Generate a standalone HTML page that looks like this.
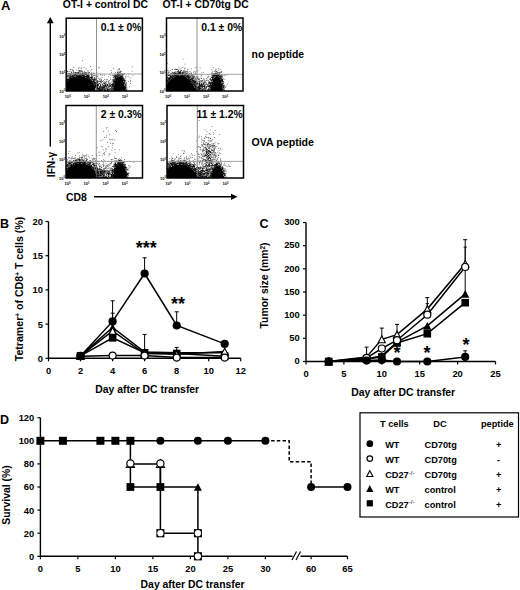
<!DOCTYPE html>
<html><head><meta charset="utf-8"><style>
html,body{margin:0;padding:0;background:#fff;}
svg{display:block;}
text{font-family:"Liberation Sans",sans-serif;font-weight:bold;fill:#000;}
</style></head><body>
<svg width="520" height="590" viewBox="0 0 520 590">
<defs><filter id="bl" x="-5%" y="-5%" width="110%" height="110%"><feGaussianBlur stdDeviation="0.45"/></filter></defs>
<text x="0.9" y="9.6" font-size="13" text-anchor="start" >A</text>
<text x="62.8" y="8.4" font-size="10.4" text-anchor="start" >OT-I + control DC</text>
<text x="162.4" y="8.4" font-size="10.4" text-anchor="start" >OT-I + CD70tg DC</text>
<text x="251.6" y="58.2" font-size="10.4" text-anchor="start" >no peptide</text>
<text x="251.6" y="146" font-size="10.6" text-anchor="start" >OVA peptide</text>
<path d="M66.2 90.0h1v1h-1zM66.2 89.0h1v1h-1zM66.2 88.0h1v1h-1zM66.2 87.0h1v1h-1zM66.2 86.0h1v1h-1zM66.2 85.0h1v1h-1zM66.2 84.0h1v1h-1zM66.2 83.0h1v1h-1zM66.2 82.0h1v1h-1zM67.2 90.0h1v1h-1zM67.2 89.0h1v1h-1zM67.2 88.0h1v1h-1zM67.2 87.0h1v1h-1zM67.2 86.0h1v1h-1zM67.2 85.0h1v1h-1zM67.2 84.0h1v1h-1zM67.2 83.0h1v1h-1zM67.2 82.0h1v1h-1zM67.2 81.0h1v1h-1zM68.2 90.0h1v1h-1zM68.2 89.0h1v1h-1zM68.2 88.0h1v1h-1zM68.2 87.0h1v1h-1zM68.2 86.0h1v1h-1zM68.2 85.0h1v1h-1zM68.2 84.0h1v1h-1zM68.2 83.0h1v1h-1zM68.2 82.0h1v1h-1zM68.2 81.0h1v1h-1zM68.2 80.0h1v1h-1zM69.2 90.0h1v1h-1zM69.2 89.0h1v1h-1zM69.2 88.0h1v1h-1zM69.2 87.0h1v1h-1zM69.2 86.0h1v1h-1zM69.2 85.0h1v1h-1zM69.2 84.0h1v1h-1zM69.2 83.0h1v1h-1zM69.2 82.0h1v1h-1zM69.2 81.0h1v1h-1zM69.2 80.0h1v1h-1zM69.2 79.0h1v1h-1zM70.2 90.0h1v1h-1zM70.2 89.0h1v1h-1zM70.2 88.0h1v1h-1zM70.2 87.0h1v1h-1zM70.2 86.0h1v1h-1zM70.2 85.0h1v1h-1zM70.2 84.0h1v1h-1zM70.2 83.0h1v1h-1zM70.2 82.0h1v1h-1zM70.2 81.0h1v1h-1zM70.2 80.0h1v1h-1zM70.2 79.0h1v1h-1zM70.2 78.0h1v1h-1zM71.2 90.0h1v1h-1zM71.2 89.0h1v1h-1zM71.2 88.0h1v1h-1zM71.2 87.0h1v1h-1zM71.2 86.0h1v1h-1zM71.2 85.0h1v1h-1zM71.2 84.0h1v1h-1zM71.2 83.0h1v1h-1zM71.2 82.0h1v1h-1zM71.2 81.0h1v1h-1zM71.2 80.0h1v1h-1zM71.2 79.0h1v1h-1zM71.2 78.0h1v1h-1zM72.2 90.0h1v1h-1zM72.2 89.0h1v1h-1zM72.2 88.0h1v1h-1zM72.2 87.0h1v1h-1zM72.2 86.0h1v1h-1zM72.2 85.0h1v1h-1zM72.2 84.0h1v1h-1zM72.2 83.0h1v1h-1zM72.2 82.0h1v1h-1zM72.2 81.0h1v1h-1zM72.2 80.0h1v1h-1zM72.2 79.0h1v1h-1zM72.2 78.0h1v1h-1zM72.2 77.0h1v1h-1zM73.2 90.0h1v1h-1zM73.2 89.0h1v1h-1zM73.2 88.0h1v1h-1zM73.2 87.0h1v1h-1zM73.2 86.0h1v1h-1zM73.2 85.0h1v1h-1zM73.2 84.0h1v1h-1zM73.2 83.0h1v1h-1zM73.2 82.0h1v1h-1zM73.2 81.0h1v1h-1zM73.2 80.0h1v1h-1zM73.2 79.0h1v1h-1zM73.2 78.0h1v1h-1zM73.2 77.0h1v1h-1zM74.2 90.0h1v1h-1zM74.2 89.0h1v1h-1zM74.2 88.0h1v1h-1zM74.2 87.0h1v1h-1zM74.2 86.0h1v1h-1zM74.2 85.0h1v1h-1zM74.2 84.0h1v1h-1zM74.2 83.0h1v1h-1zM74.2 82.0h1v1h-1zM74.2 81.0h1v1h-1zM74.2 80.0h1v1h-1zM74.2 79.0h1v1h-1zM74.2 78.0h1v1h-1zM74.2 77.0h1v1h-1zM75.2 90.0h1v1h-1zM75.2 89.0h1v1h-1zM75.2 88.0h1v1h-1zM75.2 87.0h1v1h-1zM75.2 86.0h1v1h-1zM75.2 85.0h1v1h-1zM75.2 84.0h1v1h-1zM75.2 83.0h1v1h-1zM75.2 82.0h1v1h-1zM75.2 81.0h1v1h-1zM75.2 80.0h1v1h-1zM75.2 79.0h1v1h-1zM75.2 78.0h1v1h-1zM75.2 77.0h1v1h-1zM76.2 90.0h1v1h-1zM76.2 89.0h1v1h-1zM76.2 88.0h1v1h-1zM76.2 87.0h1v1h-1zM76.2 86.0h1v1h-1zM76.2 85.0h1v1h-1zM76.2 84.0h1v1h-1zM76.2 83.0h1v1h-1zM76.2 82.0h1v1h-1zM76.2 81.0h1v1h-1zM76.2 80.0h1v1h-1zM76.2 79.0h1v1h-1zM76.2 78.0h1v1h-1zM76.2 77.0h1v1h-1zM76.2 76.0h1v1h-1zM77.2 90.0h1v1h-1zM77.2 89.0h1v1h-1zM77.2 88.0h1v1h-1zM77.2 87.0h1v1h-1zM77.2 86.0h1v1h-1zM77.2 85.0h1v1h-1zM77.2 84.0h1v1h-1zM77.2 83.0h1v1h-1zM77.2 82.0h1v1h-1zM77.2 81.0h1v1h-1zM77.2 80.0h1v1h-1zM77.2 79.0h1v1h-1zM77.2 78.0h1v1h-1zM77.2 77.0h1v1h-1zM77.2 76.0h1v1h-1zM78.2 90.0h1v1h-1zM78.2 89.0h1v1h-1zM78.2 88.0h1v1h-1zM78.2 87.0h1v1h-1zM78.2 86.0h1v1h-1zM78.2 85.0h1v1h-1zM78.2 84.0h1v1h-1zM78.2 83.0h1v1h-1zM78.2 82.0h1v1h-1zM78.2 81.0h1v1h-1zM78.2 80.0h1v1h-1zM78.2 79.0h1v1h-1zM78.2 78.0h1v1h-1zM78.2 77.0h1v1h-1zM78.2 76.0h1v1h-1zM79.2 90.0h1v1h-1zM79.2 89.0h1v1h-1zM79.2 88.0h1v1h-1zM79.2 87.0h1v1h-1zM79.2 86.0h1v1h-1zM79.2 85.0h1v1h-1zM79.2 84.0h1v1h-1zM79.2 83.0h1v1h-1zM79.2 82.0h1v1h-1zM79.2 81.0h1v1h-1zM79.2 80.0h1v1h-1zM79.2 79.0h1v1h-1zM79.2 78.0h1v1h-1zM79.2 77.0h1v1h-1zM79.2 76.0h1v1h-1zM80.2 90.0h1v1h-1zM80.2 89.0h1v1h-1zM80.2 88.0h1v1h-1zM80.2 87.0h1v1h-1zM80.2 86.0h1v1h-1zM80.2 85.0h1v1h-1zM80.2 84.0h1v1h-1zM80.2 83.0h1v1h-1zM80.2 82.0h1v1h-1zM80.2 81.0h1v1h-1zM80.2 80.0h1v1h-1zM80.2 79.0h1v1h-1zM80.2 78.0h1v1h-1zM80.2 77.0h1v1h-1zM80.2 76.0h1v1h-1zM81.2 90.0h1v1h-1zM81.2 89.0h1v1h-1zM81.2 88.0h1v1h-1zM81.2 87.0h1v1h-1zM81.2 86.0h1v1h-1zM81.2 85.0h1v1h-1zM81.2 84.0h1v1h-1zM81.2 83.0h1v1h-1zM81.2 82.0h1v1h-1zM81.2 81.0h1v1h-1zM81.2 80.0h1v1h-1zM81.2 79.0h1v1h-1zM81.2 78.0h1v1h-1zM81.2 77.0h1v1h-1zM81.2 76.0h1v1h-1zM82.2 90.0h1v1h-1zM82.2 89.0h1v1h-1zM82.2 88.0h1v1h-1zM82.2 87.0h1v1h-1zM82.2 86.0h1v1h-1zM82.2 85.0h1v1h-1zM82.2 84.0h1v1h-1zM82.2 83.0h1v1h-1zM82.2 82.0h1v1h-1zM82.2 81.0h1v1h-1zM82.2 80.0h1v1h-1zM82.2 79.0h1v1h-1zM82.2 78.0h1v1h-1zM82.2 77.0h1v1h-1zM83.2 90.0h1v1h-1zM83.2 89.0h1v1h-1zM83.2 88.0h1v1h-1zM83.2 87.0h1v1h-1zM83.2 86.0h1v1h-1zM83.2 85.0h1v1h-1zM83.2 84.0h1v1h-1zM83.2 83.0h1v1h-1zM83.2 82.0h1v1h-1zM83.2 81.0h1v1h-1zM83.2 80.0h1v1h-1zM83.2 79.0h1v1h-1zM83.2 78.0h1v1h-1zM83.2 77.0h1v1h-1zM84.2 90.0h1v1h-1zM84.2 89.0h1v1h-1zM84.2 88.0h1v1h-1zM84.2 87.0h1v1h-1zM84.2 86.0h1v1h-1zM84.2 85.0h1v1h-1zM84.2 84.0h1v1h-1zM84.2 83.0h1v1h-1zM84.2 82.0h1v1h-1zM84.2 81.0h1v1h-1zM84.2 80.0h1v1h-1zM84.2 79.0h1v1h-1zM84.2 78.0h1v1h-1zM84.2 77.0h1v1h-1zM85.2 90.0h1v1h-1zM85.2 89.0h1v1h-1zM85.2 88.0h1v1h-1zM85.2 87.0h1v1h-1zM85.2 86.0h1v1h-1zM85.2 85.0h1v1h-1zM85.2 84.0h1v1h-1zM85.2 83.0h1v1h-1zM85.2 82.0h1v1h-1zM85.2 81.0h1v1h-1zM85.2 80.0h1v1h-1zM85.2 79.0h1v1h-1zM85.2 78.0h1v1h-1zM86.2 90.0h1v1h-1zM86.2 89.0h1v1h-1zM86.2 88.0h1v1h-1zM86.2 87.0h1v1h-1zM86.2 86.0h1v1h-1zM86.2 85.0h1v1h-1zM86.2 84.0h1v1h-1zM86.2 83.0h1v1h-1zM86.2 82.0h1v1h-1zM86.2 81.0h1v1h-1zM86.2 80.0h1v1h-1zM86.2 79.0h1v1h-1zM86.2 78.0h1v1h-1zM87.2 90.0h1v1h-1zM87.2 89.0h1v1h-1zM87.2 88.0h1v1h-1zM87.2 87.0h1v1h-1zM87.2 86.0h1v1h-1zM87.2 85.0h1v1h-1zM87.2 84.0h1v1h-1zM87.2 83.0h1v1h-1zM87.2 82.0h1v1h-1zM87.2 81.0h1v1h-1zM87.2 80.0h1v1h-1zM87.2 79.0h1v1h-1zM88.2 90.0h1v1h-1zM88.2 89.0h1v1h-1zM88.2 88.0h1v1h-1zM88.2 87.0h1v1h-1zM88.2 86.0h1v1h-1zM88.2 85.0h1v1h-1zM88.2 84.0h1v1h-1zM88.2 83.0h1v1h-1zM88.2 82.0h1v1h-1zM88.2 81.0h1v1h-1zM88.2 80.0h1v1h-1zM88.2 79.0h1v1h-1zM89.2 90.0h1v1h-1zM89.2 89.0h1v1h-1zM89.2 88.0h1v1h-1zM89.2 87.0h1v1h-1zM89.2 86.0h1v1h-1zM89.2 85.0h1v1h-1zM89.2 84.0h1v1h-1zM89.2 83.0h1v1h-1zM89.2 82.0h1v1h-1zM89.2 81.0h1v1h-1zM89.2 80.0h1v1h-1zM90.2 90.0h1v1h-1zM90.2 89.0h1v1h-1zM90.2 88.0h1v1h-1zM90.2 87.0h1v1h-1zM90.2 86.0h1v1h-1zM90.2 85.0h1v1h-1zM90.2 84.0h1v1h-1zM90.2 83.0h1v1h-1zM90.2 82.0h1v1h-1zM90.2 81.0h1v1h-1zM91.2 90.0h1v1h-1zM91.2 89.0h1v1h-1zM91.2 88.0h1v1h-1zM91.2 87.0h1v1h-1zM91.2 86.0h1v1h-1zM91.2 85.0h1v1h-1zM91.2 84.0h1v1h-1zM91.2 83.0h1v1h-1zM91.2 82.0h1v1h-1zM92.2 90.0h1v1h-1zM92.2 89.0h1v1h-1zM92.2 88.0h1v1h-1zM92.2 87.0h1v1h-1zM92.2 86.0h1v1h-1zM92.2 85.0h1v1h-1zM92.2 84.0h1v1h-1zM92.2 83.0h1v1h-1zM93.2 90.0h1v1h-1zM93.2 89.0h1v1h-1zM93.2 88.0h1v1h-1zM93.2 87.0h1v1h-1zM93.2 86.0h1v1h-1zM93.2 85.0h1v1h-1zM94.2 90.0h1v1h-1zM94.2 89.0h1v1h-1zM94.2 88.0h1v1h-1zM94.2 87.0h1v1h-1zM94.2 86.0h1v1h-1zM113.2 90.0h1v1h-1zM113.2 89.0h1v1h-1zM113.2 88.0h1v1h-1zM113.2 87.0h1v1h-1zM113.2 86.0h1v1h-1zM113.2 85.0h1v1h-1zM114.2 90.0h1v1h-1zM114.2 89.0h1v1h-1zM114.2 88.0h1v1h-1zM114.2 87.0h1v1h-1zM114.2 86.0h1v1h-1zM114.2 85.0h1v1h-1zM114.2 84.0h1v1h-1zM114.2 83.0h1v1h-1zM114.2 82.0h1v1h-1zM114.2 81.0h1v1h-1zM115.2 90.0h1v1h-1zM115.2 89.0h1v1h-1zM115.2 88.0h1v1h-1zM115.2 87.0h1v1h-1zM115.2 86.0h1v1h-1zM115.2 85.0h1v1h-1zM115.2 84.0h1v1h-1zM115.2 83.0h1v1h-1zM115.2 82.0h1v1h-1zM115.2 81.0h1v1h-1zM115.2 80.0h1v1h-1zM115.2 79.0h1v1h-1zM116.2 90.0h1v1h-1zM116.2 89.0h1v1h-1zM116.2 88.0h1v1h-1zM116.2 87.0h1v1h-1zM116.2 86.0h1v1h-1zM116.2 85.0h1v1h-1zM116.2 84.0h1v1h-1zM116.2 83.0h1v1h-1zM116.2 82.0h1v1h-1zM116.2 81.0h1v1h-1zM116.2 80.0h1v1h-1zM116.2 79.0h1v1h-1zM116.2 78.0h1v1h-1zM117.2 90.0h1v1h-1zM117.2 89.0h1v1h-1zM117.2 88.0h1v1h-1zM117.2 87.0h1v1h-1zM117.2 86.0h1v1h-1zM117.2 85.0h1v1h-1zM117.2 84.0h1v1h-1zM117.2 83.0h1v1h-1zM117.2 82.0h1v1h-1zM117.2 81.0h1v1h-1zM117.2 80.0h1v1h-1zM117.2 79.0h1v1h-1zM117.2 78.0h1v1h-1zM117.2 77.0h1v1h-1zM118.2 90.0h1v1h-1zM118.2 89.0h1v1h-1zM118.2 88.0h1v1h-1zM118.2 87.0h1v1h-1zM118.2 86.0h1v1h-1zM118.2 85.0h1v1h-1zM118.2 84.0h1v1h-1zM118.2 83.0h1v1h-1zM118.2 82.0h1v1h-1zM118.2 81.0h1v1h-1zM118.2 80.0h1v1h-1zM118.2 79.0h1v1h-1zM118.2 78.0h1v1h-1zM118.2 77.0h1v1h-1zM119.2 90.0h1v1h-1zM119.2 89.0h1v1h-1zM119.2 88.0h1v1h-1zM119.2 87.0h1v1h-1zM119.2 86.0h1v1h-1zM119.2 85.0h1v1h-1zM119.2 84.0h1v1h-1zM119.2 83.0h1v1h-1zM119.2 82.0h1v1h-1zM119.2 81.0h1v1h-1zM119.2 80.0h1v1h-1zM119.2 79.0h1v1h-1zM119.2 78.0h1v1h-1zM119.2 77.0h1v1h-1zM120.2 90.0h1v1h-1zM120.2 89.0h1v1h-1zM120.2 88.0h1v1h-1zM120.2 87.0h1v1h-1zM120.2 86.0h1v1h-1zM120.2 85.0h1v1h-1zM120.2 84.0h1v1h-1zM120.2 83.0h1v1h-1zM120.2 82.0h1v1h-1zM120.2 81.0h1v1h-1zM120.2 80.0h1v1h-1zM120.2 79.0h1v1h-1zM120.2 78.0h1v1h-1zM120.2 77.0h1v1h-1zM121.2 90.0h1v1h-1zM121.2 89.0h1v1h-1zM121.2 88.0h1v1h-1zM121.2 87.0h1v1h-1zM121.2 86.0h1v1h-1zM121.2 85.0h1v1h-1zM121.2 84.0h1v1h-1zM121.2 83.0h1v1h-1zM121.2 82.0h1v1h-1zM121.2 81.0h1v1h-1zM121.2 80.0h1v1h-1zM121.2 79.0h1v1h-1zM121.2 78.0h1v1h-1zM122.2 90.0h1v1h-1zM122.2 89.0h1v1h-1zM122.2 88.0h1v1h-1zM122.2 87.0h1v1h-1zM122.2 86.0h1v1h-1zM122.2 85.0h1v1h-1zM122.2 84.0h1v1h-1zM122.2 83.0h1v1h-1zM122.2 82.0h1v1h-1zM122.2 81.0h1v1h-1zM122.2 80.0h1v1h-1zM122.2 79.0h1v1h-1zM123.2 90.0h1v1h-1zM123.2 89.0h1v1h-1zM123.2 88.0h1v1h-1zM123.2 87.0h1v1h-1zM123.2 86.0h1v1h-1zM123.2 85.0h1v1h-1zM123.2 84.0h1v1h-1zM123.2 83.0h1v1h-1zM123.2 82.0h1v1h-1zM124.2 90.0h1v1h-1zM124.2 89.0h1v1h-1zM124.2 88.0h1v1h-1zM124.2 87.0h1v1h-1zM124.2 86.0h1v1h-1z" fill="#000" filter="url(#bl)"/>
<path d="M65.9 81.3h.8v.8h-.8zM66.1 80.9h.8v.8h-.8zM66.1 80.5h.8v.8h-.8zM65.9 80.0h.8v.8h-.8zM66.2 79.5h.8v.8h-.8zM66.1 78.7h.8v.8h-.8zM66.2 78.0h.8v.8h-.8zM65.9 77.0h.8v.8h-.8zM66.2 76.5h.8v.8h-.8zM66.4 80.9h.8v.8h-.8zM66.7 80.5h.8v.8h-.8zM66.7 79.8h.8v.8h-.8zM66.6 79.5h.8v.8h-.8zM66.7 78.7h.8v.8h-.8zM66.5 78.0h.8v.8h-.8zM66.7 75.2h.8v.8h-.8zM67.1 80.2h.8v.8h-.8zM66.9 79.4h.8v.8h-.8zM66.9 79.0h.8v.8h-.8zM67.1 76.8h.8v.8h-.8zM67.2 76.2h.8v.8h-.8zM67.2 75.9h.8v.8h-.8zM67.4 79.9h.8v.8h-.8zM67.4 79.4h.8v.8h-.8zM67.6 78.8h.8v.8h-.8zM67.5 76.2h.8v.8h-.8zM67.6 75.8h.8v.8h-.8zM67.7 75.2h.8v.8h-.8zM68.2 79.5h.8v.8h-.8zM68.1 79.0h.8v.8h-.8zM68.2 78.2h.8v.8h-.8zM68.1 74.9h.8v.8h-.8zM68.4 78.9h.8v.8h-.8zM68.6 78.5h.8v.8h-.8zM68.4 76.7h.8v.8h-.8zM68.7 76.5h.8v.8h-.8zM68.7 75.9h.8v.8h-.8zM68.4 74.4h.8v.8h-.8zM69.1 79.0h.8v.8h-.8zM68.9 78.5h.8v.8h-.8zM69.0 77.4h.8v.8h-.8zM68.9 76.2h.8v.8h-.8zM69.0 74.7h.8v.8h-.8zM69.5 78.4h.8v.8h-.8zM69.5 77.8h.8v.8h-.8zM69.5 77.5h.8v.8h-.8zM69.5 77.0h.8v.8h-.8zM69.5 75.0h.8v.8h-.8zM69.5 74.5h.8v.8h-.8zM70.2 78.0h.8v.8h-.8zM70.0 77.5h.8v.8h-.8zM70.2 77.0h.8v.8h-.8zM70.2 76.5h.8v.8h-.8zM70.1 75.8h.8v.8h-.8zM70.0 74.4h.8v.8h-.8zM70.2 73.7h.8v.8h-.8zM70.7 77.7h.8v.8h-.8zM70.5 77.4h.8v.8h-.8zM70.5 76.4h.8v.8h-.8zM70.7 75.4h.8v.8h-.8zM70.6 74.9h.8v.8h-.8zM70.6 74.5h.8v.8h-.8zM70.9 76.8h.8v.8h-.8zM71.1 76.3h.8v.8h-.8zM71.1 73.4h.8v.8h-.8zM71.6 77.3h.8v.8h-.8zM71.7 76.3h.8v.8h-.8zM71.7 76.0h.8v.8h-.8zM71.7 74.4h.8v.8h-.8zM71.5 72.4h.8v.8h-.8zM72.1 77.0h.8v.8h-.8zM71.9 75.9h.8v.8h-.8zM72.0 75.3h.8v.8h-.8zM72.2 74.9h.8v.8h-.8zM72.4 76.7h.8v.8h-.8zM72.6 76.3h.8v.8h-.8zM72.5 75.0h.8v.8h-.8zM72.4 73.4h.8v.8h-.8zM73.0 76.3h.8v.8h-.8zM73.2 75.9h.8v.8h-.8zM73.2 73.9h.8v.8h-.8zM72.9 72.7h.8v.8h-.8zM73.5 76.3h.8v.8h-.8zM73.4 76.0h.8v.8h-.8zM73.5 75.4h.8v.8h-.8zM73.4 74.8h.8v.8h-.8zM73.6 72.4h.8v.8h-.8zM74.0 75.8h.8v.8h-.8zM74.1 74.7h.8v.8h-.8zM74.0 74.2h.8v.8h-.8zM74.2 72.8h.8v.8h-.8zM74.5 75.7h.8v.8h-.8zM74.5 75.2h.8v.8h-.8zM74.5 74.3h.8v.8h-.8zM74.7 74.0h.8v.8h-.8zM74.5 72.5h.8v.8h-.8zM75.2 76.0h.8v.8h-.8zM75.1 74.7h.8v.8h-.8zM75.1 74.2h.8v.8h-.8zM74.9 72.9h.8v.8h-.8zM75.0 72.0h.8v.8h-.8zM75.6 75.8h.8v.8h-.8zM75.5 75.4h.8v.8h-.8zM75.5 73.4h.8v.8h-.8zM75.4 71.9h.8v.8h-.8zM75.9 76.0h.8v.8h-.8zM76.2 75.5h.8v.8h-.8zM76.0 74.8h.8v.8h-.8zM75.9 74.2h.8v.8h-.8zM76.0 72.0h.8v.8h-.8zM76.4 75.8h.8v.8h-.8zM76.4 74.8h.8v.8h-.8zM76.7 73.2h.8v.8h-.8zM76.4 73.0h.8v.8h-.8zM77.1 75.5h.8v.8h-.8zM77.2 73.7h.8v.8h-.8zM77.0 73.4h.8v.8h-.8zM77.1 72.3h.8v.8h-.8zM77.6 75.8h.8v.8h-.8zM77.6 74.8h.8v.8h-.8zM77.6 74.4h.8v.8h-.8zM77.6 73.8h.8v.8h-.8zM77.6 73.3h.8v.8h-.8zM77.6 72.9h.8v.8h-.8zM78.2 75.2h.8v.8h-.8zM77.9 75.0h.8v.8h-.8zM77.9 73.7h.8v.8h-.8zM78.1 72.8h.8v.8h-.8zM78.1 71.9h.8v.8h-.8zM78.7 75.5h.8v.8h-.8zM78.5 72.7h.8v.8h-.8zM78.5 71.2h.8v.8h-.8zM78.9 75.5h.8v.8h-.8zM79.2 74.7h.8v.8h-.8zM79.0 73.7h.8v.8h-.8zM79.1 71.7h.8v.8h-.8zM79.6 75.3h.8v.8h-.8zM79.6 74.8h.8v.8h-.8zM79.5 73.7h.8v.8h-.8zM79.7 73.3h.8v.8h-.8zM80.1 75.8h.8v.8h-.8zM80.0 75.0h.8v.8h-.8zM80.1 74.2h.8v.8h-.8zM80.2 71.7h.8v.8h-.8zM80.7 75.9h.8v.8h-.8zM80.4 75.4h.8v.8h-.8zM80.4 74.0h.8v.8h-.8zM80.7 73.4h.8v.8h-.8zM81.0 75.9h.8v.8h-.8zM81.1 75.5h.8v.8h-.8zM80.9 73.8h.8v.8h-.8zM81.0 73.5h.8v.8h-.8zM81.1 71.2h.8v.8h-.8zM81.7 75.8h.8v.8h-.8zM81.7 75.5h.8v.8h-.8zM81.5 74.9h.8v.8h-.8zM81.6 74.0h.8v.8h-.8zM81.7 73.0h.8v.8h-.8zM81.7 71.7h.8v.8h-.8zM82.2 75.5h.8v.8h-.8zM82.1 74.7h.8v.8h-.8zM81.9 74.5h.8v.8h-.8zM81.9 74.0h.8v.8h-.8zM82.4 76.0h.8v.8h-.8zM82.5 75.5h.8v.8h-.8zM82.5 74.9h.8v.8h-.8zM82.6 74.2h.8v.8h-.8zM82.6 73.4h.8v.8h-.8zM82.5 73.0h.8v.8h-.8zM82.5 71.7h.8v.8h-.8zM82.9 76.3h.8v.8h-.8zM83.2 75.7h.8v.8h-.8zM82.9 75.5h.8v.8h-.8zM83.1 74.9h.8v.8h-.8zM82.9 72.9h.8v.8h-.8zM83.5 76.3h.8v.8h-.8zM83.7 76.0h.8v.8h-.8zM83.5 75.2h.8v.8h-.8zM83.7 74.7h.8v.8h-.8zM83.7 73.8h.8v.8h-.8zM83.7 72.3h.8v.8h-.8zM84.0 76.3h.8v.8h-.8zM84.1 75.7h.8v.8h-.8zM84.1 75.3h.8v.8h-.8zM84.2 73.2h.8v.8h-.8zM84.2 72.9h.8v.8h-.8zM83.9 72.2h.8v.8h-.8zM84.7 76.9h.8v.8h-.8zM84.6 76.2h.8v.8h-.8zM84.4 75.7h.8v.8h-.8zM84.4 74.0h.8v.8h-.8zM84.6 73.3h.8v.8h-.8zM84.4 73.0h.8v.8h-.8zM84.9 76.3h.8v.8h-.8zM85.1 76.0h.8v.8h-.8zM85.1 73.9h.8v.8h-.8zM85.2 73.5h.8v.8h-.8zM85.2 72.2h.8v.8h-.8zM85.7 77.5h.8v.8h-.8zM85.7 76.3h.8v.8h-.8zM85.7 75.9h.8v.8h-.8zM85.7 74.7h.8v.8h-.8zM85.6 74.4h.8v.8h-.8zM85.5 73.8h.8v.8h-.8zM85.9 77.3h.8v.8h-.8zM86.1 76.7h.8v.8h-.8zM86.1 76.2h.8v.8h-.8zM86.0 76.0h.8v.8h-.8zM86.1 74.4h.8v.8h-.8zM86.2 73.4h.8v.8h-.8zM85.9 72.8h.8v.8h-.8zM86.5 77.9h.8v.8h-.8zM86.5 77.2h.8v.8h-.8zM86.6 76.8h.8v.8h-.8zM86.4 76.3h.8v.8h-.8zM86.4 75.2h.8v.8h-.8zM86.6 74.3h.8v.8h-.8zM86.4 73.9h.8v.8h-.8zM87.1 77.7h.8v.8h-.8zM86.9 77.4h.8v.8h-.8zM87.2 76.4h.8v.8h-.8zM87.2 75.7h.8v.8h-.8zM87.1 75.0h.8v.8h-.8zM87.4 78.5h.8v.8h-.8zM87.4 77.9h.8v.8h-.8zM87.5 77.3h.8v.8h-.8zM87.7 76.5h.8v.8h-.8zM87.7 75.8h.8v.8h-.8zM87.7 74.9h.8v.8h-.8zM87.6 73.8h.8v.8h-.8zM88.0 78.7h.8v.8h-.8zM88.0 78.2h.8v.8h-.8zM87.9 77.8h.8v.8h-.8zM88.2 77.2h.8v.8h-.8zM88.1 76.9h.8v.8h-.8zM88.0 76.2h.8v.8h-.8zM88.1 75.8h.8v.8h-.8zM88.2 75.5h.8v.8h-.8zM88.1 75.0h.8v.8h-.8zM88.0 74.0h.8v.8h-.8zM87.9 73.5h.8v.8h-.8zM88.5 79.0h.8v.8h-.8zM88.5 78.5h.8v.8h-.8zM88.4 77.2h.8v.8h-.8zM88.5 77.0h.8v.8h-.8zM88.6 76.3h.8v.8h-.8zM88.5 75.2h.8v.8h-.8zM89.0 79.2h.8v.8h-.8zM89.0 78.8h.8v.8h-.8zM89.2 77.8h.8v.8h-.8zM89.0 76.8h.8v.8h-.8zM89.5 79.9h.8v.8h-.8zM89.6 79.5h.8v.8h-.8zM89.5 78.7h.8v.8h-.8zM89.5 78.4h.8v.8h-.8zM89.6 76.7h.8v.8h-.8zM89.5 76.5h.8v.8h-.8zM89.5 74.7h.8v.8h-.8zM90.1 80.3h.8v.8h-.8zM90.0 80.0h.8v.8h-.8zM90.0 78.7h.8v.8h-.8zM89.9 77.3h.8v.8h-.8zM90.1 76.9h.8v.8h-.8zM90.7 80.9h.8v.8h-.8zM90.5 79.7h.8v.8h-.8zM90.7 79.2h.8v.8h-.8zM90.6 78.7h.8v.8h-.8zM90.7 78.2h.8v.8h-.8zM90.7 77.0h.8v.8h-.8zM91.0 81.4h.8v.8h-.8zM91.2 81.0h.8v.8h-.8zM91.1 80.4h.8v.8h-.8zM91.1 79.9h.8v.8h-.8zM90.9 79.2h.8v.8h-.8zM91.0 78.4h.8v.8h-.8zM91.2 77.7h.8v.8h-.8zM91.0 77.3h.8v.8h-.8zM91.2 75.2h.8v.8h-.8zM91.4 81.7h.8v.8h-.8zM91.7 81.5h.8v.8h-.8zM91.5 80.7h.8v.8h-.8zM91.4 80.5h.8v.8h-.8zM91.5 78.0h.8v.8h-.8zM91.6 76.9h.8v.8h-.8zM91.5 76.2h.8v.8h-.8zM91.4 75.8h.8v.8h-.8zM92.0 82.2h.8v.8h-.8zM92.0 81.3h.8v.8h-.8zM92.2 80.9h.8v.8h-.8zM92.1 79.2h.8v.8h-.8zM92.2 77.8h.8v.8h-.8zM92.0 76.3h.8v.8h-.8zM92.7 83.2h.8v.8h-.8zM92.5 82.8h.8v.8h-.8zM92.7 81.4h.8v.8h-.8zM92.7 81.0h.8v.8h-.8zM92.6 79.8h.8v.8h-.8zM92.7 79.4h.8v.8h-.8zM92.5 78.8h.8v.8h-.8zM92.4 77.8h.8v.8h-.8zM92.5 77.2h.8v.8h-.8zM92.9 83.9h.8v.8h-.8zM93.1 83.2h.8v.8h-.8zM92.9 82.0h.8v.8h-.8zM92.9 80.2h.8v.8h-.8zM93.0 80.0h.8v.8h-.8zM93.4 84.4h.8v.8h-.8zM93.7 84.0h.8v.8h-.8zM93.5 83.3h.8v.8h-.8zM93.6 82.7h.8v.8h-.8zM93.6 82.0h.8v.8h-.8zM93.4 81.5h.8v.8h-.8zM93.7 80.8h.8v.8h-.8zM93.4 80.3h.8v.8h-.8zM93.4 79.3h.8v.8h-.8zM93.7 78.5h.8v.8h-.8zM94.1 85.3h.8v.8h-.8zM93.9 83.7h.8v.8h-.8zM93.9 83.5h.8v.8h-.8zM94.1 82.9h.8v.8h-.8zM93.9 82.3h.8v.8h-.8zM94.0 81.7h.8v.8h-.8zM94.0 79.9h.8v.8h-.8zM94.1 79.2h.8v.8h-.8zM94.1 78.7h.8v.8h-.8zM94.0 77.3h.8v.8h-.8zM94.6 86.3h.8v.8h-.8zM94.4 85.9h.8v.8h-.8zM94.6 85.3h.8v.8h-.8zM94.7 84.4h.8v.8h-.8zM94.5 83.9h.8v.8h-.8zM94.4 82.9h.8v.8h-.8zM94.6 82.3h.8v.8h-.8zM94.7 81.7h.8v.8h-.8zM94.4 81.3h.8v.8h-.8zM94.5 79.2h.8v.8h-.8zM94.4 78.2h.8v.8h-.8zM95.2 87.2h.8v.8h-.8zM95.0 86.7h.8v.8h-.8zM95.2 86.2h.8v.8h-.8zM95.2 85.8h.8v.8h-.8zM95.0 85.3h.8v.8h-.8zM95.2 84.7h.8v.8h-.8zM94.9 84.2h.8v.8h-.8zM94.9 82.7h.8v.8h-.8zM95.0 82.2h.8v.8h-.8zM95.1 82.0h.8v.8h-.8zM95.2 80.2h.8v.8h-.8zM95.5 90.4h.8v.8h-.8zM95.6 89.9h.8v.8h-.8zM95.7 89.3h.8v.8h-.8zM95.6 88.4h.8v.8h-.8zM95.6 87.3h.8v.8h-.8zM95.4 86.9h.8v.8h-.8zM95.7 86.5h.8v.8h-.8zM95.5 85.7h.8v.8h-.8zM95.6 85.5h.8v.8h-.8zM95.6 84.9h.8v.8h-.8zM95.5 84.2h.8v.8h-.8zM95.6 83.9h.8v.8h-.8zM95.4 83.2h.8v.8h-.8zM95.5 82.5h.8v.8h-.8zM95.4 79.3h.8v.8h-.8zM95.6 79.0h.8v.8h-.8zM95.9 90.0h.8v.8h-.8zM96.2 89.5h.8v.8h-.8zM96.0 88.9h.8v.8h-.8zM96.1 87.7h.8v.8h-.8zM96.1 87.4h.8v.8h-.8zM96.1 86.8h.8v.8h-.8zM96.2 86.5h.8v.8h-.8zM96.2 85.7h.8v.8h-.8zM96.2 85.5h.8v.8h-.8zM95.9 84.2h.8v.8h-.8zM96.2 84.0h.8v.8h-.8zM96.0 83.5h.8v.8h-.8zM96.0 82.8h.8v.8h-.8zM96.2 80.7h.8v.8h-.8zM96.0 79.5h.8v.8h-.8zM96.4 90.2h.8v.8h-.8zM96.6 89.7h.8v.8h-.8zM96.6 89.2h.8v.8h-.8zM96.5 88.7h.8v.8h-.8zM96.7 88.4h.8v.8h-.8zM96.5 87.8h.8v.8h-.8zM96.4 86.7h.8v.8h-.8zM96.7 86.0h.8v.8h-.8zM96.7 85.2h.8v.8h-.8zM96.5 84.4h.8v.8h-.8zM96.5 83.3h.8v.8h-.8zM96.5 82.0h.8v.8h-.8zM96.7 81.2h.8v.8h-.8zM96.5 80.7h.8v.8h-.8zM96.9 89.5h.8v.8h-.8zM96.9 89.0h.8v.8h-.8zM97.2 88.2h.8v.8h-.8zM97.2 88.0h.8v.8h-.8zM97.0 87.2h.8v.8h-.8zM97.2 86.8h.8v.8h-.8zM96.9 86.0h.8v.8h-.8zM97.2 85.0h.8v.8h-.8zM96.9 84.2h.8v.8h-.8zM97.1 83.5h.8v.8h-.8zM97.2 82.3h.8v.8h-.8zM96.9 81.3h.8v.8h-.8zM97.2 80.2h.8v.8h-.8zM97.5 90.3h.8v.8h-.8zM97.7 90.0h.8v.8h-.8zM97.7 88.2h.8v.8h-.8zM97.7 88.0h.8v.8h-.8zM97.4 85.8h.8v.8h-.8zM97.6 84.2h.8v.8h-.8zM97.7 83.7h.8v.8h-.8zM97.4 81.4h.8v.8h-.8zM97.7 80.9h.8v.8h-.8zM98.1 89.7h.8v.8h-.8zM97.9 88.7h.8v.8h-.8zM98.2 88.2h.8v.8h-.8zM97.9 85.3h.8v.8h-.8zM97.9 84.8h.8v.8h-.8zM98.0 84.2h.8v.8h-.8zM98.4 90.0h.8v.8h-.8zM98.5 89.3h.8v.8h-.8zM98.4 88.5h.8v.8h-.8zM98.4 87.9h.8v.8h-.8zM98.6 87.2h.8v.8h-.8zM98.6 86.5h.8v.8h-.8zM98.4 84.2h.8v.8h-.8zM98.6 83.0h.8v.8h-.8zM98.6 80.7h.8v.8h-.8zM99.0 90.2h.8v.8h-.8zM99.1 89.5h.8v.8h-.8zM99.0 88.8h.8v.8h-.8zM99.1 88.4h.8v.8h-.8zM99.1 87.9h.8v.8h-.8zM98.9 86.2h.8v.8h-.8zM99.2 83.3h.8v.8h-.8zM99.6 90.5h.8v.8h-.8zM99.4 90.0h.8v.8h-.8zM99.5 89.4h.8v.8h-.8zM99.6 88.9h.8v.8h-.8zM99.4 88.5h.8v.8h-.8zM99.4 87.9h.8v.8h-.8zM99.6 87.2h.8v.8h-.8zM99.4 86.7h.8v.8h-.8zM99.6 86.2h.8v.8h-.8zM99.7 86.0h.8v.8h-.8zM100.1 90.3h.8v.8h-.8zM100.0 89.2h.8v.8h-.8zM100.0 88.2h.8v.8h-.8zM100.0 87.8h.8v.8h-.8zM99.9 87.5h.8v.8h-.8zM100.0 86.4h.8v.8h-.8zM99.9 85.7h.8v.8h-.8zM100.0 85.0h.8v.8h-.8zM100.1 84.2h.8v.8h-.8zM99.9 81.8h.8v.8h-.8zM100.6 89.8h.8v.8h-.8zM100.6 89.2h.8v.8h-.8zM100.4 89.0h.8v.8h-.8zM100.5 86.8h.8v.8h-.8zM100.5 85.3h.8v.8h-.8zM100.6 83.4h.8v.8h-.8zM100.5 81.8h.8v.8h-.8zM101.0 90.3h.8v.8h-.8zM101.1 89.8h.8v.8h-.8zM101.0 89.0h.8v.8h-.8zM100.9 88.5h.8v.8h-.8zM101.1 87.2h.8v.8h-.8zM101.1 86.2h.8v.8h-.8zM101.1 81.7h.8v.8h-.8zM101.6 90.0h.8v.8h-.8zM101.6 89.5h.8v.8h-.8zM101.7 88.2h.8v.8h-.8zM101.5 87.9h.8v.8h-.8zM101.6 86.7h.8v.8h-.8zM102.0 89.8h.8v.8h-.8zM102.2 89.2h.8v.8h-.8zM101.9 88.8h.8v.8h-.8zM101.9 88.3h.8v.8h-.8zM101.9 87.3h.8v.8h-.8zM102.1 86.5h.8v.8h-.8zM102.1 84.8h.8v.8h-.8zM101.9 84.4h.8v.8h-.8zM102.1 83.8h.8v.8h-.8zM102.6 88.4h.8v.8h-.8zM102.4 87.4h.8v.8h-.8zM102.4 85.9h.8v.8h-.8zM102.6 84.8h.8v.8h-.8zM102.9 89.4h.8v.8h-.8zM103.2 87.9h.8v.8h-.8zM102.9 87.2h.8v.8h-.8zM103.0 86.4h.8v.8h-.8zM103.2 85.3h.8v.8h-.8zM102.9 84.8h.8v.8h-.8zM103.6 89.3h.8v.8h-.8zM103.7 87.8h.8v.8h-.8zM103.6 87.5h.8v.8h-.8zM103.7 86.9h.8v.8h-.8zM103.5 86.0h.8v.8h-.8zM103.4 83.3h.8v.8h-.8zM103.5 82.4h.8v.8h-.8zM104.0 90.2h.8v.8h-.8zM104.1 89.5h.8v.8h-.8zM104.0 88.8h.8v.8h-.8zM103.9 88.2h.8v.8h-.8zM103.9 88.0h.8v.8h-.8zM104.0 87.3h.8v.8h-.8zM104.1 86.4h.8v.8h-.8zM104.1 85.5h.8v.8h-.8zM104.1 84.5h.8v.8h-.8zM104.1 83.2h.8v.8h-.8zM104.7 89.9h.8v.8h-.8zM104.5 89.5h.8v.8h-.8zM104.5 86.7h.8v.8h-.8zM104.5 86.5h.8v.8h-.8zM104.5 85.8h.8v.8h-.8zM104.7 85.4h.8v.8h-.8zM104.4 84.8h.8v.8h-.8zM104.5 83.3h.8v.8h-.8zM104.6 82.7h.8v.8h-.8zM105.0 90.2h.8v.8h-.8zM105.1 89.9h.8v.8h-.8zM105.1 88.9h.8v.8h-.8zM105.1 88.0h.8v.8h-.8zM105.1 85.4h.8v.8h-.8zM105.2 84.8h.8v.8h-.8zM105.1 84.0h.8v.8h-.8zM104.9 83.5h.8v.8h-.8zM105.6 90.4h.8v.8h-.8zM105.4 88.9h.8v.8h-.8zM105.6 87.7h.8v.8h-.8zM105.7 86.7h.8v.8h-.8zM105.5 85.9h.8v.8h-.8zM105.9 87.3h.8v.8h-.8zM105.9 86.2h.8v.8h-.8zM106.1 84.8h.8v.8h-.8zM106.2 83.4h.8v.8h-.8zM106.6 90.3h.8v.8h-.8zM106.5 89.4h.8v.8h-.8zM106.4 88.0h.8v.8h-.8zM106.4 86.3h.8v.8h-.8zM106.5 85.0h.8v.8h-.8zM107.0 89.5h.8v.8h-.8zM107.1 88.7h.8v.8h-.8zM107.2 85.3h.8v.8h-.8zM107.2 84.5h.8v.8h-.8zM106.9 83.9h.8v.8h-.8zM107.4 90.3h.8v.8h-.8zM107.4 89.5h.8v.8h-.8zM107.5 88.7h.8v.8h-.8zM107.5 88.3h.8v.8h-.8zM107.4 87.7h.8v.8h-.8zM107.5 86.9h.8v.8h-.8zM107.7 86.2h.8v.8h-.8zM107.6 84.0h.8v.8h-.8zM108.1 90.5h.8v.8h-.8zM108.1 90.0h.8v.8h-.8zM108.2 89.0h.8v.8h-.8zM108.1 87.0h.8v.8h-.8zM107.9 85.5h.8v.8h-.8zM108.6 89.5h.8v.8h-.8zM108.7 88.4h.8v.8h-.8zM108.4 85.5h.8v.8h-.8zM109.0 89.5h.8v.8h-.8zM109.1 86.3h.8v.8h-.8zM109.0 86.0h.8v.8h-.8zM109.2 85.0h.8v.8h-.8zM109.7 89.2h.8v.8h-.8zM109.6 88.4h.8v.8h-.8zM109.4 86.8h.8v.8h-.8zM109.5 84.3h.8v.8h-.8zM109.9 88.3h.8v.8h-.8zM110.0 85.5h.8v.8h-.8zM109.9 84.9h.8v.8h-.8zM110.2 84.4h.8v.8h-.8zM110.7 90.0h.8v.8h-.8zM110.4 88.0h.8v.8h-.8zM110.4 86.3h.8v.8h-.8zM110.7 85.7h.8v.8h-.8zM111.0 90.3h.8v.8h-.8zM111.0 89.7h.8v.8h-.8zM110.9 88.7h.8v.8h-.8zM111.0 87.8h.8v.8h-.8zM111.2 86.8h.8v.8h-.8zM111.0 84.4h.8v.8h-.8zM111.4 89.2h.8v.8h-.8zM111.5 87.5h.8v.8h-.8zM111.5 86.7h.8v.8h-.8zM111.7 85.7h.8v.8h-.8zM111.7 85.2h.8v.8h-.8zM111.6 84.2h.8v.8h-.8zM111.5 84.0h.8v.8h-.8zM111.7 83.4h.8v.8h-.8zM112.1 90.4h.8v.8h-.8zM112.0 89.0h.8v.8h-.8zM112.0 88.2h.8v.8h-.8zM112.1 86.0h.8v.8h-.8zM112.2 85.2h.8v.8h-.8zM112.0 84.9h.8v.8h-.8zM112.2 83.4h.8v.8h-.8zM111.9 79.7h.8v.8h-.8zM112.4 88.8h.8v.8h-.8zM112.6 88.5h.8v.8h-.8zM112.6 87.4h.8v.8h-.8zM112.5 86.5h.8v.8h-.8zM112.7 85.4h.8v.8h-.8zM112.5 85.0h.8v.8h-.8zM112.6 84.3h.8v.8h-.8zM112.4 83.8h.8v.8h-.8zM112.5 83.3h.8v.8h-.8zM112.4 83.0h.8v.8h-.8zM112.5 81.4h.8v.8h-.8zM112.4 79.5h.8v.8h-.8zM113.0 84.8h.8v.8h-.8zM113.2 84.3h.8v.8h-.8zM113.1 83.9h.8v.8h-.8zM112.9 83.0h.8v.8h-.8zM113.2 82.3h.8v.8h-.8zM113.0 81.7h.8v.8h-.8zM113.2 81.0h.8v.8h-.8zM113.2 80.0h.8v.8h-.8zM112.9 77.2h.8v.8h-.8zM113.5 82.7h.8v.8h-.8zM113.6 82.3h.8v.8h-.8zM113.6 81.9h.8v.8h-.8zM113.6 81.2h.8v.8h-.8zM113.5 80.3h.8v.8h-.8zM113.5 79.7h.8v.8h-.8zM113.4 78.9h.8v.8h-.8zM113.4 77.4h.8v.8h-.8zM113.5 76.3h.8v.8h-.8zM114.0 81.4h.8v.8h-.8zM113.9 80.9h.8v.8h-.8zM114.2 80.4h.8v.8h-.8zM114.0 79.9h.8v.8h-.8zM114.1 79.4h.8v.8h-.8zM114.0 76.5h.8v.8h-.8zM114.2 75.4h.8v.8h-.8zM114.4 80.2h.8v.8h-.8zM114.6 79.7h.8v.8h-.8zM114.5 79.3h.8v.8h-.8zM114.5 78.8h.8v.8h-.8zM114.6 78.2h.8v.8h-.8zM114.6 77.9h.8v.8h-.8zM114.5 77.5h.8v.8h-.8zM114.5 76.5h.8v.8h-.8zM114.5 75.3h.8v.8h-.8zM114.9 79.3h.8v.8h-.8zM114.9 78.7h.8v.8h-.8zM115.1 78.2h.8v.8h-.8zM115.2 77.7h.8v.8h-.8zM114.9 77.2h.8v.8h-.8zM115.2 76.5h.8v.8h-.8zM115.2 76.0h.8v.8h-.8zM115.2 75.0h.8v.8h-.8zM115.7 77.8h.8v.8h-.8zM115.5 77.3h.8v.8h-.8zM115.6 76.4h.8v.8h-.8zM115.4 75.7h.8v.8h-.8zM115.4 74.4h.8v.8h-.8zM115.9 78.0h.8v.8h-.8zM116.1 77.4h.8v.8h-.8zM116.0 76.2h.8v.8h-.8zM115.9 75.9h.8v.8h-.8zM115.9 75.2h.8v.8h-.8zM116.7 75.7h.8v.8h-.8zM116.7 75.3h.8v.8h-.8zM116.4 74.2h.8v.8h-.8zM116.7 73.7h.8v.8h-.8zM116.9 76.9h.8v.8h-.8zM117.1 76.2h.8v.8h-.8zM117.1 75.8h.8v.8h-.8zM117.0 74.8h.8v.8h-.8zM117.0 74.3h.8v.8h-.8zM117.4 76.3h.8v.8h-.8zM117.7 74.7h.8v.8h-.8zM117.6 73.8h.8v.8h-.8zM117.5 73.5h.8v.8h-.8zM117.6 72.7h.8v.8h-.8zM118.0 76.4h.8v.8h-.8zM118.0 74.9h.8v.8h-.8zM118.0 74.5h.8v.8h-.8zM118.0 73.5h.8v.8h-.8zM117.9 72.7h.8v.8h-.8zM118.6 75.9h.8v.8h-.8zM118.4 75.2h.8v.8h-.8zM118.4 74.8h.8v.8h-.8zM118.5 74.5h.8v.8h-.8zM119.0 75.7h.8v.8h-.8zM118.9 74.8h.8v.8h-.8zM119.2 73.9h.8v.8h-.8zM119.2 72.3h.8v.8h-.8zM119.7 76.0h.8v.8h-.8zM119.7 75.2h.8v.8h-.8zM119.6 74.0h.8v.8h-.8zM119.5 73.0h.8v.8h-.8zM119.9 76.5h.8v.8h-.8zM120.2 76.0h.8v.8h-.8zM120.1 72.4h.8v.8h-.8zM120.4 76.8h.8v.8h-.8zM120.7 76.5h.8v.8h-.8zM120.4 74.8h.8v.8h-.8zM120.5 74.5h.8v.8h-.8zM120.7 73.7h.8v.8h-.8zM121.0 77.2h.8v.8h-.8zM121.2 76.8h.8v.8h-.8zM121.2 76.5h.8v.8h-.8zM121.0 76.0h.8v.8h-.8zM120.9 75.0h.8v.8h-.8zM121.7 77.7h.8v.8h-.8zM121.5 77.2h.8v.8h-.8zM121.6 76.7h.8v.8h-.8zM121.5 76.5h.8v.8h-.8zM121.7 74.7h.8v.8h-.8zM121.6 73.2h.8v.8h-.8zM121.9 78.2h.8v.8h-.8zM122.0 77.9h.8v.8h-.8zM122.1 77.5h.8v.8h-.8zM122.0 76.9h.8v.8h-.8zM121.9 76.2h.8v.8h-.8zM122.1 75.7h.8v.8h-.8zM122.0 75.3h.8v.8h-.8zM122.4 79.0h.8v.8h-.8zM122.6 77.9h.8v.8h-.8zM122.6 76.8h.8v.8h-.8zM122.4 74.2h.8v.8h-.8zM123.0 80.2h.8v.8h-.8zM123.0 80.0h.8v.8h-.8zM123.0 79.2h.8v.8h-.8zM123.0 78.2h.8v.8h-.8zM123.0 77.4h.8v.8h-.8zM123.4 81.9h.8v.8h-.8zM123.7 81.2h.8v.8h-.8zM123.6 81.0h.8v.8h-.8zM123.7 80.5h.8v.8h-.8zM123.4 80.0h.8v.8h-.8zM123.4 79.2h.8v.8h-.8zM123.6 79.0h.8v.8h-.8zM124.2 83.7h.8v.8h-.8zM124.2 83.0h.8v.8h-.8zM124.0 82.3h.8v.8h-.8zM124.0 81.4h.8v.8h-.8zM124.2 80.4h.8v.8h-.8zM124.2 79.8h.8v.8h-.8zM124.5 87.2h.8v.8h-.8zM124.5 86.9h.8v.8h-.8zM124.7 86.4h.8v.8h-.8zM124.4 85.8h.8v.8h-.8zM124.7 85.5h.8v.8h-.8zM124.5 84.9h.8v.8h-.8zM124.4 83.9h.8v.8h-.8zM124.4 83.2h.8v.8h-.8zM124.5 83.0h.8v.8h-.8zM124.4 82.5h.8v.8h-.8zM124.7 80.3h.8v.8h-.8zM124.4 80.0h.8v.8h-.8zM124.4 78.5h.8v.8h-.8zM124.9 89.8h.8v.8h-.8zM125.2 89.3h.8v.8h-.8zM125.0 88.7h.8v.8h-.8zM125.0 88.5h.8v.8h-.8zM125.1 87.8h.8v.8h-.8zM124.9 87.3h.8v.8h-.8zM125.2 86.8h.8v.8h-.8zM125.2 84.8h.8v.8h-.8zM125.2 83.8h.8v.8h-.8zM125.2 81.4h.8v.8h-.8zM125.7 89.9h.8v.8h-.8zM125.7 86.9h.8v.8h-.8zM125.7 86.5h.8v.8h-.8zM125.7 85.0h.8v.8h-.8zM126.2 90.5h.8v.8h-.8zM126.1 88.7h.8v.8h-.8zM126.1 86.5h.8v.8h-.8zM126.1 84.4h.8v.8h-.8z" fill="#111" filter="url(#bl)"/>
<path d="M65.9 74.0h.8v.8h-.8zM66.4 71.4h.8v.8h-.8zM67.0 73.8h.8v.8h-.8zM67.1 71.4h.8v.8h-.8zM67.0 70.8h.8v.8h-.8zM67.6 73.3h.8v.8h-.8zM68.2 73.0h.8v.8h-.8zM68.5 73.0h.8v.8h-.8zM68.4 71.4h.8v.8h-.8zM69.0 73.5h.8v.8h-.8zM69.6 73.0h.8v.8h-.8zM69.6 70.9h.8v.8h-.8zM70.2 72.8h.8v.8h-.8zM70.0 69.3h.8v.8h-.8zM70.4 68.9h.8v.8h-.8zM71.2 72.4h.8v.8h-.8zM71.0 71.9h.8v.8h-.8zM71.0 71.4h.8v.8h-.8zM72.2 69.8h.8v.8h-.8zM72.7 70.8h.8v.8h-.8zM72.4 69.2h.8v.8h-.8zM73.0 71.8h.8v.8h-.8zM73.1 71.4h.8v.8h-.8zM73.1 70.2h.8v.8h-.8zM73.5 67.2h.8v.8h-.8zM75.9 69.7h.8v.8h-.8zM78.2 67.9h.8v.8h-.8zM78.4 69.9h.8v.8h-.8zM78.6 67.2h.8v.8h-.8zM79.1 70.9h.8v.8h-.8zM79.2 70.3h.8v.8h-.8zM79.5 70.0h.8v.8h-.8zM80.1 70.7h.8v.8h-.8zM80.4 70.3h.8v.8h-.8zM80.7 68.3h.8v.8h-.8zM81.0 70.4h.8v.8h-.8zM80.9 67.5h.8v.8h-.8zM81.4 70.2h.8v.8h-.8zM82.2 71.0h.8v.8h-.8zM82.1 59.9h.8v.8h-.8zM83.7 67.0h.8v.8h-.8zM84.0 71.3h.8v.8h-.8zM85.0 71.9h.8v.8h-.8zM85.9 68.4h.8v.8h-.8zM86.4 71.9h.8v.8h-.8zM87.2 70.4h.8v.8h-.8zM87.6 72.3h.8v.8h-.8zM87.9 72.8h.8v.8h-.8zM88.2 72.4h.8v.8h-.8zM88.1 70.5h.8v.8h-.8zM88.7 73.5h.8v.8h-.8zM89.0 72.2h.8v.8h-.8zM89.2 72.0h.8v.8h-.8zM90.2 73.5h.8v.8h-.8zM90.0 66.3h.8v.8h-.8zM90.7 73.4h.8v.8h-.8zM90.5 70.5h.8v.8h-.8zM91.1 74.2h.8v.8h-.8zM91.1 72.5h.8v.8h-.8zM91.4 73.5h.8v.8h-.8zM91.5 69.0h.8v.8h-.8zM91.9 74.0h.8v.8h-.8zM92.4 75.7h.8v.8h-.8zM92.5 74.5h.8v.8h-.8zM92.6 72.5h.8v.8h-.8zM93.2 75.0h.8v.8h-.8zM93.0 73.0h.8v.8h-.8zM94.1 75.0h.8v.8h-.8zM94.6 77.2h.8v.8h-.8zM94.5 75.2h.8v.8h-.8zM94.4 72.8h.8v.8h-.8zM95.4 78.3h.8v.8h-.8zM95.7 75.9h.8v.8h-.8zM95.7 74.9h.8v.8h-.8zM96.1 78.9h.8v.8h-.8zM96.2 76.8h.8v.8h-.8zM96.1 71.8h.8v.8h-.8zM96.4 78.3h.8v.8h-.8zM96.5 77.9h.8v.8h-.8zM96.7 72.7h.8v.8h-.8zM97.1 75.9h.8v.8h-.8zM97.6 75.4h.8v.8h-.8zM98.1 77.7h.8v.8h-.8zM98.6 67.4h.8v.8h-.8zM98.7 66.9h.8v.8h-.8zM99.1 80.9h.8v.8h-.8zM99.2 79.4h.8v.8h-.8zM98.9 78.4h.8v.8h-.8zM99.4 81.0h.8v.8h-.8zM100.2 81.5h.8v.8h-.8zM100.2 80.9h.8v.8h-.8zM100.0 79.4h.8v.8h-.8zM100.1 73.9h.8v.8h-.8zM100.7 79.9h.8v.8h-.8zM100.4 77.8h.8v.8h-.8zM100.5 74.8h.8v.8h-.8zM101.0 80.7h.8v.8h-.8zM101.1 80.3h.8v.8h-.8zM101.1 79.0h.8v.8h-.8zM101.6 81.2h.8v.8h-.8zM101.7 77.3h.8v.8h-.8zM102.2 81.2h.8v.8h-.8zM102.0 74.8h.8v.8h-.8zM103.0 81.8h.8v.8h-.8zM103.2 80.3h.8v.8h-.8zM104.1 78.9h.8v.8h-.8zM103.9 75.2h.8v.8h-.8zM104.6 82.0h.8v.8h-.8zM104.4 81.3h.8v.8h-.8zM105.4 82.5h.8v.8h-.8zM105.7 81.8h.8v.8h-.8zM106.0 81.0h.8v.8h-.8zM105.9 80.4h.8v.8h-.8zM105.9 79.2h.8v.8h-.8zM107.0 79.3h.8v.8h-.8zM107.6 81.0h.8v.8h-.8zM108.1 82.4h.8v.8h-.8zM108.2 81.8h.8v.8h-.8zM107.9 76.5h.8v.8h-.8zM108.6 83.3h.8v.8h-.8zM108.6 83.0h.8v.8h-.8zM108.4 80.5h.8v.8h-.8zM109.1 83.8h.8v.8h-.8zM109.1 82.4h.8v.8h-.8zM109.1 80.3h.8v.8h-.8zM109.4 74.0h.8v.8h-.8zM110.0 83.2h.8v.8h-.8zM109.9 77.8h.8v.8h-.8zM110.0 74.7h.8v.8h-.8zM110.6 82.4h.8v.8h-.8zM110.4 78.9h.8v.8h-.8zM111.0 72.2h.8v.8h-.8zM110.9 70.0h.8v.8h-.8zM111.6 80.9h.8v.8h-.8zM111.9 74.8h.8v.8h-.8zM112.5 75.0h.8v.8h-.8zM112.9 68.3h.8v.8h-.8zM113.4 75.2h.8v.8h-.8zM114.1 75.0h.8v.8h-.8zM114.7 74.4h.8v.8h-.8zM114.5 73.8h.8v.8h-.8zM115.1 72.2h.8v.8h-.8zM117.0 72.2h.8v.8h-.8zM116.9 71.5h.8v.8h-.8zM117.5 72.0h.8v.8h-.8zM117.4 69.8h.8v.8h-.8zM118.2 68.8h.8v.8h-.8zM118.7 71.7h.8v.8h-.8zM118.6 71.2h.8v.8h-.8zM119.2 69.0h.8v.8h-.8zM119.1 67.9h.8v.8h-.8zM120.0 71.8h.8v.8h-.8zM119.9 71.2h.8v.8h-.8zM119.9 70.5h.8v.8h-.8zM121.0 71.2h.8v.8h-.8zM122.0 73.4h.8v.8h-.8zM122.5 74.0h.8v.8h-.8zM123.1 74.0h.8v.8h-.8zM123.4 74.7h.8v.8h-.8zM124.1 73.4h.8v.8h-.8zM124.0 73.0h.8v.8h-.8zM125.2 76.4h.8v.8h-.8zM125.5 80.0h.8v.8h-.8zM125.5 77.8h.8v.8h-.8zM125.7 75.8h.8v.8h-.8zM126.0 83.3h.8v.8h-.8zM126.2 81.9h.8v.8h-.8zM126.5 89.3h.8v.8h-.8zM126.4 88.5h.8v.8h-.8zM126.6 87.4h.8v.8h-.8zM127.7 76.3h.8v.8h-.8zM127.9 81.0h.8v.8h-.8zM128.1 73.7h.8v.8h-.8zM129.0 86.5h.8v.8h-.8zM129.7 77.5h.8v.8h-.8zM130.2 83.0h.8v.8h-.8zM130.2 80.9h.8v.8h-.8zM130.1 80.2h.8v.8h-.8zM131.6 70.8h.8v.8h-.8zM131.9 66.4h.8v.8h-.8zM132.5 75.4h.8v.8h-.8z" fill="#444" filter="url(#bl)"/>
<line x1="96.5" y1="18.2" x2="96.5" y2="91" stroke="#777" stroke-width="0.8"/>
<line x1="66.2" y1="74" x2="142.4" y2="74" stroke="#999" stroke-width="0.9"/>
<rect x="66.2" y="18.2" width="76.2" height="72.8" fill="none" stroke="#000" stroke-width="1.5"/>
<text x="141.6" y="30.7" font-size="10.4" text-anchor="end" >0.1 ± 0%</text>
<text x="64.7" y="98" font-size="4" fill="#aaa" font-family="Liberation Sans, sans-serif">10<tspan dy="-1.5" font-size="2.8">0</tspan></text>
<text x="59.2" y="92.5" font-size="4" fill="#aaa" font-family="Liberation Sans, sans-serif">10<tspan dy="-1.5" font-size="2.8">0</tspan></text>
<text x="83.7" y="98" font-size="4" fill="#aaa" font-family="Liberation Sans, sans-serif">10<tspan dy="-1.5" font-size="2.8">1</tspan></text>
<text x="59.2" y="74.3" font-size="4" fill="#aaa" font-family="Liberation Sans, sans-serif">10<tspan dy="-1.5" font-size="2.8">1</tspan></text>
<text x="102.7" y="98" font-size="4" fill="#aaa" font-family="Liberation Sans, sans-serif">10<tspan dy="-1.5" font-size="2.8">2</tspan></text>
<text x="59.2" y="56.1" font-size="4" fill="#aaa" font-family="Liberation Sans, sans-serif">10<tspan dy="-1.5" font-size="2.8">2</tspan></text>
<text x="121.7" y="98" font-size="4" fill="#aaa" font-family="Liberation Sans, sans-serif">10<tspan dy="-1.5" font-size="2.8">3</tspan></text>
<text x="59.2" y="37.900000000000006" font-size="4" fill="#aaa" font-family="Liberation Sans, sans-serif">10<tspan dy="-1.5" font-size="2.8">3</tspan></text>
<path d="M166.5 90.0h1v1h-1zM166.5 89.0h1v1h-1zM166.5 88.0h1v1h-1zM166.5 87.0h1v1h-1zM166.5 86.0h1v1h-1zM166.5 85.0h1v1h-1zM166.5 84.0h1v1h-1zM167.5 90.0h1v1h-1zM167.5 89.0h1v1h-1zM167.5 88.0h1v1h-1zM167.5 87.0h1v1h-1zM167.5 86.0h1v1h-1zM167.5 85.0h1v1h-1zM167.5 84.0h1v1h-1zM167.5 83.0h1v1h-1zM167.5 82.0h1v1h-1zM168.5 90.0h1v1h-1zM168.5 89.0h1v1h-1zM168.5 88.0h1v1h-1zM168.5 87.0h1v1h-1zM168.5 86.0h1v1h-1zM168.5 85.0h1v1h-1zM168.5 84.0h1v1h-1zM168.5 83.0h1v1h-1zM168.5 82.0h1v1h-1zM168.5 81.0h1v1h-1zM169.5 90.0h1v1h-1zM169.5 89.0h1v1h-1zM169.5 88.0h1v1h-1zM169.5 87.0h1v1h-1zM169.5 86.0h1v1h-1zM169.5 85.0h1v1h-1zM169.5 84.0h1v1h-1zM169.5 83.0h1v1h-1zM169.5 82.0h1v1h-1zM169.5 81.0h1v1h-1zM169.5 80.0h1v1h-1zM170.5 90.0h1v1h-1zM170.5 89.0h1v1h-1zM170.5 88.0h1v1h-1zM170.5 87.0h1v1h-1zM170.5 86.0h1v1h-1zM170.5 85.0h1v1h-1zM170.5 84.0h1v1h-1zM170.5 83.0h1v1h-1zM170.5 82.0h1v1h-1zM170.5 81.0h1v1h-1zM170.5 80.0h1v1h-1zM170.5 79.0h1v1h-1zM171.5 90.0h1v1h-1zM171.5 89.0h1v1h-1zM171.5 88.0h1v1h-1zM171.5 87.0h1v1h-1zM171.5 86.0h1v1h-1zM171.5 85.0h1v1h-1zM171.5 84.0h1v1h-1zM171.5 83.0h1v1h-1zM171.5 82.0h1v1h-1zM171.5 81.0h1v1h-1zM171.5 80.0h1v1h-1zM171.5 79.0h1v1h-1zM171.5 78.0h1v1h-1zM172.5 90.0h1v1h-1zM172.5 89.0h1v1h-1zM172.5 88.0h1v1h-1zM172.5 87.0h1v1h-1zM172.5 86.0h1v1h-1zM172.5 85.0h1v1h-1zM172.5 84.0h1v1h-1zM172.5 83.0h1v1h-1zM172.5 82.0h1v1h-1zM172.5 81.0h1v1h-1zM172.5 80.0h1v1h-1zM172.5 79.0h1v1h-1zM172.5 78.0h1v1h-1zM173.5 90.0h1v1h-1zM173.5 89.0h1v1h-1zM173.5 88.0h1v1h-1zM173.5 87.0h1v1h-1zM173.5 86.0h1v1h-1zM173.5 85.0h1v1h-1zM173.5 84.0h1v1h-1zM173.5 83.0h1v1h-1zM173.5 82.0h1v1h-1zM173.5 81.0h1v1h-1zM173.5 80.0h1v1h-1zM173.5 79.0h1v1h-1zM173.5 78.0h1v1h-1zM173.5 77.0h1v1h-1zM174.5 90.0h1v1h-1zM174.5 89.0h1v1h-1zM174.5 88.0h1v1h-1zM174.5 87.0h1v1h-1zM174.5 86.0h1v1h-1zM174.5 85.0h1v1h-1zM174.5 84.0h1v1h-1zM174.5 83.0h1v1h-1zM174.5 82.0h1v1h-1zM174.5 81.0h1v1h-1zM174.5 80.0h1v1h-1zM174.5 79.0h1v1h-1zM174.5 78.0h1v1h-1zM174.5 77.0h1v1h-1zM175.5 90.0h1v1h-1zM175.5 89.0h1v1h-1zM175.5 88.0h1v1h-1zM175.5 87.0h1v1h-1zM175.5 86.0h1v1h-1zM175.5 85.0h1v1h-1zM175.5 84.0h1v1h-1zM175.5 83.0h1v1h-1zM175.5 82.0h1v1h-1zM175.5 81.0h1v1h-1zM175.5 80.0h1v1h-1zM175.5 79.0h1v1h-1zM175.5 78.0h1v1h-1zM175.5 77.0h1v1h-1zM175.5 76.0h1v1h-1zM176.5 90.0h1v1h-1zM176.5 89.0h1v1h-1zM176.5 88.0h1v1h-1zM176.5 87.0h1v1h-1zM176.5 86.0h1v1h-1zM176.5 85.0h1v1h-1zM176.5 84.0h1v1h-1zM176.5 83.0h1v1h-1zM176.5 82.0h1v1h-1zM176.5 81.0h1v1h-1zM176.5 80.0h1v1h-1zM176.5 79.0h1v1h-1zM176.5 78.0h1v1h-1zM176.5 77.0h1v1h-1zM176.5 76.0h1v1h-1zM177.5 90.0h1v1h-1zM177.5 89.0h1v1h-1zM177.5 88.0h1v1h-1zM177.5 87.0h1v1h-1zM177.5 86.0h1v1h-1zM177.5 85.0h1v1h-1zM177.5 84.0h1v1h-1zM177.5 83.0h1v1h-1zM177.5 82.0h1v1h-1zM177.5 81.0h1v1h-1zM177.5 80.0h1v1h-1zM177.5 79.0h1v1h-1zM177.5 78.0h1v1h-1zM177.5 77.0h1v1h-1zM177.5 76.0h1v1h-1zM178.5 90.0h1v1h-1zM178.5 89.0h1v1h-1zM178.5 88.0h1v1h-1zM178.5 87.0h1v1h-1zM178.5 86.0h1v1h-1zM178.5 85.0h1v1h-1zM178.5 84.0h1v1h-1zM178.5 83.0h1v1h-1zM178.5 82.0h1v1h-1zM178.5 81.0h1v1h-1zM178.5 80.0h1v1h-1zM178.5 79.0h1v1h-1zM178.5 78.0h1v1h-1zM178.5 77.0h1v1h-1zM178.5 76.0h1v1h-1zM179.5 90.0h1v1h-1zM179.5 89.0h1v1h-1zM179.5 88.0h1v1h-1zM179.5 87.0h1v1h-1zM179.5 86.0h1v1h-1zM179.5 85.0h1v1h-1zM179.5 84.0h1v1h-1zM179.5 83.0h1v1h-1zM179.5 82.0h1v1h-1zM179.5 81.0h1v1h-1zM179.5 80.0h1v1h-1zM179.5 79.0h1v1h-1zM179.5 78.0h1v1h-1zM179.5 77.0h1v1h-1zM179.5 76.0h1v1h-1zM180.5 90.0h1v1h-1zM180.5 89.0h1v1h-1zM180.5 88.0h1v1h-1zM180.5 87.0h1v1h-1zM180.5 86.0h1v1h-1zM180.5 85.0h1v1h-1zM180.5 84.0h1v1h-1zM180.5 83.0h1v1h-1zM180.5 82.0h1v1h-1zM180.5 81.0h1v1h-1zM180.5 80.0h1v1h-1zM180.5 79.0h1v1h-1zM180.5 78.0h1v1h-1zM180.5 77.0h1v1h-1zM180.5 76.0h1v1h-1zM181.5 90.0h1v1h-1zM181.5 89.0h1v1h-1zM181.5 88.0h1v1h-1zM181.5 87.0h1v1h-1zM181.5 86.0h1v1h-1zM181.5 85.0h1v1h-1zM181.5 84.0h1v1h-1zM181.5 83.0h1v1h-1zM181.5 82.0h1v1h-1zM181.5 81.0h1v1h-1zM181.5 80.0h1v1h-1zM181.5 79.0h1v1h-1zM181.5 78.0h1v1h-1zM181.5 77.0h1v1h-1zM181.5 76.0h1v1h-1zM182.5 90.0h1v1h-1zM182.5 89.0h1v1h-1zM182.5 88.0h1v1h-1zM182.5 87.0h1v1h-1zM182.5 86.0h1v1h-1zM182.5 85.0h1v1h-1zM182.5 84.0h1v1h-1zM182.5 83.0h1v1h-1zM182.5 82.0h1v1h-1zM182.5 81.0h1v1h-1zM182.5 80.0h1v1h-1zM182.5 79.0h1v1h-1zM182.5 78.0h1v1h-1zM182.5 77.0h1v1h-1zM182.5 76.0h1v1h-1zM183.5 90.0h1v1h-1zM183.5 89.0h1v1h-1zM183.5 88.0h1v1h-1zM183.5 87.0h1v1h-1zM183.5 86.0h1v1h-1zM183.5 85.0h1v1h-1zM183.5 84.0h1v1h-1zM183.5 83.0h1v1h-1zM183.5 82.0h1v1h-1zM183.5 81.0h1v1h-1zM183.5 80.0h1v1h-1zM183.5 79.0h1v1h-1zM183.5 78.0h1v1h-1zM183.5 77.0h1v1h-1zM183.5 76.0h1v1h-1zM184.5 90.0h1v1h-1zM184.5 89.0h1v1h-1zM184.5 88.0h1v1h-1zM184.5 87.0h1v1h-1zM184.5 86.0h1v1h-1zM184.5 85.0h1v1h-1zM184.5 84.0h1v1h-1zM184.5 83.0h1v1h-1zM184.5 82.0h1v1h-1zM184.5 81.0h1v1h-1zM184.5 80.0h1v1h-1zM184.5 79.0h1v1h-1zM184.5 78.0h1v1h-1zM184.5 77.0h1v1h-1zM185.5 90.0h1v1h-1zM185.5 89.0h1v1h-1zM185.5 88.0h1v1h-1zM185.5 87.0h1v1h-1zM185.5 86.0h1v1h-1zM185.5 85.0h1v1h-1zM185.5 84.0h1v1h-1zM185.5 83.0h1v1h-1zM185.5 82.0h1v1h-1zM185.5 81.0h1v1h-1zM185.5 80.0h1v1h-1zM185.5 79.0h1v1h-1zM185.5 78.0h1v1h-1zM185.5 77.0h1v1h-1zM186.5 90.0h1v1h-1zM186.5 89.0h1v1h-1zM186.5 88.0h1v1h-1zM186.5 87.0h1v1h-1zM186.5 86.0h1v1h-1zM186.5 85.0h1v1h-1zM186.5 84.0h1v1h-1zM186.5 83.0h1v1h-1zM186.5 82.0h1v1h-1zM186.5 81.0h1v1h-1zM186.5 80.0h1v1h-1zM186.5 79.0h1v1h-1zM186.5 78.0h1v1h-1zM187.5 90.0h1v1h-1zM187.5 89.0h1v1h-1zM187.5 88.0h1v1h-1zM187.5 87.0h1v1h-1zM187.5 86.0h1v1h-1zM187.5 85.0h1v1h-1zM187.5 84.0h1v1h-1zM187.5 83.0h1v1h-1zM187.5 82.0h1v1h-1zM187.5 81.0h1v1h-1zM187.5 80.0h1v1h-1zM187.5 79.0h1v1h-1zM188.5 90.0h1v1h-1zM188.5 89.0h1v1h-1zM188.5 88.0h1v1h-1zM188.5 87.0h1v1h-1zM188.5 86.0h1v1h-1zM188.5 85.0h1v1h-1zM188.5 84.0h1v1h-1zM188.5 83.0h1v1h-1zM188.5 82.0h1v1h-1zM188.5 81.0h1v1h-1zM188.5 80.0h1v1h-1zM188.5 79.0h1v1h-1zM189.5 90.0h1v1h-1zM189.5 89.0h1v1h-1zM189.5 88.0h1v1h-1zM189.5 87.0h1v1h-1zM189.5 86.0h1v1h-1zM189.5 85.0h1v1h-1zM189.5 84.0h1v1h-1zM189.5 83.0h1v1h-1zM189.5 82.0h1v1h-1zM189.5 81.0h1v1h-1zM189.5 80.0h1v1h-1zM190.5 90.0h1v1h-1zM190.5 89.0h1v1h-1zM190.5 88.0h1v1h-1zM190.5 87.0h1v1h-1zM190.5 86.0h1v1h-1zM190.5 85.0h1v1h-1zM190.5 84.0h1v1h-1zM190.5 83.0h1v1h-1zM190.5 82.0h1v1h-1zM190.5 81.0h1v1h-1zM191.5 90.0h1v1h-1zM191.5 89.0h1v1h-1zM191.5 88.0h1v1h-1zM191.5 87.0h1v1h-1zM191.5 86.0h1v1h-1zM191.5 85.0h1v1h-1zM191.5 84.0h1v1h-1zM191.5 83.0h1v1h-1zM192.5 90.0h1v1h-1zM192.5 89.0h1v1h-1zM192.5 88.0h1v1h-1zM192.5 87.0h1v1h-1zM192.5 86.0h1v1h-1zM192.5 85.0h1v1h-1zM192.5 84.0h1v1h-1zM193.5 90.0h1v1h-1zM193.5 89.0h1v1h-1zM193.5 88.0h1v1h-1zM193.5 87.0h1v1h-1zM193.5 86.0h1v1h-1zM194.5 90.0h1v1h-1zM194.5 89.0h1v1h-1zM194.5 88.0h1v1h-1zM210.5 90.0h1v1h-1zM210.5 89.0h1v1h-1zM210.5 88.0h1v1h-1zM210.5 87.0h1v1h-1zM210.5 86.0h1v1h-1zM210.5 85.0h1v1h-1zM211.5 90.0h1v1h-1zM211.5 89.0h1v1h-1zM211.5 88.0h1v1h-1zM211.5 87.0h1v1h-1zM211.5 86.0h1v1h-1zM211.5 85.0h1v1h-1zM211.5 84.0h1v1h-1zM211.5 83.0h1v1h-1zM211.5 82.0h1v1h-1zM212.5 90.0h1v1h-1zM212.5 89.0h1v1h-1zM212.5 88.0h1v1h-1zM212.5 87.0h1v1h-1zM212.5 86.0h1v1h-1zM212.5 85.0h1v1h-1zM212.5 84.0h1v1h-1zM212.5 83.0h1v1h-1zM212.5 82.0h1v1h-1zM212.5 81.0h1v1h-1zM212.5 80.0h1v1h-1zM212.5 79.0h1v1h-1zM213.5 90.0h1v1h-1zM213.5 89.0h1v1h-1zM213.5 88.0h1v1h-1zM213.5 87.0h1v1h-1zM213.5 86.0h1v1h-1zM213.5 85.0h1v1h-1zM213.5 84.0h1v1h-1zM213.5 83.0h1v1h-1zM213.5 82.0h1v1h-1zM213.5 81.0h1v1h-1zM213.5 80.0h1v1h-1zM213.5 79.0h1v1h-1zM213.5 78.0h1v1h-1zM214.5 90.0h1v1h-1zM214.5 89.0h1v1h-1zM214.5 88.0h1v1h-1zM214.5 87.0h1v1h-1zM214.5 86.0h1v1h-1zM214.5 85.0h1v1h-1zM214.5 84.0h1v1h-1zM214.5 83.0h1v1h-1zM214.5 82.0h1v1h-1zM214.5 81.0h1v1h-1zM214.5 80.0h1v1h-1zM214.5 79.0h1v1h-1zM214.5 78.0h1v1h-1zM214.5 77.0h1v1h-1zM215.5 90.0h1v1h-1zM215.5 89.0h1v1h-1zM215.5 88.0h1v1h-1zM215.5 87.0h1v1h-1zM215.5 86.0h1v1h-1zM215.5 85.0h1v1h-1zM215.5 84.0h1v1h-1zM215.5 83.0h1v1h-1zM215.5 82.0h1v1h-1zM215.5 81.0h1v1h-1zM215.5 80.0h1v1h-1zM215.5 79.0h1v1h-1zM215.5 78.0h1v1h-1zM215.5 77.0h1v1h-1zM215.5 76.0h1v1h-1zM216.5 90.0h1v1h-1zM216.5 89.0h1v1h-1zM216.5 88.0h1v1h-1zM216.5 87.0h1v1h-1zM216.5 86.0h1v1h-1zM216.5 85.0h1v1h-1zM216.5 84.0h1v1h-1zM216.5 83.0h1v1h-1zM216.5 82.0h1v1h-1zM216.5 81.0h1v1h-1zM216.5 80.0h1v1h-1zM216.5 79.0h1v1h-1zM216.5 78.0h1v1h-1zM216.5 77.0h1v1h-1zM216.5 76.0h1v1h-1zM217.5 90.0h1v1h-1zM217.5 89.0h1v1h-1zM217.5 88.0h1v1h-1zM217.5 87.0h1v1h-1zM217.5 86.0h1v1h-1zM217.5 85.0h1v1h-1zM217.5 84.0h1v1h-1zM217.5 83.0h1v1h-1zM217.5 82.0h1v1h-1zM217.5 81.0h1v1h-1zM217.5 80.0h1v1h-1zM217.5 79.0h1v1h-1zM217.5 78.0h1v1h-1zM217.5 77.0h1v1h-1zM217.5 76.0h1v1h-1zM218.5 90.0h1v1h-1zM218.5 89.0h1v1h-1zM218.5 88.0h1v1h-1zM218.5 87.0h1v1h-1zM218.5 86.0h1v1h-1zM218.5 85.0h1v1h-1zM218.5 84.0h1v1h-1zM218.5 83.0h1v1h-1zM218.5 82.0h1v1h-1zM218.5 81.0h1v1h-1zM218.5 80.0h1v1h-1zM218.5 79.0h1v1h-1zM218.5 78.0h1v1h-1zM218.5 77.0h1v1h-1zM219.5 90.0h1v1h-1zM219.5 89.0h1v1h-1zM219.5 88.0h1v1h-1zM219.5 87.0h1v1h-1zM219.5 86.0h1v1h-1zM219.5 85.0h1v1h-1zM219.5 84.0h1v1h-1zM219.5 83.0h1v1h-1zM219.5 82.0h1v1h-1zM219.5 81.0h1v1h-1zM219.5 80.0h1v1h-1zM219.5 79.0h1v1h-1zM219.5 78.0h1v1h-1zM220.5 90.0h1v1h-1zM220.5 89.0h1v1h-1zM220.5 88.0h1v1h-1zM220.5 87.0h1v1h-1zM220.5 86.0h1v1h-1zM220.5 85.0h1v1h-1zM220.5 84.0h1v1h-1zM220.5 83.0h1v1h-1zM220.5 82.0h1v1h-1zM220.5 81.0h1v1h-1zM220.5 80.0h1v1h-1zM221.5 90.0h1v1h-1zM221.5 89.0h1v1h-1zM221.5 88.0h1v1h-1zM221.5 87.0h1v1h-1zM221.5 86.0h1v1h-1zM221.5 85.0h1v1h-1zM221.5 84.0h1v1h-1z" fill="#000" filter="url(#bl)"/>
<path d="M166.3 83.9h.8v.8h-.8zM166.3 83.4h.8v.8h-.8zM166.5 83.0h.8v.8h-.8zM166.2 82.5h.8v.8h-.8zM166.2 81.7h.8v.8h-.8zM166.3 80.7h.8v.8h-.8zM166.3 79.3h.8v.8h-.8zM166.3 78.9h.8v.8h-.8zM166.5 78.3h.8v.8h-.8zM166.9 82.8h.8v.8h-.8zM166.7 82.4h.8v.8h-.8zM167.0 81.7h.8v.8h-.8zM167.0 80.7h.8v.8h-.8zM166.8 80.2h.8v.8h-.8zM167.0 77.3h.8v.8h-.8zM166.8 76.5h.8v.8h-.8zM167.3 81.7h.8v.8h-.8zM167.4 81.5h.8v.8h-.8zM167.2 80.7h.8v.8h-.8zM167.5 80.5h.8v.8h-.8zM167.4 79.8h.8v.8h-.8zM167.3 78.8h.8v.8h-.8zM167.7 81.4h.8v.8h-.8zM167.8 80.4h.8v.8h-.8zM168.0 79.9h.8v.8h-.8zM167.7 79.5h.8v.8h-.8zM167.7 78.2h.8v.8h-.8zM167.8 77.3h.8v.8h-.8zM167.8 74.8h.8v.8h-.8zM168.3 80.2h.8v.8h-.8zM168.2 79.7h.8v.8h-.8zM168.5 79.3h.8v.8h-.8zM168.3 78.9h.8v.8h-.8zM168.4 78.2h.8v.8h-.8zM168.5 77.7h.8v.8h-.8zM168.3 75.3h.8v.8h-.8zM168.4 74.4h.8v.8h-.8zM168.8 80.0h.8v.8h-.8zM168.7 79.4h.8v.8h-.8zM168.7 78.9h.8v.8h-.8zM168.7 78.2h.8v.8h-.8zM168.7 77.7h.8v.8h-.8zM168.8 77.3h.8v.8h-.8zM168.8 74.7h.8v.8h-.8zM169.4 79.2h.8v.8h-.8zM169.3 79.0h.8v.8h-.8zM169.3 78.4h.8v.8h-.8zM169.4 77.7h.8v.8h-.8zM169.3 77.2h.8v.8h-.8zM169.4 75.8h.8v.8h-.8zM169.4 75.3h.8v.8h-.8zM170.0 79.0h.8v.8h-.8zM169.7 78.5h.8v.8h-.8zM169.9 78.0h.8v.8h-.8zM170.0 76.9h.8v.8h-.8zM170.0 76.5h.8v.8h-.8zM169.7 75.8h.8v.8h-.8zM170.0 75.0h.8v.8h-.8zM169.7 74.4h.8v.8h-.8zM170.4 77.9h.8v.8h-.8zM170.4 77.4h.8v.8h-.8zM170.2 76.7h.8v.8h-.8zM170.4 76.2h.8v.8h-.8zM170.3 76.0h.8v.8h-.8zM170.4 74.8h.8v.8h-.8zM170.5 73.8h.8v.8h-.8zM170.5 73.4h.8v.8h-.8zM170.8 77.8h.8v.8h-.8zM170.7 77.4h.8v.8h-.8zM170.8 77.0h.8v.8h-.8zM171.0 76.5h.8v.8h-.8zM170.7 75.9h.8v.8h-.8zM171.5 77.3h.8v.8h-.8zM171.5 76.2h.8v.8h-.8zM171.3 74.4h.8v.8h-.8zM171.4 72.9h.8v.8h-.8zM172.0 77.2h.8v.8h-.8zM171.7 76.7h.8v.8h-.8zM171.7 76.4h.8v.8h-.8zM171.7 75.3h.8v.8h-.8zM171.8 75.0h.8v.8h-.8zM172.0 73.4h.8v.8h-.8zM171.8 72.3h.8v.8h-.8zM172.5 76.7h.8v.8h-.8zM172.3 76.4h.8v.8h-.8zM172.5 75.9h.8v.8h-.8zM172.2 75.0h.8v.8h-.8zM173.0 76.8h.8v.8h-.8zM172.9 76.5h.8v.8h-.8zM172.9 75.4h.8v.8h-.8zM172.9 73.3h.8v.8h-.8zM172.9 72.8h.8v.8h-.8zM172.9 72.5h.8v.8h-.8zM173.3 76.4h.8v.8h-.8zM173.5 75.9h.8v.8h-.8zM173.3 74.9h.8v.8h-.8zM173.9 76.5h.8v.8h-.8zM173.9 75.3h.8v.8h-.8zM173.8 75.0h.8v.8h-.8zM173.7 74.4h.8v.8h-.8zM173.7 73.8h.8v.8h-.8zM173.7 72.8h.8v.8h-.8zM173.9 72.3h.8v.8h-.8zM174.0 72.0h.8v.8h-.8zM174.4 75.9h.8v.8h-.8zM174.3 74.8h.8v.8h-.8zM174.4 74.2h.8v.8h-.8zM174.2 73.4h.8v.8h-.8zM174.5 71.7h.8v.8h-.8zM174.9 75.9h.8v.8h-.8zM175.0 75.5h.8v.8h-.8zM174.7 74.8h.8v.8h-.8zM175.0 74.3h.8v.8h-.8zM174.9 73.3h.8v.8h-.8zM175.0 73.0h.8v.8h-.8zM175.4 75.9h.8v.8h-.8zM175.3 75.5h.8v.8h-.8zM175.2 75.0h.8v.8h-.8zM175.3 74.4h.8v.8h-.8zM175.2 73.5h.8v.8h-.8zM175.2 72.9h.8v.8h-.8zM175.2 71.8h.8v.8h-.8zM175.3 71.4h.8v.8h-.8zM175.8 75.2h.8v.8h-.8zM175.9 74.9h.8v.8h-.8zM175.7 74.3h.8v.8h-.8zM175.7 73.5h.8v.8h-.8zM175.9 72.8h.8v.8h-.8zM176.5 75.3h.8v.8h-.8zM176.4 74.7h.8v.8h-.8zM176.5 74.3h.8v.8h-.8zM176.2 74.0h.8v.8h-.8zM176.9 75.2h.8v.8h-.8zM176.8 75.0h.8v.8h-.8zM177.0 74.4h.8v.8h-.8zM176.9 73.3h.8v.8h-.8zM176.8 72.5h.8v.8h-.8zM176.7 71.5h.8v.8h-.8zM177.4 75.4h.8v.8h-.8zM177.2 75.0h.8v.8h-.8zM177.5 73.7h.8v.8h-.8zM177.5 73.4h.8v.8h-.8zM177.4 70.9h.8v.8h-.8zM178.0 75.5h.8v.8h-.8zM177.9 75.0h.8v.8h-.8zM177.9 74.0h.8v.8h-.8zM177.8 72.9h.8v.8h-.8zM177.9 71.8h.8v.8h-.8zM177.8 71.2h.8v.8h-.8zM178.3 75.2h.8v.8h-.8zM178.2 74.7h.8v.8h-.8zM178.5 74.5h.8v.8h-.8zM178.4 73.8h.8v.8h-.8zM178.3 72.8h.8v.8h-.8zM178.4 72.3h.8v.8h-.8zM178.3 71.3h.8v.8h-.8zM178.8 74.3h.8v.8h-.8zM179.0 73.9h.8v.8h-.8zM178.9 73.3h.8v.8h-.8zM179.0 72.4h.8v.8h-.8zM178.8 72.0h.8v.8h-.8zM179.0 71.5h.8v.8h-.8zM179.3 74.9h.8v.8h-.8zM179.2 73.3h.8v.8h-.8zM179.5 72.8h.8v.8h-.8zM179.4 71.8h.8v.8h-.8zM179.8 74.8h.8v.8h-.8zM180.0 73.9h.8v.8h-.8zM179.9 73.3h.8v.8h-.8zM180.0 73.0h.8v.8h-.8zM179.9 72.5h.8v.8h-.8zM180.0 72.0h.8v.8h-.8zM179.8 71.4h.8v.8h-.8zM180.4 75.2h.8v.8h-.8zM180.3 74.8h.8v.8h-.8zM180.4 74.3h.8v.8h-.8zM180.2 73.8h.8v.8h-.8zM180.4 73.2h.8v.8h-.8zM180.4 72.8h.8v.8h-.8zM180.2 71.7h.8v.8h-.8zM180.2 70.9h.8v.8h-.8zM180.8 75.2h.8v.8h-.8zM180.7 74.8h.8v.8h-.8zM180.9 74.4h.8v.8h-.8zM181.0 72.9h.8v.8h-.8zM181.4 75.5h.8v.8h-.8zM181.2 74.7h.8v.8h-.8zM181.3 74.4h.8v.8h-.8zM181.5 72.5h.8v.8h-.8zM181.9 75.3h.8v.8h-.8zM181.9 74.9h.8v.8h-.8zM181.7 74.2h.8v.8h-.8zM181.9 73.4h.8v.8h-.8zM181.9 72.5h.8v.8h-.8zM181.7 71.8h.8v.8h-.8zM182.3 75.5h.8v.8h-.8zM182.2 74.7h.8v.8h-.8zM182.4 74.0h.8v.8h-.8zM182.2 72.4h.8v.8h-.8zM182.4 71.9h.8v.8h-.8zM183.0 74.7h.8v.8h-.8zM182.9 74.5h.8v.8h-.8zM182.7 73.4h.8v.8h-.8zM183.0 72.9h.8v.8h-.8zM182.7 72.2h.8v.8h-.8zM182.8 71.3h.8v.8h-.8zM183.2 75.9h.8v.8h-.8zM183.4 75.3h.8v.8h-.8zM183.5 74.8h.8v.8h-.8zM183.4 72.5h.8v.8h-.8zM183.7 75.9h.8v.8h-.8zM183.9 75.3h.8v.8h-.8zM183.8 74.8h.8v.8h-.8zM183.8 74.2h.8v.8h-.8zM184.2 75.9h.8v.8h-.8zM184.5 75.4h.8v.8h-.8zM184.2 73.8h.8v.8h-.8zM184.5 72.8h.8v.8h-.8zM184.5 72.0h.8v.8h-.8zM184.5 71.5h.8v.8h-.8zM184.8 76.2h.8v.8h-.8zM184.8 75.8h.8v.8h-.8zM184.7 75.2h.8v.8h-.8zM185.0 73.8h.8v.8h-.8zM185.5 75.4h.8v.8h-.8zM185.5 74.9h.8v.8h-.8zM185.4 74.2h.8v.8h-.8zM185.4 73.8h.8v.8h-.8zM185.2 73.4h.8v.8h-.8zM185.4 71.7h.8v.8h-.8zM186.0 76.7h.8v.8h-.8zM186.0 76.3h.8v.8h-.8zM185.7 75.5h.8v.8h-.8zM185.8 74.4h.8v.8h-.8zM186.0 73.3h.8v.8h-.8zM186.4 77.0h.8v.8h-.8zM186.2 76.2h.8v.8h-.8zM186.4 75.8h.8v.8h-.8zM186.3 74.2h.8v.8h-.8zM186.9 77.2h.8v.8h-.8zM186.7 76.7h.8v.8h-.8zM186.7 75.8h.8v.8h-.8zM187.0 74.8h.8v.8h-.8zM186.7 73.0h.8v.8h-.8zM187.2 77.7h.8v.8h-.8zM187.4 76.4h.8v.8h-.8zM187.5 76.0h.8v.8h-.8zM187.3 74.9h.8v.8h-.8zM187.4 74.5h.8v.8h-.8zM187.5 74.0h.8v.8h-.8zM187.5 72.2h.8v.8h-.8zM188.0 77.9h.8v.8h-.8zM187.9 77.5h.8v.8h-.8zM188.0 76.7h.8v.8h-.8zM187.7 76.2h.8v.8h-.8zM187.7 76.0h.8v.8h-.8zM187.7 75.5h.8v.8h-.8zM187.7 74.5h.8v.8h-.8zM188.5 78.5h.8v.8h-.8zM188.3 77.9h.8v.8h-.8zM188.5 76.2h.8v.8h-.8zM188.5 75.9h.8v.8h-.8zM188.5 75.2h.8v.8h-.8zM188.3 73.8h.8v.8h-.8zM188.7 78.9h.8v.8h-.8zM188.7 77.4h.8v.8h-.8zM188.7 76.8h.8v.8h-.8zM188.8 76.5h.8v.8h-.8zM188.7 75.3h.8v.8h-.8zM188.8 74.9h.8v.8h-.8zM188.8 74.5h.8v.8h-.8zM188.9 73.9h.8v.8h-.8zM188.9 73.3h.8v.8h-.8zM189.5 79.2h.8v.8h-.8zM189.2 78.9h.8v.8h-.8zM189.5 78.4h.8v.8h-.8zM189.4 77.7h.8v.8h-.8zM189.3 76.5h.8v.8h-.8zM189.8 79.2h.8v.8h-.8zM189.9 78.9h.8v.8h-.8zM189.7 77.2h.8v.8h-.8zM189.7 76.5h.8v.8h-.8zM189.9 76.0h.8v.8h-.8zM190.2 80.2h.8v.8h-.8zM190.4 79.8h.8v.8h-.8zM190.2 79.4h.8v.8h-.8zM190.3 78.8h.8v.8h-.8zM190.3 74.7h.8v.8h-.8zM190.9 80.9h.8v.8h-.8zM190.9 79.5h.8v.8h-.8zM191.0 78.8h.8v.8h-.8zM190.7 78.2h.8v.8h-.8zM190.7 76.7h.8v.8h-.8zM191.5 81.9h.8v.8h-.8zM191.2 81.5h.8v.8h-.8zM191.2 81.0h.8v.8h-.8zM191.5 80.2h.8v.8h-.8zM191.4 79.3h.8v.8h-.8zM191.4 78.8h.8v.8h-.8zM191.2 78.4h.8v.8h-.8zM191.5 77.5h.8v.8h-.8zM191.5 75.5h.8v.8h-.8zM191.5 75.0h.8v.8h-.8zM192.0 82.4h.8v.8h-.8zM192.0 82.0h.8v.8h-.8zM192.0 81.4h.8v.8h-.8zM191.7 80.3h.8v.8h-.8zM191.7 79.8h.8v.8h-.8zM191.8 77.7h.8v.8h-.8zM191.9 77.3h.8v.8h-.8zM191.8 76.3h.8v.8h-.8zM192.3 82.7h.8v.8h-.8zM192.2 81.8h.8v.8h-.8zM192.4 81.5h.8v.8h-.8zM192.5 81.0h.8v.8h-.8zM192.5 80.2h.8v.8h-.8zM192.5 79.7h.8v.8h-.8zM192.4 79.2h.8v.8h-.8zM192.2 78.4h.8v.8h-.8zM192.3 77.8h.8v.8h-.8zM192.5 75.7h.8v.8h-.8zM193.0 83.7h.8v.8h-.8zM192.8 83.5h.8v.8h-.8zM192.8 82.7h.8v.8h-.8zM192.8 82.4h.8v.8h-.8zM192.7 81.3h.8v.8h-.8zM192.7 80.7h.8v.8h-.8zM192.9 80.2h.8v.8h-.8zM192.7 79.5h.8v.8h-.8zM193.0 78.2h.8v.8h-.8zM193.0 76.9h.8v.8h-.8zM193.2 84.4h.8v.8h-.8zM193.5 84.0h.8v.8h-.8zM193.5 82.9h.8v.8h-.8zM193.5 82.0h.8v.8h-.8zM193.5 81.3h.8v.8h-.8zM193.5 80.9h.8v.8h-.8zM193.3 80.2h.8v.8h-.8zM193.5 79.7h.8v.8h-.8zM193.4 78.2h.8v.8h-.8zM193.2 76.7h.8v.8h-.8zM193.7 85.2h.8v.8h-.8zM193.8 84.7h.8v.8h-.8zM194.0 84.0h.8v.8h-.8zM193.9 82.5h.8v.8h-.8zM193.8 82.0h.8v.8h-.8zM193.7 81.0h.8v.8h-.8zM194.0 79.8h.8v.8h-.8zM193.9 79.4h.8v.8h-.8zM194.4 86.7h.8v.8h-.8zM194.2 86.4h.8v.8h-.8zM194.5 85.8h.8v.8h-.8zM194.4 84.8h.8v.8h-.8zM194.3 82.9h.8v.8h-.8zM194.5 82.4h.8v.8h-.8zM194.4 81.8h.8v.8h-.8zM194.4 81.3h.8v.8h-.8zM194.5 80.4h.8v.8h-.8zM194.9 90.5h.8v.8h-.8zM195.0 89.8h.8v.8h-.8zM194.7 89.2h.8v.8h-.8zM194.9 89.0h.8v.8h-.8zM195.0 88.3h.8v.8h-.8zM194.9 87.7h.8v.8h-.8zM194.9 87.2h.8v.8h-.8zM194.9 86.3h.8v.8h-.8zM194.9 85.8h.8v.8h-.8zM195.0 85.5h.8v.8h-.8zM194.8 85.0h.8v.8h-.8zM194.7 84.5h.8v.8h-.8zM195.0 84.0h.8v.8h-.8zM195.0 82.3h.8v.8h-.8zM194.7 81.3h.8v.8h-.8zM194.7 80.5h.8v.8h-.8zM195.0 79.5h.8v.8h-.8zM194.8 78.3h.8v.8h-.8zM195.3 90.5h.8v.8h-.8zM195.3 89.8h.8v.8h-.8zM195.2 89.5h.8v.8h-.8zM195.5 88.9h.8v.8h-.8zM195.2 88.2h.8v.8h-.8zM195.2 87.8h.8v.8h-.8zM195.2 87.2h.8v.8h-.8zM195.5 86.8h.8v.8h-.8zM195.3 85.9h.8v.8h-.8zM195.2 85.4h.8v.8h-.8zM195.4 83.5h.8v.8h-.8zM195.3 82.8h.8v.8h-.8zM195.2 82.3h.8v.8h-.8zM195.3 81.9h.8v.8h-.8zM195.2 81.5h.8v.8h-.8zM195.2 80.9h.8v.8h-.8zM195.9 89.7h.8v.8h-.8zM195.7 89.4h.8v.8h-.8zM196.0 88.9h.8v.8h-.8zM195.9 88.3h.8v.8h-.8zM195.9 87.8h.8v.8h-.8zM195.8 87.4h.8v.8h-.8zM195.7 86.8h.8v.8h-.8zM196.0 86.4h.8v.8h-.8zM196.0 85.4h.8v.8h-.8zM195.7 83.8h.8v.8h-.8zM195.8 82.7h.8v.8h-.8zM196.0 79.7h.8v.8h-.8zM195.7 79.5h.8v.8h-.8zM196.2 90.3h.8v.8h-.8zM196.4 89.7h.8v.8h-.8zM196.2 89.2h.8v.8h-.8zM196.5 89.0h.8v.8h-.8zM196.3 88.3h.8v.8h-.8zM196.2 88.0h.8v.8h-.8zM196.4 87.2h.8v.8h-.8zM196.5 86.8h.8v.8h-.8zM196.4 86.0h.8v.8h-.8zM196.5 84.7h.8v.8h-.8zM196.2 84.4h.8v.8h-.8zM196.3 84.0h.8v.8h-.8zM196.5 83.4h.8v.8h-.8zM196.5 82.2h.8v.8h-.8zM196.2 81.2h.8v.8h-.8zM196.7 90.5h.8v.8h-.8zM196.7 89.2h.8v.8h-.8zM197.0 88.2h.8v.8h-.8zM197.0 88.0h.8v.8h-.8zM196.7 87.3h.8v.8h-.8zM197.0 87.0h.8v.8h-.8zM196.7 86.2h.8v.8h-.8zM196.8 85.9h.8v.8h-.8zM196.9 83.5h.8v.8h-.8zM196.7 82.8h.8v.8h-.8zM196.8 82.2h.8v.8h-.8zM197.5 90.5h.8v.8h-.8zM197.3 89.9h.8v.8h-.8zM197.5 88.9h.8v.8h-.8zM197.5 88.5h.8v.8h-.8zM197.3 87.3h.8v.8h-.8zM197.2 84.0h.8v.8h-.8zM197.3 83.2h.8v.8h-.8zM197.2 82.9h.8v.8h-.8zM197.5 81.7h.8v.8h-.8zM197.7 90.5h.8v.8h-.8zM197.9 89.2h.8v.8h-.8zM197.7 88.9h.8v.8h-.8zM197.9 87.7h.8v.8h-.8zM197.8 87.5h.8v.8h-.8zM197.9 86.8h.8v.8h-.8zM197.9 86.3h.8v.8h-.8zM198.0 86.0h.8v.8h-.8zM197.8 83.4h.8v.8h-.8zM198.2 89.7h.8v.8h-.8zM198.2 89.5h.8v.8h-.8zM198.2 88.9h.8v.8h-.8zM198.4 87.7h.8v.8h-.8zM198.5 87.2h.8v.8h-.8zM198.5 85.7h.8v.8h-.8zM198.5 85.4h.8v.8h-.8zM198.5 84.9h.8v.8h-.8zM198.5 81.3h.8v.8h-.8zM199.0 89.3h.8v.8h-.8zM198.8 88.7h.8v.8h-.8zM199.0 88.2h.8v.8h-.8zM198.7 87.9h.8v.8h-.8zM198.9 87.0h.8v.8h-.8zM198.7 85.7h.8v.8h-.8zM198.8 85.4h.8v.8h-.8zM198.7 84.3h.8v.8h-.8zM199.0 83.8h.8v.8h-.8zM198.8 83.4h.8v.8h-.8zM198.8 82.9h.8v.8h-.8zM198.9 81.9h.8v.8h-.8zM199.3 89.8h.8v.8h-.8zM199.3 89.3h.8v.8h-.8zM199.4 88.5h.8v.8h-.8zM199.5 87.8h.8v.8h-.8zM199.4 87.2h.8v.8h-.8zM199.5 86.9h.8v.8h-.8zM199.3 86.3h.8v.8h-.8zM199.4 85.7h.8v.8h-.8zM199.2 85.0h.8v.8h-.8zM199.2 84.4h.8v.8h-.8zM199.3 83.5h.8v.8h-.8zM199.4 82.7h.8v.8h-.8zM199.4 81.2h.8v.8h-.8zM200.0 90.3h.8v.8h-.8zM200.0 89.5h.8v.8h-.8zM199.8 88.5h.8v.8h-.8zM199.8 88.0h.8v.8h-.8zM199.8 87.5h.8v.8h-.8zM199.7 87.0h.8v.8h-.8zM199.9 86.3h.8v.8h-.8zM200.0 86.0h.8v.8h-.8zM200.0 85.3h.8v.8h-.8zM200.0 84.9h.8v.8h-.8zM200.5 90.0h.8v.8h-.8zM200.2 88.2h.8v.8h-.8zM200.2 86.2h.8v.8h-.8zM200.2 84.0h.8v.8h-.8zM200.5 82.0h.8v.8h-.8zM200.9 88.9h.8v.8h-.8zM200.9 87.8h.8v.8h-.8zM200.7 86.2h.8v.8h-.8zM200.8 84.7h.8v.8h-.8zM200.7 84.2h.8v.8h-.8zM200.9 83.9h.8v.8h-.8zM201.2 90.2h.8v.8h-.8zM201.4 87.7h.8v.8h-.8zM201.5 87.5h.8v.8h-.8zM201.3 86.5h.8v.8h-.8zM201.3 85.7h.8v.8h-.8zM201.4 85.3h.8v.8h-.8zM201.4 84.5h.8v.8h-.8zM201.2 83.3h.8v.8h-.8zM201.2 83.0h.8v.8h-.8zM201.7 90.2h.8v.8h-.8zM202.0 89.9h.8v.8h-.8zM202.0 89.0h.8v.8h-.8zM201.7 88.5h.8v.8h-.8zM201.7 87.2h.8v.8h-.8zM202.0 87.0h.8v.8h-.8zM202.0 84.8h.8v.8h-.8zM201.7 84.2h.8v.8h-.8zM201.8 83.9h.8v.8h-.8zM202.5 90.5h.8v.8h-.8zM202.3 89.7h.8v.8h-.8zM202.2 88.8h.8v.8h-.8zM202.5 86.8h.8v.8h-.8zM202.3 86.2h.8v.8h-.8zM202.2 85.9h.8v.8h-.8zM202.3 85.4h.8v.8h-.8zM202.3 83.7h.8v.8h-.8zM202.9 90.2h.8v.8h-.8zM203.0 83.2h.8v.8h-.8zM202.9 82.2h.8v.8h-.8zM203.4 89.8h.8v.8h-.8zM203.5 89.2h.8v.8h-.8zM203.4 88.7h.8v.8h-.8zM203.3 88.0h.8v.8h-.8zM203.3 86.3h.8v.8h-.8zM203.3 85.8h.8v.8h-.8zM203.4 84.2h.8v.8h-.8zM203.2 84.0h.8v.8h-.8zM203.4 82.9h.8v.8h-.8zM204.0 86.9h.8v.8h-.8zM203.9 86.5h.8v.8h-.8zM203.8 85.8h.8v.8h-.8zM203.8 85.3h.8v.8h-.8zM203.8 83.2h.8v.8h-.8zM204.0 82.2h.8v.8h-.8zM204.3 90.4h.8v.8h-.8zM204.2 88.8h.8v.8h-.8zM204.5 87.9h.8v.8h-.8zM204.3 87.5h.8v.8h-.8zM204.3 86.2h.8v.8h-.8zM204.3 86.0h.8v.8h-.8zM204.3 85.0h.8v.8h-.8zM204.5 84.5h.8v.8h-.8zM204.9 90.4h.8v.8h-.8zM204.8 89.8h.8v.8h-.8zM204.7 85.0h.8v.8h-.8zM204.9 84.3h.8v.8h-.8zM205.3 90.4h.8v.8h-.8zM205.3 89.5h.8v.8h-.8zM205.5 88.7h.8v.8h-.8zM205.5 88.3h.8v.8h-.8zM205.5 87.7h.8v.8h-.8zM205.5 86.9h.8v.8h-.8zM206.0 87.8h.8v.8h-.8zM206.0 86.9h.8v.8h-.8zM205.7 86.4h.8v.8h-.8zM205.7 85.9h.8v.8h-.8zM205.8 83.2h.8v.8h-.8zM206.4 86.4h.8v.8h-.8zM206.2 84.0h.8v.8h-.8zM207.0 90.4h.8v.8h-.8zM206.7 84.0h.8v.8h-.8zM207.4 90.4h.8v.8h-.8zM207.5 90.0h.8v.8h-.8zM207.2 89.2h.8v.8h-.8zM207.2 85.9h.8v.8h-.8zM207.2 85.4h.8v.8h-.8zM207.4 84.5h.8v.8h-.8zM208.0 90.5h.8v.8h-.8zM208.0 88.7h.8v.8h-.8zM208.0 88.3h.8v.8h-.8zM207.7 86.3h.8v.8h-.8zM208.0 84.5h.8v.8h-.8zM208.3 89.7h.8v.8h-.8zM208.5 89.3h.8v.8h-.8zM208.4 88.8h.8v.8h-.8zM208.2 88.4h.8v.8h-.8zM208.4 86.2h.8v.8h-.8zM208.3 85.7h.8v.8h-.8zM208.3 85.4h.8v.8h-.8zM208.4 83.3h.8v.8h-.8zM208.4 83.0h.8v.8h-.8zM208.4 82.2h.8v.8h-.8zM208.4 82.0h.8v.8h-.8zM208.8 88.9h.8v.8h-.8zM208.7 87.3h.8v.8h-.8zM208.8 85.9h.8v.8h-.8zM208.7 84.7h.8v.8h-.8zM208.7 83.0h.8v.8h-.8zM208.9 82.3h.8v.8h-.8zM208.9 81.2h.8v.8h-.8zM209.5 90.0h.8v.8h-.8zM209.2 89.4h.8v.8h-.8zM209.5 88.5h.8v.8h-.8zM209.3 87.5h.8v.8h-.8zM209.5 86.2h.8v.8h-.8zM209.3 85.9h.8v.8h-.8zM209.2 85.2h.8v.8h-.8zM209.2 84.7h.8v.8h-.8zM209.3 83.2h.8v.8h-.8zM209.3 81.8h.8v.8h-.8zM209.8 90.3h.8v.8h-.8zM209.9 89.7h.8v.8h-.8zM209.7 89.4h.8v.8h-.8zM209.9 88.9h.8v.8h-.8zM209.9 87.9h.8v.8h-.8zM209.7 87.2h.8v.8h-.8zM210.0 86.9h.8v.8h-.8zM210.0 86.5h.8v.8h-.8zM209.9 85.5h.8v.8h-.8zM209.9 84.2h.8v.8h-.8zM209.9 83.3h.8v.8h-.8zM209.9 82.7h.8v.8h-.8zM209.9 82.5h.8v.8h-.8zM209.8 78.7h.8v.8h-.8zM210.5 85.3h.8v.8h-.8zM210.2 84.8h.8v.8h-.8zM210.2 84.2h.8v.8h-.8zM210.5 83.8h.8v.8h-.8zM210.4 83.4h.8v.8h-.8zM210.2 83.0h.8v.8h-.8zM210.3 81.7h.8v.8h-.8zM210.2 79.8h.8v.8h-.8zM210.4 79.3h.8v.8h-.8zM210.2 77.9h.8v.8h-.8zM210.8 83.3h.8v.8h-.8zM211.0 82.7h.8v.8h-.8zM210.9 82.3h.8v.8h-.8zM210.9 80.5h.8v.8h-.8zM210.9 79.8h.8v.8h-.8zM210.7 76.8h.8v.8h-.8zM211.5 81.9h.8v.8h-.8zM211.5 80.9h.8v.8h-.8zM211.4 79.8h.8v.8h-.8zM211.4 79.2h.8v.8h-.8zM211.2 77.2h.8v.8h-.8zM211.4 75.5h.8v.8h-.8zM211.8 80.2h.8v.8h-.8zM211.9 79.3h.8v.8h-.8zM211.8 78.8h.8v.8h-.8zM212.0 77.8h.8v.8h-.8zM211.8 76.7h.8v.8h-.8zM211.7 75.5h.8v.8h-.8zM212.0 74.5h.8v.8h-.8zM212.3 79.0h.8v.8h-.8zM212.3 78.2h.8v.8h-.8zM212.4 77.7h.8v.8h-.8zM212.3 77.5h.8v.8h-.8zM212.2 77.0h.8v.8h-.8zM212.2 75.8h.8v.8h-.8zM212.7 77.8h.8v.8h-.8zM212.8 76.9h.8v.8h-.8zM212.7 76.5h.8v.8h-.8zM212.7 75.2h.8v.8h-.8zM212.8 74.5h.8v.8h-.8zM213.0 73.8h.8v.8h-.8zM213.3 77.4h.8v.8h-.8zM213.2 76.8h.8v.8h-.8zM213.3 76.2h.8v.8h-.8zM213.5 75.7h.8v.8h-.8zM213.5 75.4h.8v.8h-.8zM213.4 74.7h.8v.8h-.8zM213.9 76.2h.8v.8h-.8zM213.8 76.0h.8v.8h-.8zM213.9 75.2h.8v.8h-.8zM213.8 74.8h.8v.8h-.8zM213.8 72.9h.8v.8h-.8zM214.3 75.8h.8v.8h-.8zM214.3 75.4h.8v.8h-.8zM214.3 74.7h.8v.8h-.8zM214.5 74.3h.8v.8h-.8zM214.4 73.4h.8v.8h-.8zM214.9 75.8h.8v.8h-.8zM214.9 74.2h.8v.8h-.8zM214.9 73.4h.8v.8h-.8zM215.0 71.5h.8v.8h-.8zM215.4 75.3h.8v.8h-.8zM215.2 75.0h.8v.8h-.8zM215.4 74.5h.8v.8h-.8zM215.2 74.0h.8v.8h-.8zM215.4 72.8h.8v.8h-.8zM215.9 75.2h.8v.8h-.8zM215.8 74.7h.8v.8h-.8zM215.9 74.5h.8v.8h-.8zM215.7 74.0h.8v.8h-.8zM215.8 72.9h.8v.8h-.8zM216.0 71.2h.8v.8h-.8zM216.5 75.2h.8v.8h-.8zM216.5 74.4h.8v.8h-.8zM216.3 73.0h.8v.8h-.8zM216.5 71.7h.8v.8h-.8zM216.4 71.3h.8v.8h-.8zM216.8 75.2h.8v.8h-.8zM216.8 74.8h.8v.8h-.8zM216.8 74.4h.8v.8h-.8zM216.9 74.0h.8v.8h-.8zM217.5 75.5h.8v.8h-.8zM217.5 75.0h.8v.8h-.8zM217.3 74.5h.8v.8h-.8zM217.2 73.8h.8v.8h-.8zM217.4 73.3h.8v.8h-.8zM217.4 72.3h.8v.8h-.8zM217.7 75.8h.8v.8h-.8zM218.0 75.2h.8v.8h-.8zM218.0 74.4h.8v.8h-.8zM218.0 74.0h.8v.8h-.8zM218.3 75.2h.8v.8h-.8zM218.4 74.9h.8v.8h-.8zM218.4 74.2h.8v.8h-.8zM218.5 73.8h.8v.8h-.8zM218.5 72.2h.8v.8h-.8zM219.0 76.3h.8v.8h-.8zM219.0 75.9h.8v.8h-.8zM219.0 75.2h.8v.8h-.8zM218.8 73.3h.8v.8h-.8zM218.9 72.4h.8v.8h-.8zM219.4 77.5h.8v.8h-.8zM219.2 76.7h.8v.8h-.8zM219.2 76.3h.8v.8h-.8zM219.2 74.2h.8v.8h-.8zM219.9 77.9h.8v.8h-.8zM219.7 77.0h.8v.8h-.8zM219.9 76.2h.8v.8h-.8zM219.9 76.0h.8v.8h-.8zM220.0 75.5h.8v.8h-.8zM219.7 74.3h.8v.8h-.8zM220.5 79.0h.8v.8h-.8zM220.5 78.5h.8v.8h-.8zM220.3 77.9h.8v.8h-.8zM220.5 77.4h.8v.8h-.8zM220.4 75.2h.8v.8h-.8zM220.7 79.7h.8v.8h-.8zM220.7 79.5h.8v.8h-.8zM220.9 78.2h.8v.8h-.8zM220.8 77.5h.8v.8h-.8zM220.7 76.9h.8v.8h-.8zM220.8 76.3h.8v.8h-.8zM220.8 75.4h.8v.8h-.8zM221.3 81.5h.8v.8h-.8zM221.2 80.8h.8v.8h-.8zM221.2 80.4h.8v.8h-.8zM221.2 79.8h.8v.8h-.8zM221.5 79.2h.8v.8h-.8zM221.5 78.5h.8v.8h-.8zM221.5 75.8h.8v.8h-.8zM221.8 84.8h.8v.8h-.8zM222.0 84.3h.8v.8h-.8zM221.7 83.4h.8v.8h-.8zM221.7 82.9h.8v.8h-.8zM221.7 82.5h.8v.8h-.8zM221.9 81.3h.8v.8h-.8zM221.8 81.0h.8v.8h-.8zM222.0 80.5h.8v.8h-.8zM221.9 79.9h.8v.8h-.8zM221.8 77.3h.8v.8h-.8zM221.9 76.2h.8v.8h-.8zM222.3 89.3h.8v.8h-.8zM222.3 88.8h.8v.8h-.8zM222.4 88.5h.8v.8h-.8zM222.3 87.7h.8v.8h-.8zM222.5 87.3h.8v.8h-.8zM222.5 86.3h.8v.8h-.8zM222.5 86.0h.8v.8h-.8zM222.4 84.9h.8v.8h-.8zM222.3 83.3h.8v.8h-.8zM222.4 81.8h.8v.8h-.8zM222.3 80.3h.8v.8h-.8zM222.4 79.4h.8v.8h-.8zM222.2 78.7h.8v.8h-.8zM223.0 87.8h.8v.8h-.8zM223.0 87.4h.8v.8h-.8zM222.8 86.8h.8v.8h-.8zM223.0 86.3h.8v.8h-.8zM222.9 85.9h.8v.8h-.8zM222.9 81.3h.8v.8h-.8zM222.9 81.0h.8v.8h-.8zM223.4 89.8h.8v.8h-.8zM223.2 89.2h.8v.8h-.8zM223.4 89.0h.8v.8h-.8zM223.4 86.8h.8v.8h-.8zM223.4 86.4h.8v.8h-.8zM223.3 85.2h.8v.8h-.8zM223.5 84.7h.8v.8h-.8zM223.4 84.4h.8v.8h-.8zM223.2 83.3h.8v.8h-.8zM223.4 82.2h.8v.8h-.8zM224.0 90.5h.8v.8h-.8zM223.8 89.8h.8v.8h-.8zM224.0 86.8h.8v.8h-.8z" fill="#111" filter="url(#bl)"/>
<path d="M166.3 74.0h.8v.8h-.8zM166.9 62.9h.8v.8h-.8zM167.5 75.0h.8v.8h-.8zM167.5 69.7h.8v.8h-.8zM168.0 73.9h.8v.8h-.8zM167.8 73.5h.8v.8h-.8zM167.8 72.4h.8v.8h-.8zM168.4 72.3h.8v.8h-.8zM168.4 70.7h.8v.8h-.8zM168.8 71.7h.8v.8h-.8zM170.4 72.8h.8v.8h-.8zM170.2 70.2h.8v.8h-.8zM171.8 69.3h.8v.8h-.8zM172.0 68.8h.8v.8h-.8zM172.2 71.8h.8v.8h-.8zM174.2 69.2h.8v.8h-.8zM175.2 69.3h.8v.8h-.8zM175.3 68.7h.8v.8h-.8zM176.0 69.2h.8v.8h-.8zM176.5 68.8h.8v.8h-.8zM176.7 69.2h.8v.8h-.8zM177.5 69.7h.8v.8h-.8zM177.3 69.3h.8v.8h-.8zM177.9 70.0h.8v.8h-.8zM178.2 70.2h.8v.8h-.8zM178.5 66.7h.8v.8h-.8zM178.8 68.7h.8v.8h-.8zM180.0 70.5h.8v.8h-.8zM180.5 69.8h.8v.8h-.8zM181.0 70.2h.8v.8h-.8zM180.8 68.3h.8v.8h-.8zM181.3 69.9h.8v.8h-.8zM182.4 67.3h.8v.8h-.8zM183.0 70.4h.8v.8h-.8zM182.7 58.8h.8v.8h-.8zM183.2 70.5h.8v.8h-.8zM183.9 70.9h.8v.8h-.8zM183.9 69.5h.8v.8h-.8zM184.0 67.8h.8v.8h-.8zM184.4 70.5h.8v.8h-.8zM184.5 63.8h.8v.8h-.8zM185.0 67.8h.8v.8h-.8zM185.4 71.3h.8v.8h-.8zM186.5 71.7h.8v.8h-.8zM186.2 70.8h.8v.8h-.8zM186.9 71.3h.8v.8h-.8zM186.9 68.9h.8v.8h-.8zM187.3 71.2h.8v.8h-.8zM187.8 68.8h.8v.8h-.8zM189.5 71.3h.8v.8h-.8zM190.5 72.9h.8v.8h-.8zM190.4 72.4h.8v.8h-.8zM191.0 74.4h.8v.8h-.8zM190.9 73.5h.8v.8h-.8zM190.9 68.4h.8v.8h-.8zM191.2 72.8h.8v.8h-.8zM192.0 74.3h.8v.8h-.8zM192.5 74.8h.8v.8h-.8zM193.0 72.4h.8v.8h-.8zM193.2 75.9h.8v.8h-.8zM193.5 74.9h.8v.8h-.8zM193.2 72.4h.8v.8h-.8zM193.8 77.0h.8v.8h-.8zM194.0 76.5h.8v.8h-.8zM193.8 75.8h.8v.8h-.8zM193.7 71.3h.8v.8h-.8zM194.3 77.0h.8v.8h-.8zM194.8 74.3h.8v.8h-.8zM194.9 73.4h.8v.8h-.8zM194.8 73.0h.8v.8h-.8zM195.0 71.8h.8v.8h-.8zM194.8 67.5h.8v.8h-.8zM195.3 76.7h.8v.8h-.8zM195.7 78.7h.8v.8h-.8zM195.9 70.7h.8v.8h-.8zM196.3 76.2h.8v.8h-.8zM196.4 67.2h.8v.8h-.8zM196.8 77.4h.8v.8h-.8zM196.7 76.8h.8v.8h-.8zM197.2 77.7h.8v.8h-.8zM197.3 74.3h.8v.8h-.8zM197.9 79.7h.8v.8h-.8zM197.8 78.8h.8v.8h-.8zM197.7 78.3h.8v.8h-.8zM197.7 76.4h.8v.8h-.8zM197.7 70.4h.8v.8h-.8zM198.5 78.5h.8v.8h-.8zM198.7 79.3h.8v.8h-.8zM199.0 78.8h.8v.8h-.8zM199.2 80.4h.8v.8h-.8zM199.9 80.5h.8v.8h-.8zM199.7 77.8h.8v.8h-.8zM199.7 67.4h.8v.8h-.8zM200.8 81.3h.8v.8h-.8zM201.0 80.7h.8v.8h-.8zM200.7 80.2h.8v.8h-.8zM201.0 78.3h.8v.8h-.8zM200.7 75.8h.8v.8h-.8zM200.8 74.8h.8v.8h-.8zM201.2 77.8h.8v.8h-.8zM201.3 72.5h.8v.8h-.8zM201.8 81.8h.8v.8h-.8zM201.7 80.3h.8v.8h-.8zM202.5 81.0h.8v.8h-.8zM202.4 80.3h.8v.8h-.8zM202.5 73.9h.8v.8h-.8zM202.8 79.5h.8v.8h-.8zM202.9 72.3h.8v.8h-.8zM203.4 81.9h.8v.8h-.8zM203.4 78.2h.8v.8h-.8zM204.0 81.4h.8v.8h-.8zM203.8 79.5h.8v.8h-.8zM204.5 82.5h.8v.8h-.8zM204.3 80.4h.8v.8h-.8zM205.0 81.8h.8v.8h-.8zM205.2 80.8h.8v.8h-.8zM206.0 80.2h.8v.8h-.8zM206.0 78.2h.8v.8h-.8zM206.2 82.4h.8v.8h-.8zM206.5 80.2h.8v.8h-.8zM206.8 79.4h.8v.8h-.8zM206.9 77.2h.8v.8h-.8zM207.7 77.4h.8v.8h-.8zM208.5 81.5h.8v.8h-.8zM208.2 80.2h.8v.8h-.8zM208.2 75.8h.8v.8h-.8zM208.9 79.3h.8v.8h-.8zM208.7 76.4h.8v.8h-.8zM210.9 69.2h.8v.8h-.8zM211.5 74.0h.8v.8h-.8zM211.3 72.9h.8v.8h-.8zM211.7 71.9h.8v.8h-.8zM212.4 73.0h.8v.8h-.8zM212.2 70.8h.8v.8h-.8zM212.9 67.3h.8v.8h-.8zM213.9 71.2h.8v.8h-.8zM215.2 70.0h.8v.8h-.8zM215.5 68.5h.8v.8h-.8zM215.7 69.4h.8v.8h-.8zM217.8 69.7h.8v.8h-.8zM218.3 68.3h.8v.8h-.8zM219.3 71.9h.8v.8h-.8zM219.7 71.8h.8v.8h-.8zM219.7 68.8h.8v.8h-.8zM220.5 72.3h.8v.8h-.8zM220.7 73.7h.8v.8h-.8zM221.0 70.7h.8v.8h-.8zM221.3 74.8h.8v.8h-.8zM221.3 74.2h.8v.8h-.8zM221.2 71.8h.8v.8h-.8zM221.4 70.8h.8v.8h-.8zM222.4 74.9h.8v.8h-.8zM223.0 78.5h.8v.8h-.8zM223.7 75.5h.8v.8h-.8zM224.2 88.0h.8v.8h-.8zM224.4 86.0h.8v.8h-.8zM224.2 84.9h.8v.8h-.8zM224.5 78.7h.8v.8h-.8zM224.5 74.8h.8v.8h-.8zM225.0 87.2h.8v.8h-.8zM225.8 85.8h.8v.8h-.8zM226.5 74.8h.8v.8h-.8zM226.8 83.8h.8v.8h-.8z" fill="#444" filter="url(#bl)"/>
<line x1="197" y1="18" x2="197" y2="91" stroke="#777" stroke-width="0.8"/>
<line x1="166.5" y1="74.3" x2="243" y2="74.3" stroke="#999" stroke-width="0.9"/>
<rect x="166.5" y="18" width="76.5" height="73" fill="none" stroke="#000" stroke-width="1.5"/>
<text x="242.2" y="30.5" font-size="10.4" text-anchor="end" >0.1 ± 0%</text>
<text x="165.0" y="98" font-size="4" fill="#aaa" font-family="Liberation Sans, sans-serif">10<tspan dy="-1.5" font-size="2.8">0</tspan></text>
<text x="159.5" y="92.5" font-size="4" fill="#aaa" font-family="Liberation Sans, sans-serif">10<tspan dy="-1.5" font-size="2.8">0</tspan></text>
<text x="184.0" y="98" font-size="4" fill="#aaa" font-family="Liberation Sans, sans-serif">10<tspan dy="-1.5" font-size="2.8">1</tspan></text>
<text x="159.5" y="74.3" font-size="4" fill="#aaa" font-family="Liberation Sans, sans-serif">10<tspan dy="-1.5" font-size="2.8">1</tspan></text>
<text x="203.0" y="98" font-size="4" fill="#aaa" font-family="Liberation Sans, sans-serif">10<tspan dy="-1.5" font-size="2.8">2</tspan></text>
<text x="159.5" y="56.1" font-size="4" fill="#aaa" font-family="Liberation Sans, sans-serif">10<tspan dy="-1.5" font-size="2.8">2</tspan></text>
<text x="222.0" y="98" font-size="4" fill="#aaa" font-family="Liberation Sans, sans-serif">10<tspan dy="-1.5" font-size="2.8">3</tspan></text>
<text x="159.5" y="37.900000000000006" font-size="4" fill="#aaa" font-family="Liberation Sans, sans-serif">10<tspan dy="-1.5" font-size="2.8">3</tspan></text>
<path d="M66.0 177.0h1v1h-1zM66.0 176.0h1v1h-1zM66.0 175.0h1v1h-1zM66.0 174.0h1v1h-1zM66.0 173.0h1v1h-1zM66.0 172.0h1v1h-1zM66.0 171.0h1v1h-1zM67.0 177.0h1v1h-1zM67.0 176.0h1v1h-1zM67.0 175.0h1v1h-1zM67.0 174.0h1v1h-1zM67.0 173.0h1v1h-1zM67.0 172.0h1v1h-1zM67.0 171.0h1v1h-1zM67.0 170.0h1v1h-1zM68.0 177.0h1v1h-1zM68.0 176.0h1v1h-1zM68.0 175.0h1v1h-1zM68.0 174.0h1v1h-1zM68.0 173.0h1v1h-1zM68.0 172.0h1v1h-1zM68.0 171.0h1v1h-1zM68.0 170.0h1v1h-1zM68.0 169.0h1v1h-1zM68.0 168.0h1v1h-1zM69.0 177.0h1v1h-1zM69.0 176.0h1v1h-1zM69.0 175.0h1v1h-1zM69.0 174.0h1v1h-1zM69.0 173.0h1v1h-1zM69.0 172.0h1v1h-1zM69.0 171.0h1v1h-1zM69.0 170.0h1v1h-1zM69.0 169.0h1v1h-1zM69.0 168.0h1v1h-1zM69.0 167.0h1v1h-1zM70.0 177.0h1v1h-1zM70.0 176.0h1v1h-1zM70.0 175.0h1v1h-1zM70.0 174.0h1v1h-1zM70.0 173.0h1v1h-1zM70.0 172.0h1v1h-1zM70.0 171.0h1v1h-1zM70.0 170.0h1v1h-1zM70.0 169.0h1v1h-1zM70.0 168.0h1v1h-1zM70.0 167.0h1v1h-1zM71.0 177.0h1v1h-1zM71.0 176.0h1v1h-1zM71.0 175.0h1v1h-1zM71.0 174.0h1v1h-1zM71.0 173.0h1v1h-1zM71.0 172.0h1v1h-1zM71.0 171.0h1v1h-1zM71.0 170.0h1v1h-1zM71.0 169.0h1v1h-1zM71.0 168.0h1v1h-1zM71.0 167.0h1v1h-1zM71.0 166.0h1v1h-1zM72.0 177.0h1v1h-1zM72.0 176.0h1v1h-1zM72.0 175.0h1v1h-1zM72.0 174.0h1v1h-1zM72.0 173.0h1v1h-1zM72.0 172.0h1v1h-1zM72.0 171.0h1v1h-1zM72.0 170.0h1v1h-1zM72.0 169.0h1v1h-1zM72.0 168.0h1v1h-1zM72.0 167.0h1v1h-1zM72.0 166.0h1v1h-1zM72.0 165.0h1v1h-1zM73.0 177.0h1v1h-1zM73.0 176.0h1v1h-1zM73.0 175.0h1v1h-1zM73.0 174.0h1v1h-1zM73.0 173.0h1v1h-1zM73.0 172.0h1v1h-1zM73.0 171.0h1v1h-1zM73.0 170.0h1v1h-1zM73.0 169.0h1v1h-1zM73.0 168.0h1v1h-1zM73.0 167.0h1v1h-1zM73.0 166.0h1v1h-1zM73.0 165.0h1v1h-1zM74.0 177.0h1v1h-1zM74.0 176.0h1v1h-1zM74.0 175.0h1v1h-1zM74.0 174.0h1v1h-1zM74.0 173.0h1v1h-1zM74.0 172.0h1v1h-1zM74.0 171.0h1v1h-1zM74.0 170.0h1v1h-1zM74.0 169.0h1v1h-1zM74.0 168.0h1v1h-1zM74.0 167.0h1v1h-1zM74.0 166.0h1v1h-1zM74.0 165.0h1v1h-1zM75.0 177.0h1v1h-1zM75.0 176.0h1v1h-1zM75.0 175.0h1v1h-1zM75.0 174.0h1v1h-1zM75.0 173.0h1v1h-1zM75.0 172.0h1v1h-1zM75.0 171.0h1v1h-1zM75.0 170.0h1v1h-1zM75.0 169.0h1v1h-1zM75.0 168.0h1v1h-1zM75.0 167.0h1v1h-1zM75.0 166.0h1v1h-1zM75.0 165.0h1v1h-1zM75.0 164.0h1v1h-1zM76.0 177.0h1v1h-1zM76.0 176.0h1v1h-1zM76.0 175.0h1v1h-1zM76.0 174.0h1v1h-1zM76.0 173.0h1v1h-1zM76.0 172.0h1v1h-1zM76.0 171.0h1v1h-1zM76.0 170.0h1v1h-1zM76.0 169.0h1v1h-1zM76.0 168.0h1v1h-1zM76.0 167.0h1v1h-1zM76.0 166.0h1v1h-1zM76.0 165.0h1v1h-1zM76.0 164.0h1v1h-1zM77.0 177.0h1v1h-1zM77.0 176.0h1v1h-1zM77.0 175.0h1v1h-1zM77.0 174.0h1v1h-1zM77.0 173.0h1v1h-1zM77.0 172.0h1v1h-1zM77.0 171.0h1v1h-1zM77.0 170.0h1v1h-1zM77.0 169.0h1v1h-1zM77.0 168.0h1v1h-1zM77.0 167.0h1v1h-1zM77.0 166.0h1v1h-1zM77.0 165.0h1v1h-1zM77.0 164.0h1v1h-1zM78.0 177.0h1v1h-1zM78.0 176.0h1v1h-1zM78.0 175.0h1v1h-1zM78.0 174.0h1v1h-1zM78.0 173.0h1v1h-1zM78.0 172.0h1v1h-1zM78.0 171.0h1v1h-1zM78.0 170.0h1v1h-1zM78.0 169.0h1v1h-1zM78.0 168.0h1v1h-1zM78.0 167.0h1v1h-1zM78.0 166.0h1v1h-1zM78.0 165.0h1v1h-1zM78.0 164.0h1v1h-1zM79.0 177.0h1v1h-1zM79.0 176.0h1v1h-1zM79.0 175.0h1v1h-1zM79.0 174.0h1v1h-1zM79.0 173.0h1v1h-1zM79.0 172.0h1v1h-1zM79.0 171.0h1v1h-1zM79.0 170.0h1v1h-1zM79.0 169.0h1v1h-1zM79.0 168.0h1v1h-1zM79.0 167.0h1v1h-1zM79.0 166.0h1v1h-1zM79.0 165.0h1v1h-1zM79.0 164.0h1v1h-1zM79.0 163.0h1v1h-1zM80.0 177.0h1v1h-1zM80.0 176.0h1v1h-1zM80.0 175.0h1v1h-1zM80.0 174.0h1v1h-1zM80.0 173.0h1v1h-1zM80.0 172.0h1v1h-1zM80.0 171.0h1v1h-1zM80.0 170.0h1v1h-1zM80.0 169.0h1v1h-1zM80.0 168.0h1v1h-1zM80.0 167.0h1v1h-1zM80.0 166.0h1v1h-1zM80.0 165.0h1v1h-1zM80.0 164.0h1v1h-1zM80.0 163.0h1v1h-1zM81.0 177.0h1v1h-1zM81.0 176.0h1v1h-1zM81.0 175.0h1v1h-1zM81.0 174.0h1v1h-1zM81.0 173.0h1v1h-1zM81.0 172.0h1v1h-1zM81.0 171.0h1v1h-1zM81.0 170.0h1v1h-1zM81.0 169.0h1v1h-1zM81.0 168.0h1v1h-1zM81.0 167.0h1v1h-1zM81.0 166.0h1v1h-1zM81.0 165.0h1v1h-1zM81.0 164.0h1v1h-1zM82.0 177.0h1v1h-1zM82.0 176.0h1v1h-1zM82.0 175.0h1v1h-1zM82.0 174.0h1v1h-1zM82.0 173.0h1v1h-1zM82.0 172.0h1v1h-1zM82.0 171.0h1v1h-1zM82.0 170.0h1v1h-1zM82.0 169.0h1v1h-1zM82.0 168.0h1v1h-1zM82.0 167.0h1v1h-1zM82.0 166.0h1v1h-1zM82.0 165.0h1v1h-1zM82.0 164.0h1v1h-1zM83.0 177.0h1v1h-1zM83.0 176.0h1v1h-1zM83.0 175.0h1v1h-1zM83.0 174.0h1v1h-1zM83.0 173.0h1v1h-1zM83.0 172.0h1v1h-1zM83.0 171.0h1v1h-1zM83.0 170.0h1v1h-1zM83.0 169.0h1v1h-1zM83.0 168.0h1v1h-1zM83.0 167.0h1v1h-1zM83.0 166.0h1v1h-1zM83.0 165.0h1v1h-1zM83.0 164.0h1v1h-1zM84.0 177.0h1v1h-1zM84.0 176.0h1v1h-1zM84.0 175.0h1v1h-1zM84.0 174.0h1v1h-1zM84.0 173.0h1v1h-1zM84.0 172.0h1v1h-1zM84.0 171.0h1v1h-1zM84.0 170.0h1v1h-1zM84.0 169.0h1v1h-1zM84.0 168.0h1v1h-1zM84.0 167.0h1v1h-1zM84.0 166.0h1v1h-1zM84.0 165.0h1v1h-1zM84.0 164.0h1v1h-1zM85.0 177.0h1v1h-1zM85.0 176.0h1v1h-1zM85.0 175.0h1v1h-1zM85.0 174.0h1v1h-1zM85.0 173.0h1v1h-1zM85.0 172.0h1v1h-1zM85.0 171.0h1v1h-1zM85.0 170.0h1v1h-1zM85.0 169.0h1v1h-1zM85.0 168.0h1v1h-1zM85.0 167.0h1v1h-1zM85.0 166.0h1v1h-1zM85.0 165.0h1v1h-1zM85.0 164.0h1v1h-1zM86.0 177.0h1v1h-1zM86.0 176.0h1v1h-1zM86.0 175.0h1v1h-1zM86.0 174.0h1v1h-1zM86.0 173.0h1v1h-1zM86.0 172.0h1v1h-1zM86.0 171.0h1v1h-1zM86.0 170.0h1v1h-1zM86.0 169.0h1v1h-1zM86.0 168.0h1v1h-1zM86.0 167.0h1v1h-1zM86.0 166.0h1v1h-1zM86.0 165.0h1v1h-1zM87.0 177.0h1v1h-1zM87.0 176.0h1v1h-1zM87.0 175.0h1v1h-1zM87.0 174.0h1v1h-1zM87.0 173.0h1v1h-1zM87.0 172.0h1v1h-1zM87.0 171.0h1v1h-1zM87.0 170.0h1v1h-1zM87.0 169.0h1v1h-1zM87.0 168.0h1v1h-1zM87.0 167.0h1v1h-1zM87.0 166.0h1v1h-1zM87.0 165.0h1v1h-1zM88.0 177.0h1v1h-1zM88.0 176.0h1v1h-1zM88.0 175.0h1v1h-1zM88.0 174.0h1v1h-1zM88.0 173.0h1v1h-1zM88.0 172.0h1v1h-1zM88.0 171.0h1v1h-1zM88.0 170.0h1v1h-1zM88.0 169.0h1v1h-1zM88.0 168.0h1v1h-1zM88.0 167.0h1v1h-1zM88.0 166.0h1v1h-1zM89.0 177.0h1v1h-1zM89.0 176.0h1v1h-1zM89.0 175.0h1v1h-1zM89.0 174.0h1v1h-1zM89.0 173.0h1v1h-1zM89.0 172.0h1v1h-1zM89.0 171.0h1v1h-1zM89.0 170.0h1v1h-1zM89.0 169.0h1v1h-1zM89.0 168.0h1v1h-1zM89.0 167.0h1v1h-1zM89.0 166.0h1v1h-1zM90.0 177.0h1v1h-1zM90.0 176.0h1v1h-1zM90.0 175.0h1v1h-1zM90.0 174.0h1v1h-1zM90.0 173.0h1v1h-1zM90.0 172.0h1v1h-1zM90.0 171.0h1v1h-1zM90.0 170.0h1v1h-1zM90.0 169.0h1v1h-1zM90.0 168.0h1v1h-1zM90.0 167.0h1v1h-1zM91.0 177.0h1v1h-1zM91.0 176.0h1v1h-1zM91.0 175.0h1v1h-1zM91.0 174.0h1v1h-1zM91.0 173.0h1v1h-1zM91.0 172.0h1v1h-1zM91.0 171.0h1v1h-1zM91.0 170.0h1v1h-1zM91.0 169.0h1v1h-1zM91.0 168.0h1v1h-1zM92.0 177.0h1v1h-1zM92.0 176.0h1v1h-1zM92.0 175.0h1v1h-1zM92.0 174.0h1v1h-1zM92.0 173.0h1v1h-1zM92.0 172.0h1v1h-1zM92.0 171.0h1v1h-1zM92.0 170.0h1v1h-1zM92.0 169.0h1v1h-1zM93.0 177.0h1v1h-1zM93.0 176.0h1v1h-1zM93.0 175.0h1v1h-1zM93.0 174.0h1v1h-1zM93.0 173.0h1v1h-1zM93.0 172.0h1v1h-1zM93.0 171.0h1v1h-1zM93.0 170.0h1v1h-1zM94.0 177.0h1v1h-1zM94.0 176.0h1v1h-1zM94.0 175.0h1v1h-1zM94.0 174.0h1v1h-1zM94.0 173.0h1v1h-1zM94.0 172.0h1v1h-1zM94.0 171.0h1v1h-1zM95.0 177.0h1v1h-1zM95.0 176.0h1v1h-1zM95.0 175.0h1v1h-1zM95.0 174.0h1v1h-1zM95.0 173.0h1v1h-1zM96.0 177.0h1v1h-1zM96.0 176.0h1v1h-1zM96.0 175.0h1v1h-1zM96.0 174.0h1v1h-1zM113.0 177.0h1v1h-1zM113.0 176.0h1v1h-1zM113.0 175.0h1v1h-1zM113.0 174.0h1v1h-1zM114.0 177.0h1v1h-1zM114.0 176.0h1v1h-1zM114.0 175.0h1v1h-1zM114.0 174.0h1v1h-1zM114.0 173.0h1v1h-1zM114.0 172.0h1v1h-1zM114.0 171.0h1v1h-1zM114.0 170.0h1v1h-1zM115.0 177.0h1v1h-1zM115.0 176.0h1v1h-1zM115.0 175.0h1v1h-1zM115.0 174.0h1v1h-1zM115.0 173.0h1v1h-1zM115.0 172.0h1v1h-1zM115.0 171.0h1v1h-1zM115.0 170.0h1v1h-1zM115.0 169.0h1v1h-1zM115.0 168.0h1v1h-1zM116.0 177.0h1v1h-1zM116.0 176.0h1v1h-1zM116.0 175.0h1v1h-1zM116.0 174.0h1v1h-1zM116.0 173.0h1v1h-1zM116.0 172.0h1v1h-1zM116.0 171.0h1v1h-1zM116.0 170.0h1v1h-1zM116.0 169.0h1v1h-1zM116.0 168.0h1v1h-1zM116.0 167.0h1v1h-1zM116.0 166.0h1v1h-1zM117.0 177.0h1v1h-1zM117.0 176.0h1v1h-1zM117.0 175.0h1v1h-1zM117.0 174.0h1v1h-1zM117.0 173.0h1v1h-1zM117.0 172.0h1v1h-1zM117.0 171.0h1v1h-1zM117.0 170.0h1v1h-1zM117.0 169.0h1v1h-1zM117.0 168.0h1v1h-1zM117.0 167.0h1v1h-1zM117.0 166.0h1v1h-1zM117.0 165.0h1v1h-1zM118.0 177.0h1v1h-1zM118.0 176.0h1v1h-1zM118.0 175.0h1v1h-1zM118.0 174.0h1v1h-1zM118.0 173.0h1v1h-1zM118.0 172.0h1v1h-1zM118.0 171.0h1v1h-1zM118.0 170.0h1v1h-1zM118.0 169.0h1v1h-1zM118.0 168.0h1v1h-1zM118.0 167.0h1v1h-1zM118.0 166.0h1v1h-1zM118.0 165.0h1v1h-1zM118.0 164.0h1v1h-1zM119.0 177.0h1v1h-1zM119.0 176.0h1v1h-1zM119.0 175.0h1v1h-1zM119.0 174.0h1v1h-1zM119.0 173.0h1v1h-1zM119.0 172.0h1v1h-1zM119.0 171.0h1v1h-1zM119.0 170.0h1v1h-1zM119.0 169.0h1v1h-1zM119.0 168.0h1v1h-1zM119.0 167.0h1v1h-1zM119.0 166.0h1v1h-1zM119.0 165.0h1v1h-1zM119.0 164.0h1v1h-1zM120.0 177.0h1v1h-1zM120.0 176.0h1v1h-1zM120.0 175.0h1v1h-1zM120.0 174.0h1v1h-1zM120.0 173.0h1v1h-1zM120.0 172.0h1v1h-1zM120.0 171.0h1v1h-1zM120.0 170.0h1v1h-1zM120.0 169.0h1v1h-1zM120.0 168.0h1v1h-1zM120.0 167.0h1v1h-1zM120.0 166.0h1v1h-1zM120.0 165.0h1v1h-1zM120.0 164.0h1v1h-1zM121.0 177.0h1v1h-1zM121.0 176.0h1v1h-1zM121.0 175.0h1v1h-1zM121.0 174.0h1v1h-1zM121.0 173.0h1v1h-1zM121.0 172.0h1v1h-1zM121.0 171.0h1v1h-1zM121.0 170.0h1v1h-1zM121.0 169.0h1v1h-1zM121.0 168.0h1v1h-1zM121.0 167.0h1v1h-1zM121.0 166.0h1v1h-1zM121.0 165.0h1v1h-1zM121.0 164.0h1v1h-1zM122.0 177.0h1v1h-1zM122.0 176.0h1v1h-1zM122.0 175.0h1v1h-1zM122.0 174.0h1v1h-1zM122.0 173.0h1v1h-1zM122.0 172.0h1v1h-1zM122.0 171.0h1v1h-1zM122.0 170.0h1v1h-1zM122.0 169.0h1v1h-1zM122.0 168.0h1v1h-1zM122.0 167.0h1v1h-1zM122.0 166.0h1v1h-1zM122.0 165.0h1v1h-1zM123.0 177.0h1v1h-1zM123.0 176.0h1v1h-1zM123.0 175.0h1v1h-1zM123.0 174.0h1v1h-1zM123.0 173.0h1v1h-1zM123.0 172.0h1v1h-1zM123.0 171.0h1v1h-1zM123.0 170.0h1v1h-1zM123.0 169.0h1v1h-1zM123.0 168.0h1v1h-1zM123.0 167.0h1v1h-1zM123.0 166.0h1v1h-1zM124.0 177.0h1v1h-1zM124.0 176.0h1v1h-1zM124.0 175.0h1v1h-1zM124.0 174.0h1v1h-1zM124.0 173.0h1v1h-1zM124.0 172.0h1v1h-1zM124.0 171.0h1v1h-1zM124.0 170.0h1v1h-1zM124.0 169.0h1v1h-1zM124.0 168.0h1v1h-1zM125.0 177.0h1v1h-1zM125.0 176.0h1v1h-1zM125.0 175.0h1v1h-1zM125.0 174.0h1v1h-1zM125.0 173.0h1v1h-1zM125.0 172.0h1v1h-1zM125.0 171.0h1v1h-1z" fill="#000" filter="url(#bl)"/>
<path d="M66.0 170.7h.8v.8h-.8zM66.0 170.4h.8v.8h-.8zM65.9 169.7h.8v.8h-.8zM65.9 169.3h.8v.8h-.8zM66.0 168.4h.8v.8h-.8zM65.9 167.7h.8v.8h-.8zM65.8 167.5h.8v.8h-.8zM65.8 166.5h.8v.8h-.8zM65.8 165.0h.8v.8h-.8zM66.5 170.4h.8v.8h-.8zM66.2 169.9h.8v.8h-.8zM66.5 169.4h.8v.8h-.8zM66.3 168.7h.8v.8h-.8zM66.2 167.8h.8v.8h-.8zM66.2 165.4h.8v.8h-.8zM66.4 164.4h.8v.8h-.8zM66.8 169.3h.8v.8h-.8zM66.9 168.4h.8v.8h-.8zM67.0 167.4h.8v.8h-.8zM67.0 166.2h.8v.8h-.8zM66.9 165.8h.8v.8h-.8zM66.7 165.2h.8v.8h-.8zM66.9 163.9h.8v.8h-.8zM67.5 168.8h.8v.8h-.8zM67.4 168.3h.8v.8h-.8zM67.2 167.8h.8v.8h-.8zM67.4 165.4h.8v.8h-.8zM67.2 164.9h.8v.8h-.8zM67.3 164.5h.8v.8h-.8zM67.7 168.5h.8v.8h-.8zM67.8 167.7h.8v.8h-.8zM67.8 167.5h.8v.8h-.8zM68.0 165.7h.8v.8h-.8zM67.8 165.4h.8v.8h-.8zM67.9 164.3h.8v.8h-.8zM67.8 163.3h.8v.8h-.8zM67.7 162.8h.8v.8h-.8zM67.9 162.5h.8v.8h-.8zM68.2 167.2h.8v.8h-.8zM68.3 166.7h.8v.8h-.8zM68.3 166.4h.8v.8h-.8zM68.2 164.8h.8v.8h-.8zM68.5 162.8h.8v.8h-.8zM68.9 166.9h.8v.8h-.8zM69.0 165.5h.8v.8h-.8zM68.8 163.7h.8v.8h-.8zM68.7 161.8h.8v.8h-.8zM69.4 167.0h.8v.8h-.8zM69.5 166.2h.8v.8h-.8zM69.4 165.8h.8v.8h-.8zM69.4 163.9h.8v.8h-.8zM69.5 163.2h.8v.8h-.8zM69.2 162.9h.8v.8h-.8zM69.4 162.3h.8v.8h-.8zM70.0 166.3h.8v.8h-.8zM69.7 165.8h.8v.8h-.8zM69.7 164.8h.8v.8h-.8zM69.9 163.7h.8v.8h-.8zM70.0 163.3h.8v.8h-.8zM69.8 163.0h.8v.8h-.8zM69.8 161.9h.8v.8h-.8zM70.5 165.8h.8v.8h-.8zM70.3 164.9h.8v.8h-.8zM70.5 163.8h.8v.8h-.8zM70.4 162.5h.8v.8h-.8zM70.8 165.2h.8v.8h-.8zM70.7 165.0h.8v.8h-.8zM70.9 164.4h.8v.8h-.8zM71.0 163.8h.8v.8h-.8zM70.9 162.3h.8v.8h-.8zM70.7 161.0h.8v.8h-.8zM71.3 165.5h.8v.8h-.8zM71.4 165.0h.8v.8h-.8zM71.5 164.4h.8v.8h-.8zM71.5 163.8h.8v.8h-.8zM71.4 162.4h.8v.8h-.8zM71.2 161.4h.8v.8h-.8zM71.8 165.0h.8v.8h-.8zM71.7 164.2h.8v.8h-.8zM71.9 161.2h.8v.8h-.8zM72.4 164.8h.8v.8h-.8zM72.5 162.3h.8v.8h-.8zM72.3 161.8h.8v.8h-.8zM72.4 161.5h.8v.8h-.8zM73.0 164.4h.8v.8h-.8zM72.8 163.9h.8v.8h-.8zM72.7 162.9h.8v.8h-.8zM73.0 160.8h.8v.8h-.8zM73.5 164.3h.8v.8h-.8zM73.5 163.7h.8v.8h-.8zM73.4 163.5h.8v.8h-.8zM73.3 162.8h.8v.8h-.8zM73.5 160.7h.8v.8h-.8zM73.3 160.3h.8v.8h-.8zM73.3 159.9h.8v.8h-.8zM73.9 163.9h.8v.8h-.8zM74.0 163.5h.8v.8h-.8zM73.7 162.9h.8v.8h-.8zM74.0 162.5h.8v.8h-.8zM73.9 161.2h.8v.8h-.8zM73.8 160.9h.8v.8h-.8zM74.0 160.5h.8v.8h-.8zM74.2 163.8h.8v.8h-.8zM74.5 163.4h.8v.8h-.8zM74.7 163.0h.8v.8h-.8zM74.8 162.3h.8v.8h-.8zM74.8 162.0h.8v.8h-.8zM75.0 160.3h.8v.8h-.8zM75.0 160.0h.8v.8h-.8zM75.2 163.3h.8v.8h-.8zM75.4 162.8h.8v.8h-.8zM75.2 161.8h.8v.8h-.8zM75.2 161.2h.8v.8h-.8zM75.3 160.3h.8v.8h-.8zM76.0 163.3h.8v.8h-.8zM76.0 162.9h.8v.8h-.8zM75.8 161.7h.8v.8h-.8zM76.0 160.8h.8v.8h-.8zM75.9 160.0h.8v.8h-.8zM76.5 163.3h.8v.8h-.8zM76.3 162.7h.8v.8h-.8zM76.3 162.4h.8v.8h-.8zM76.4 160.9h.8v.8h-.8zM76.5 159.4h.8v.8h-.8zM76.3 159.0h.8v.8h-.8zM76.7 163.3h.8v.8h-.8zM76.7 162.2h.8v.8h-.8zM77.0 161.9h.8v.8h-.8zM77.0 160.7h.8v.8h-.8zM77.2 162.9h.8v.8h-.8zM77.3 162.5h.8v.8h-.8zM77.3 161.7h.8v.8h-.8zM77.2 160.8h.8v.8h-.8zM77.3 160.4h.8v.8h-.8zM77.4 159.5h.8v.8h-.8zM77.9 162.9h.8v.8h-.8zM77.9 162.3h.8v.8h-.8zM78.0 161.8h.8v.8h-.8zM77.8 160.7h.8v.8h-.8zM77.8 159.0h.8v.8h-.8zM78.2 162.7h.8v.8h-.8zM78.3 160.9h.8v.8h-.8zM78.5 159.2h.8v.8h-.8zM78.9 162.8h.8v.8h-.8zM78.7 162.5h.8v.8h-.8zM78.9 162.0h.8v.8h-.8zM78.9 161.3h.8v.8h-.8zM78.7 160.4h.8v.8h-.8zM79.0 159.9h.8v.8h-.8zM79.5 163.0h.8v.8h-.8zM79.5 161.9h.8v.8h-.8zM79.5 161.4h.8v.8h-.8zM79.4 161.0h.8v.8h-.8zM79.5 160.3h.8v.8h-.8zM79.2 159.3h.8v.8h-.8zM79.3 158.8h.8v.8h-.8zM79.8 163.0h.8v.8h-.8zM79.9 162.5h.8v.8h-.8zM79.8 161.9h.8v.8h-.8zM79.8 161.5h.8v.8h-.8zM80.0 160.9h.8v.8h-.8zM79.9 159.7h.8v.8h-.8zM79.7 159.0h.8v.8h-.8zM80.2 162.4h.8v.8h-.8zM80.2 161.8h.8v.8h-.8zM80.5 161.3h.8v.8h-.8zM80.3 160.7h.8v.8h-.8zM80.9 162.4h.8v.8h-.8zM80.8 161.7h.8v.8h-.8zM80.7 161.2h.8v.8h-.8zM81.0 160.7h.8v.8h-.8zM81.0 160.5h.8v.8h-.8zM80.9 159.0h.8v.8h-.8zM81.4 163.0h.8v.8h-.8zM81.3 162.0h.8v.8h-.8zM81.3 160.7h.8v.8h-.8zM81.2 160.5h.8v.8h-.8zM82.0 162.9h.8v.8h-.8zM81.9 161.9h.8v.8h-.8zM82.0 158.8h.8v.8h-.8zM82.3 162.7h.8v.8h-.8zM82.4 162.2h.8v.8h-.8zM82.2 162.0h.8v.8h-.8zM82.2 160.5h.8v.8h-.8zM82.4 159.7h.8v.8h-.8zM82.7 163.4h.8v.8h-.8zM82.8 162.4h.8v.8h-.8zM83.0 161.7h.8v.8h-.8zM82.7 161.3h.8v.8h-.8zM83.0 160.9h.8v.8h-.8zM83.0 159.9h.8v.8h-.8zM83.3 163.5h.8v.8h-.8zM83.5 162.9h.8v.8h-.8zM83.5 162.3h.8v.8h-.8zM83.3 161.8h.8v.8h-.8zM83.4 160.7h.8v.8h-.8zM83.7 163.3h.8v.8h-.8zM83.7 162.7h.8v.8h-.8zM83.9 162.5h.8v.8h-.8zM83.8 161.9h.8v.8h-.8zM83.8 161.5h.8v.8h-.8zM84.0 160.9h.8v.8h-.8zM83.8 160.5h.8v.8h-.8zM83.7 158.9h.8v.8h-.8zM84.4 163.4h.8v.8h-.8zM84.5 162.7h.8v.8h-.8zM84.5 162.0h.8v.8h-.8zM84.5 160.9h.8v.8h-.8zM84.8 163.2h.8v.8h-.8zM84.8 162.2h.8v.8h-.8zM84.7 160.9h.8v.8h-.8zM84.8 160.4h.8v.8h-.8zM85.5 164.0h.8v.8h-.8zM85.4 163.2h.8v.8h-.8zM85.3 162.3h.8v.8h-.8zM85.2 161.2h.8v.8h-.8zM85.7 163.8h.8v.8h-.8zM85.8 163.4h.8v.8h-.8zM85.7 162.9h.8v.8h-.8zM86.0 160.3h.8v.8h-.8zM85.9 160.0h.8v.8h-.8zM86.0 159.4h.8v.8h-.8zM86.5 164.4h.8v.8h-.8zM86.5 162.7h.8v.8h-.8zM86.5 161.7h.8v.8h-.8zM86.4 161.2h.8v.8h-.8zM86.2 159.7h.8v.8h-.8zM86.9 164.3h.8v.8h-.8zM86.8 162.7h.8v.8h-.8zM86.9 162.5h.8v.8h-.8zM86.7 161.0h.8v.8h-.8zM87.2 165.0h.8v.8h-.8zM87.5 164.0h.8v.8h-.8zM87.5 163.2h.8v.8h-.8zM87.2 161.2h.8v.8h-.8zM88.0 164.7h.8v.8h-.8zM87.7 164.3h.8v.8h-.8zM87.8 163.7h.8v.8h-.8zM87.7 163.5h.8v.8h-.8zM87.8 162.3h.8v.8h-.8zM88.4 165.4h.8v.8h-.8zM88.3 164.9h.8v.8h-.8zM88.5 163.9h.8v.8h-.8zM88.2 163.4h.8v.8h-.8zM88.4 162.0h.8v.8h-.8zM88.8 165.4h.8v.8h-.8zM88.9 164.9h.8v.8h-.8zM89.0 164.3h.8v.8h-.8zM88.8 162.5h.8v.8h-.8zM89.3 164.9h.8v.8h-.8zM89.5 163.9h.8v.8h-.8zM89.2 163.3h.8v.8h-.8zM89.3 162.8h.8v.8h-.8zM89.3 162.5h.8v.8h-.8zM89.7 166.2h.8v.8h-.8zM89.9 165.8h.8v.8h-.8zM89.9 163.9h.8v.8h-.8zM90.0 163.3h.8v.8h-.8zM89.8 162.7h.8v.8h-.8zM89.7 162.0h.8v.8h-.8zM89.7 161.5h.8v.8h-.8zM90.5 166.3h.8v.8h-.8zM90.3 165.8h.8v.8h-.8zM90.3 165.5h.8v.8h-.8zM90.5 165.0h.8v.8h-.8zM90.2 163.8h.8v.8h-.8zM90.3 161.7h.8v.8h-.8zM90.7 167.0h.8v.8h-.8zM90.8 166.3h.8v.8h-.8zM90.8 165.8h.8v.8h-.8zM91.0 164.9h.8v.8h-.8zM90.8 162.4h.8v.8h-.8zM90.7 161.7h.8v.8h-.8zM90.7 161.4h.8v.8h-.8zM91.4 167.3h.8v.8h-.8zM91.3 166.5h.8v.8h-.8zM91.2 165.5h.8v.8h-.8zM91.4 164.7h.8v.8h-.8zM92.0 167.8h.8v.8h-.8zM91.9 167.4h.8v.8h-.8zM92.0 166.8h.8v.8h-.8zM91.7 166.0h.8v.8h-.8zM92.0 163.9h.8v.8h-.8zM92.0 162.4h.8v.8h-.8zM92.4 168.3h.8v.8h-.8zM92.5 167.0h.8v.8h-.8zM92.3 164.3h.8v.8h-.8zM93.0 168.8h.8v.8h-.8zM93.0 168.5h.8v.8h-.8zM92.7 167.9h.8v.8h-.8zM93.0 167.3h.8v.8h-.8zM92.7 167.0h.8v.8h-.8zM93.0 166.4h.8v.8h-.8zM93.0 164.4h.8v.8h-.8zM92.8 162.9h.8v.8h-.8zM93.3 169.5h.8v.8h-.8zM93.2 168.8h.8v.8h-.8zM93.2 167.9h.8v.8h-.8zM93.2 166.5h.8v.8h-.8zM93.4 165.3h.8v.8h-.8zM93.4 165.0h.8v.8h-.8zM93.4 164.3h.8v.8h-.8zM93.3 164.0h.8v.8h-.8zM93.4 163.0h.8v.8h-.8zM94.0 170.4h.8v.8h-.8zM93.8 169.7h.8v.8h-.8zM94.0 168.3h.8v.8h-.8zM93.7 165.3h.8v.8h-.8zM93.7 164.5h.8v.8h-.8zM94.2 169.8h.8v.8h-.8zM94.5 169.0h.8v.8h-.8zM94.5 167.2h.8v.8h-.8zM94.2 166.4h.8v.8h-.8zM94.4 165.8h.8v.8h-.8zM94.5 165.5h.8v.8h-.8zM94.5 164.8h.8v.8h-.8zM94.5 164.4h.8v.8h-.8zM94.8 171.0h.8v.8h-.8zM94.8 168.9h.8v.8h-.8zM95.0 168.5h.8v.8h-.8zM95.0 167.9h.8v.8h-.8zM94.9 167.4h.8v.8h-.8zM94.7 167.0h.8v.8h-.8zM95.3 172.2h.8v.8h-.8zM95.3 172.0h.8v.8h-.8zM95.3 171.3h.8v.8h-.8zM95.4 170.8h.8v.8h-.8zM95.4 169.8h.8v.8h-.8zM95.3 168.2h.8v.8h-.8zM95.2 167.4h.8v.8h-.8zM95.5 165.3h.8v.8h-.8zM95.7 173.4h.8v.8h-.8zM95.8 172.8h.8v.8h-.8zM96.0 172.3h.8v.8h-.8zM96.0 171.9h.8v.8h-.8zM95.8 171.2h.8v.8h-.8zM95.9 170.2h.8v.8h-.8zM95.8 169.8h.8v.8h-.8zM95.7 169.4h.8v.8h-.8zM95.9 168.5h.8v.8h-.8zM95.7 166.0h.8v.8h-.8zM95.9 164.9h.8v.8h-.8zM96.5 174.3h.8v.8h-.8zM96.3 173.9h.8v.8h-.8zM96.4 172.9h.8v.8h-.8zM96.5 172.3h.8v.8h-.8zM96.5 172.0h.8v.8h-.8zM96.3 171.4h.8v.8h-.8zM96.2 170.9h.8v.8h-.8zM96.3 169.0h.8v.8h-.8zM96.2 168.5h.8v.8h-.8zM96.5 167.3h.8v.8h-.8zM96.2 167.0h.8v.8h-.8zM96.5 166.5h.8v.8h-.8zM96.3 165.8h.8v.8h-.8zM96.8 177.2h.8v.8h-.8zM96.8 176.8h.8v.8h-.8zM96.8 175.7h.8v.8h-.8zM97.0 174.9h.8v.8h-.8zM96.9 174.2h.8v.8h-.8zM96.9 173.8h.8v.8h-.8zM96.7 172.7h.8v.8h-.8zM96.8 172.4h.8v.8h-.8zM96.9 171.3h.8v.8h-.8zM97.0 170.7h.8v.8h-.8zM96.7 169.8h.8v.8h-.8zM96.7 168.8h.8v.8h-.8zM96.9 168.3h.8v.8h-.8zM97.3 176.8h.8v.8h-.8zM97.3 176.2h.8v.8h-.8zM97.2 175.7h.8v.8h-.8zM97.2 175.2h.8v.8h-.8zM97.5 174.4h.8v.8h-.8zM97.4 173.2h.8v.8h-.8zM97.3 172.7h.8v.8h-.8zM97.4 172.4h.8v.8h-.8zM97.3 171.7h.8v.8h-.8zM97.4 170.9h.8v.8h-.8zM97.5 170.5h.8v.8h-.8zM97.4 169.8h.8v.8h-.8zM97.2 168.8h.8v.8h-.8zM97.3 167.7h.8v.8h-.8zM98.0 177.3h.8v.8h-.8zM97.7 176.7h.8v.8h-.8zM97.7 176.0h.8v.8h-.8zM97.9 175.2h.8v.8h-.8zM97.8 174.7h.8v.8h-.8zM97.8 173.3h.8v.8h-.8zM97.9 173.0h.8v.8h-.8zM97.7 172.3h.8v.8h-.8zM97.9 171.4h.8v.8h-.8zM98.0 169.5h.8v.8h-.8zM97.7 169.0h.8v.8h-.8zM98.4 175.7h.8v.8h-.8zM98.5 175.0h.8v.8h-.8zM98.2 174.5h.8v.8h-.8zM98.4 173.4h.8v.8h-.8zM98.2 172.9h.8v.8h-.8zM98.2 172.5h.8v.8h-.8zM98.2 171.2h.8v.8h-.8zM98.4 168.4h.8v.8h-.8zM98.7 175.4h.8v.8h-.8zM98.8 174.7h.8v.8h-.8zM98.7 173.7h.8v.8h-.8zM98.9 172.7h.8v.8h-.8zM98.7 171.7h.8v.8h-.8zM98.7 171.2h.8v.8h-.8zM99.0 169.4h.8v.8h-.8zM98.7 168.3h.8v.8h-.8zM99.2 177.4h.8v.8h-.8zM99.4 176.2h.8v.8h-.8zM99.3 174.7h.8v.8h-.8zM99.4 173.7h.8v.8h-.8zM99.3 171.3h.8v.8h-.8zM99.5 170.3h.8v.8h-.8zM99.2 169.3h.8v.8h-.8zM99.4 168.5h.8v.8h-.8zM99.8 177.2h.8v.8h-.8zM99.8 176.9h.8v.8h-.8zM99.8 176.5h.8v.8h-.8zM99.7 175.7h.8v.8h-.8zM99.7 175.3h.8v.8h-.8zM99.9 174.7h.8v.8h-.8zM99.7 174.5h.8v.8h-.8zM99.7 173.8h.8v.8h-.8zM99.9 173.2h.8v.8h-.8zM100.0 172.7h.8v.8h-.8zM99.9 172.3h.8v.8h-.8zM99.9 171.9h.8v.8h-.8zM100.0 171.2h.8v.8h-.8zM100.0 170.8h.8v.8h-.8zM99.8 170.3h.8v.8h-.8zM99.8 169.3h.8v.8h-.8zM99.7 168.7h.8v.8h-.8zM100.2 175.3h.8v.8h-.8zM100.2 175.0h.8v.8h-.8zM100.3 173.7h.8v.8h-.8zM100.5 173.0h.8v.8h-.8zM100.3 172.3h.8v.8h-.8zM100.2 171.7h.8v.8h-.8zM100.2 171.4h.8v.8h-.8zM100.2 170.7h.8v.8h-.8zM100.5 168.4h.8v.8h-.8zM100.8 176.7h.8v.8h-.8zM101.0 175.7h.8v.8h-.8zM100.8 174.9h.8v.8h-.8zM101.0 173.9h.8v.8h-.8zM100.7 173.4h.8v.8h-.8zM100.8 172.9h.8v.8h-.8zM100.9 172.4h.8v.8h-.8zM101.0 171.7h.8v.8h-.8zM101.0 170.9h.8v.8h-.8zM100.8 170.0h.8v.8h-.8zM101.4 177.0h.8v.8h-.8zM101.2 175.5h.8v.8h-.8zM101.5 173.3h.8v.8h-.8zM101.3 171.0h.8v.8h-.8zM101.3 169.8h.8v.8h-.8zM101.2 168.9h.8v.8h-.8zM101.7 177.0h.8v.8h-.8zM101.9 176.0h.8v.8h-.8zM101.8 174.5h.8v.8h-.8zM101.9 173.8h.8v.8h-.8zM101.8 172.2h.8v.8h-.8zM101.9 171.8h.8v.8h-.8zM101.7 171.4h.8v.8h-.8zM102.0 170.4h.8v.8h-.8zM102.5 177.2h.8v.8h-.8zM102.5 176.9h.8v.8h-.8zM102.4 175.5h.8v.8h-.8zM102.3 173.9h.8v.8h-.8zM102.3 173.3h.8v.8h-.8zM102.5 172.9h.8v.8h-.8zM102.3 171.7h.8v.8h-.8zM102.4 170.9h.8v.8h-.8zM102.4 169.8h.8v.8h-.8zM102.5 169.4h.8v.8h-.8zM102.9 175.9h.8v.8h-.8zM102.8 175.0h.8v.8h-.8zM102.9 174.3h.8v.8h-.8zM102.9 173.4h.8v.8h-.8zM102.8 171.4h.8v.8h-.8zM102.7 170.5h.8v.8h-.8zM102.8 170.0h.8v.8h-.8zM103.5 177.3h.8v.8h-.8zM103.3 176.8h.8v.8h-.8zM103.4 176.4h.8v.8h-.8zM103.3 175.3h.8v.8h-.8zM103.4 175.0h.8v.8h-.8zM103.4 173.3h.8v.8h-.8zM103.2 172.2h.8v.8h-.8zM103.5 171.5h.8v.8h-.8zM103.4 169.5h.8v.8h-.8zM103.8 177.5h.8v.8h-.8zM103.8 175.5h.8v.8h-.8zM103.9 174.7h.8v.8h-.8zM104.0 173.9h.8v.8h-.8zM103.8 170.7h.8v.8h-.8zM103.9 169.5h.8v.8h-.8zM104.4 177.0h.8v.8h-.8zM104.2 175.7h.8v.8h-.8zM104.3 172.9h.8v.8h-.8zM104.3 172.4h.8v.8h-.8zM104.2 171.8h.8v.8h-.8zM104.2 171.4h.8v.8h-.8zM104.5 170.4h.8v.8h-.8zM104.3 169.7h.8v.8h-.8zM104.7 176.8h.8v.8h-.8zM104.9 175.8h.8v.8h-.8zM104.9 172.0h.8v.8h-.8zM104.8 170.8h.8v.8h-.8zM104.9 170.2h.8v.8h-.8zM105.2 177.3h.8v.8h-.8zM105.2 176.4h.8v.8h-.8zM105.2 173.4h.8v.8h-.8zM105.2 170.9h.8v.8h-.8zM106.0 174.0h.8v.8h-.8zM105.8 172.0h.8v.8h-.8zM105.8 170.7h.8v.8h-.8zM106.5 177.5h.8v.8h-.8zM106.3 176.8h.8v.8h-.8zM106.2 176.4h.8v.8h-.8zM106.2 176.0h.8v.8h-.8zM106.2 175.5h.8v.8h-.8zM106.2 174.0h.8v.8h-.8zM106.3 173.2h.8v.8h-.8zM106.3 171.4h.8v.8h-.8zM106.2 169.8h.8v.8h-.8zM106.7 176.8h.8v.8h-.8zM106.7 173.5h.8v.8h-.8zM106.9 172.8h.8v.8h-.8zM107.2 177.5h.8v.8h-.8zM107.5 175.2h.8v.8h-.8zM107.2 171.8h.8v.8h-.8zM107.3 170.8h.8v.8h-.8zM107.2 170.3h.8v.8h-.8zM108.0 176.2h.8v.8h-.8zM107.8 175.5h.8v.8h-.8zM108.0 174.3h.8v.8h-.8zM107.9 173.9h.8v.8h-.8zM107.7 173.4h.8v.8h-.8zM107.7 172.7h.8v.8h-.8zM107.9 171.2h.8v.8h-.8zM108.3 177.4h.8v.8h-.8zM108.2 176.3h.8v.8h-.8zM108.4 175.8h.8v.8h-.8zM108.5 174.5h.8v.8h-.8zM108.2 173.7h.8v.8h-.8zM108.5 172.9h.8v.8h-.8zM108.4 172.2h.8v.8h-.8zM108.5 171.4h.8v.8h-.8zM108.4 170.5h.8v.8h-.8zM108.9 175.8h.8v.8h-.8zM108.8 173.2h.8v.8h-.8zM108.8 172.7h.8v.8h-.8zM108.7 172.0h.8v.8h-.8zM109.0 171.2h.8v.8h-.8zM108.9 170.4h.8v.8h-.8zM109.3 174.3h.8v.8h-.8zM109.3 172.4h.8v.8h-.8zM109.8 176.8h.8v.8h-.8zM109.7 174.4h.8v.8h-.8zM109.8 173.4h.8v.8h-.8zM110.5 176.2h.8v.8h-.8zM110.3 172.5h.8v.8h-.8zM110.8 176.3h.8v.8h-.8zM111.0 176.0h.8v.8h-.8zM111.0 175.2h.8v.8h-.8zM110.8 174.8h.8v.8h-.8zM110.7 173.9h.8v.8h-.8zM110.7 172.3h.8v.8h-.8zM110.8 169.9h.8v.8h-.8zM111.2 176.8h.8v.8h-.8zM111.2 176.4h.8v.8h-.8zM111.2 175.4h.8v.8h-.8zM111.4 174.7h.8v.8h-.8zM111.4 174.4h.8v.8h-.8zM111.3 173.7h.8v.8h-.8zM111.3 171.2h.8v.8h-.8zM111.3 169.9h.8v.8h-.8zM111.7 177.3h.8v.8h-.8zM111.9 176.2h.8v.8h-.8zM111.7 175.8h.8v.8h-.8zM112.0 175.4h.8v.8h-.8zM111.8 173.4h.8v.8h-.8zM111.8 172.8h.8v.8h-.8zM111.8 172.3h.8v.8h-.8zM112.0 171.4h.8v.8h-.8zM111.8 170.5h.8v.8h-.8zM111.9 169.9h.8v.8h-.8zM111.8 169.2h.8v.8h-.8zM112.0 168.5h.8v.8h-.8zM112.4 176.8h.8v.8h-.8zM112.5 175.5h.8v.8h-.8zM112.3 174.7h.8v.8h-.8zM112.4 174.3h.8v.8h-.8zM112.4 173.2h.8v.8h-.8zM112.3 171.8h.8v.8h-.8zM112.4 171.5h.8v.8h-.8zM112.4 171.0h.8v.8h-.8zM112.3 170.3h.8v.8h-.8zM112.9 177.3h.8v.8h-.8zM112.8 176.8h.8v.8h-.8zM113.0 176.3h.8v.8h-.8zM112.8 175.8h.8v.8h-.8zM112.8 175.2h.8v.8h-.8zM112.8 173.9h.8v.8h-.8zM112.7 173.4h.8v.8h-.8zM112.7 172.7h.8v.8h-.8zM113.0 171.3h.8v.8h-.8zM112.7 171.0h.8v.8h-.8zM112.8 169.5h.8v.8h-.8zM113.0 166.5h.8v.8h-.8zM113.4 172.2h.8v.8h-.8zM113.4 171.8h.8v.8h-.8zM113.2 170.3h.8v.8h-.8zM113.2 169.9h.8v.8h-.8zM113.2 169.0h.8v.8h-.8zM113.5 165.8h.8v.8h-.8zM113.8 169.8h.8v.8h-.8zM113.9 169.5h.8v.8h-.8zM113.9 168.8h.8v.8h-.8zM114.0 168.0h.8v.8h-.8zM114.0 166.8h.8v.8h-.8zM113.8 166.4h.8v.8h-.8zM113.7 165.5h.8v.8h-.8zM113.7 165.0h.8v.8h-.8zM114.0 164.2h.8v.8h-.8zM114.0 163.9h.8v.8h-.8zM114.3 169.5h.8v.8h-.8zM114.4 168.9h.8v.8h-.8zM114.2 168.5h.8v.8h-.8zM114.5 167.5h.8v.8h-.8zM114.4 165.4h.8v.8h-.8zM114.8 167.7h.8v.8h-.8zM114.7 167.4h.8v.8h-.8zM115.0 166.8h.8v.8h-.8zM114.8 166.0h.8v.8h-.8zM114.7 165.2h.8v.8h-.8zM114.8 164.5h.8v.8h-.8zM115.0 163.8h.8v.8h-.8zM115.0 163.3h.8v.8h-.8zM114.9 162.5h.8v.8h-.8zM115.4 166.8h.8v.8h-.8zM115.3 166.4h.8v.8h-.8zM115.4 165.9h.8v.8h-.8zM115.5 165.3h.8v.8h-.8zM115.5 164.3h.8v.8h-.8zM115.4 164.0h.8v.8h-.8zM115.2 163.5h.8v.8h-.8zM115.2 162.9h.8v.8h-.8zM116.0 165.2h.8v.8h-.8zM115.9 164.9h.8v.8h-.8zM116.0 164.5h.8v.8h-.8zM115.8 163.9h.8v.8h-.8zM116.4 165.3h.8v.8h-.8zM116.3 163.9h.8v.8h-.8zM116.5 162.5h.8v.8h-.8zM116.2 160.8h.8v.8h-.8zM116.7 164.9h.8v.8h-.8zM116.9 163.7h.8v.8h-.8zM117.0 162.9h.8v.8h-.8zM116.8 161.5h.8v.8h-.8zM117.5 164.4h.8v.8h-.8zM117.3 163.9h.8v.8h-.8zM117.5 162.8h.8v.8h-.8zM117.5 162.5h.8v.8h-.8zM117.2 161.0h.8v.8h-.8zM117.9 163.9h.8v.8h-.8zM117.9 163.2h.8v.8h-.8zM117.8 162.2h.8v.8h-.8zM117.9 160.3h.8v.8h-.8zM118.4 163.8h.8v.8h-.8zM118.2 163.2h.8v.8h-.8zM118.3 163.0h.8v.8h-.8zM118.2 162.3h.8v.8h-.8zM118.4 161.8h.8v.8h-.8zM118.4 160.8h.8v.8h-.8zM118.3 160.4h.8v.8h-.8zM118.8 163.3h.8v.8h-.8zM118.9 162.9h.8v.8h-.8zM118.8 162.2h.8v.8h-.8zM118.9 161.5h.8v.8h-.8zM118.8 160.5h.8v.8h-.8zM119.0 159.9h.8v.8h-.8zM119.3 163.4h.8v.8h-.8zM119.4 162.7h.8v.8h-.8zM119.5 160.2h.8v.8h-.8zM119.5 159.9h.8v.8h-.8zM120.0 163.4h.8v.8h-.8zM119.8 162.8h.8v.8h-.8zM119.8 161.7h.8v.8h-.8zM119.8 161.5h.8v.8h-.8zM119.7 161.0h.8v.8h-.8zM119.9 160.4h.8v.8h-.8zM120.4 162.8h.8v.8h-.8zM120.4 162.5h.8v.8h-.8zM120.5 161.8h.8v.8h-.8zM120.3 161.5h.8v.8h-.8zM120.5 159.7h.8v.8h-.8zM121.0 163.5h.8v.8h-.8zM120.9 162.7h.8v.8h-.8zM120.7 161.5h.8v.8h-.8zM120.7 159.7h.8v.8h-.8zM121.5 164.0h.8v.8h-.8zM121.5 163.3h.8v.8h-.8zM121.3 160.2h.8v.8h-.8zM121.8 164.3h.8v.8h-.8zM122.0 163.9h.8v.8h-.8zM122.0 163.3h.8v.8h-.8zM121.9 162.3h.8v.8h-.8zM121.7 161.9h.8v.8h-.8zM121.7 160.4h.8v.8h-.8zM122.5 165.0h.8v.8h-.8zM122.3 164.3h.8v.8h-.8zM122.2 163.5h.8v.8h-.8zM122.4 163.0h.8v.8h-.8zM122.7 165.4h.8v.8h-.8zM123.0 165.0h.8v.8h-.8zM122.9 163.9h.8v.8h-.8zM122.7 162.7h.8v.8h-.8zM123.0 161.8h.8v.8h-.8zM122.7 161.5h.8v.8h-.8zM123.5 166.2h.8v.8h-.8zM123.4 164.5h.8v.8h-.8zM123.2 162.5h.8v.8h-.8zM123.4 161.5h.8v.8h-.8zM123.8 167.5h.8v.8h-.8zM123.7 166.9h.8v.8h-.8zM123.9 166.5h.8v.8h-.8zM123.7 164.7h.8v.8h-.8zM124.0 164.5h.8v.8h-.8zM123.7 163.9h.8v.8h-.8zM123.9 162.7h.8v.8h-.8zM123.8 162.5h.8v.8h-.8zM124.3 168.5h.8v.8h-.8zM124.5 168.0h.8v.8h-.8zM124.2 167.4h.8v.8h-.8zM124.5 166.7h.8v.8h-.8zM124.2 166.4h.8v.8h-.8zM124.3 165.9h.8v.8h-.8zM124.4 165.5h.8v.8h-.8zM124.5 165.0h.8v.8h-.8zM124.2 164.4h.8v.8h-.8zM124.9 170.0h.8v.8h-.8zM124.7 169.3h.8v.8h-.8zM124.7 168.8h.8v.8h-.8zM124.8 168.2h.8v.8h-.8zM125.0 168.0h.8v.8h-.8zM124.7 167.5h.8v.8h-.8zM124.8 166.8h.8v.8h-.8zM124.8 164.8h.8v.8h-.8zM124.9 164.0h.8v.8h-.8zM125.2 171.7h.8v.8h-.8zM125.5 171.5h.8v.8h-.8zM125.2 171.0h.8v.8h-.8zM125.3 170.3h.8v.8h-.8zM125.4 170.0h.8v.8h-.8zM125.2 167.7h.8v.8h-.8zM125.3 166.9h.8v.8h-.8zM125.3 165.9h.8v.8h-.8zM126.0 177.2h.8v.8h-.8zM126.0 177.0h.8v.8h-.8zM125.9 176.0h.8v.8h-.8zM125.7 175.2h.8v.8h-.8zM125.8 175.0h.8v.8h-.8zM125.7 174.3h.8v.8h-.8zM125.8 173.7h.8v.8h-.8zM125.7 173.4h.8v.8h-.8zM125.8 172.3h.8v.8h-.8zM125.7 171.8h.8v.8h-.8zM125.8 171.2h.8v.8h-.8zM125.9 170.7h.8v.8h-.8zM125.7 169.8h.8v.8h-.8zM125.9 168.9h.8v.8h-.8zM125.8 167.7h.8v.8h-.8zM125.7 167.4h.8v.8h-.8zM126.2 176.8h.8v.8h-.8zM126.5 175.8h.8v.8h-.8zM126.5 175.2h.8v.8h-.8zM126.4 174.8h.8v.8h-.8zM126.5 174.5h.8v.8h-.8zM126.5 173.5h.8v.8h-.8zM126.3 173.0h.8v.8h-.8zM126.4 172.5h.8v.8h-.8zM126.3 172.0h.8v.8h-.8zM126.5 168.5h.8v.8h-.8zM126.4 166.9h.8v.8h-.8zM126.7 176.9h.8v.8h-.8zM126.7 175.8h.8v.8h-.8zM126.7 173.9h.8v.8h-.8zM126.9 173.3h.8v.8h-.8zM127.0 169.2h.8v.8h-.8zM127.3 177.5h.8v.8h-.8zM127.3 177.0h.8v.8h-.8zM127.4 175.8h.8v.8h-.8zM127.2 174.3h.8v.8h-.8zM127.5 173.8h.8v.8h-.8zM127.2 173.5h.8v.8h-.8zM127.3 173.0h.8v.8h-.8z" fill="#111" filter="url(#bl)"/>
<path d="M66.4 162.0h.8v.8h-.8zM66.9 162.3h.8v.8h-.8zM67.0 159.5h.8v.8h-.8zM67.5 161.4h.8v.8h-.8zM68.0 157.5h.8v.8h-.8zM68.0 153.2h.8v.8h-.8zM68.8 160.3h.8v.8h-.8zM68.8 157.2h.8v.8h-.8zM68.8 151.0h.8v.8h-.8zM69.3 161.0h.8v.8h-.8zM69.8 160.7h.8v.8h-.8zM70.0 160.4h.8v.8h-.8zM69.8 157.9h.8v.8h-.8zM71.0 157.4h.8v.8h-.8zM71.4 159.5h.8v.8h-.8zM71.5 158.2h.8v.8h-.8zM71.7 158.2h.8v.8h-.8zM72.0 156.4h.8v.8h-.8zM72.8 158.0h.8v.8h-.8zM73.4 157.9h.8v.8h-.8zM74.4 158.0h.8v.8h-.8zM74.8 158.9h.8v.8h-.8zM74.9 158.4h.8v.8h-.8zM74.7 157.3h.8v.8h-.8zM75.0 155.0h.8v.8h-.8zM77.3 158.3h.8v.8h-.8zM77.4 152.8h.8v.8h-.8zM78.4 158.3h.8v.8h-.8zM78.9 155.5h.8v.8h-.8zM78.8 152.3h.8v.8h-.8zM79.2 157.8h.8v.8h-.8zM79.4 157.0h.8v.8h-.8zM80.5 157.3h.8v.8h-.8zM81.2 158.5h.8v.8h-.8zM81.5 158.0h.8v.8h-.8zM81.3 157.2h.8v.8h-.8zM82.0 157.3h.8v.8h-.8zM81.7 155.4h.8v.8h-.8zM81.9 153.8h.8v.8h-.8zM82.2 157.3h.8v.8h-.8zM82.3 156.7h.8v.8h-.8zM83.4 155.4h.8v.8h-.8zM83.9 155.9h.8v.8h-.8zM83.7 154.8h.8v.8h-.8zM84.2 157.5h.8v.8h-.8zM84.8 158.2h.8v.8h-.8zM84.8 155.4h.8v.8h-.8zM85.8 158.4h.8v.8h-.8zM85.9 155.9h.8v.8h-.8zM86.3 158.2h.8v.8h-.8zM86.2 154.8h.8v.8h-.8zM86.4 154.5h.8v.8h-.8zM86.7 158.8h.8v.8h-.8zM87.2 158.9h.8v.8h-.8zM88.0 155.8h.8v.8h-.8zM89.4 160.4h.8v.8h-.8zM89.3 157.4h.8v.8h-.8zM89.9 160.3h.8v.8h-.8zM90.0 160.0h.8v.8h-.8zM91.7 159.8h.8v.8h-.8zM91.7 158.4h.8v.8h-.8zM91.8 155.2h.8v.8h-.8zM92.3 161.9h.8v.8h-.8zM92.5 158.8h.8v.8h-.8zM92.9 162.4h.8v.8h-.8zM93.0 157.8h.8v.8h-.8zM93.4 160.7h.8v.8h-.8zM93.2 160.5h.8v.8h-.8zM93.8 161.5h.8v.8h-.8zM93.9 159.3h.8v.8h-.8zM93.7 158.8h.8v.8h-.8zM93.7 158.3h.8v.8h-.8zM94.2 163.0h.8v.8h-.8zM94.9 159.9h.8v.8h-.8zM95.3 163.0h.8v.8h-.8zM95.2 161.2h.8v.8h-.8zM95.3 158.0h.8v.8h-.8zM95.7 163.7h.8v.8h-.8zM95.8 163.3h.8v.8h-.8zM95.7 162.0h.8v.8h-.8zM96.2 163.8h.8v.8h-.8zM96.3 154.9h.8v.8h-.8zM96.9 163.2h.8v.8h-.8zM96.9 161.0h.8v.8h-.8zM96.7 146.9h.8v.8h-.8zM97.7 160.7h.8v.8h-.8zM98.5 164.4h.8v.8h-.8zM98.3 163.7h.8v.8h-.8zM98.3 161.4h.8v.8h-.8zM98.2 151.7h.8v.8h-.8zM99.0 166.3h.8v.8h-.8zM99.0 163.0h.8v.8h-.8zM99.2 167.5h.8v.8h-.8zM99.3 166.3h.8v.8h-.8zM99.4 165.9h.8v.8h-.8zM99.4 164.7h.8v.8h-.8zM99.4 155.2h.8v.8h-.8zM99.4 151.8h.8v.8h-.8zM100.3 165.9h.8v.8h-.8zM100.5 140.0h.8v.8h-.8zM100.9 167.3h.8v.8h-.8zM100.7 165.4h.8v.8h-.8zM101.0 159.9h.8v.8h-.8zM100.8 146.3h.8v.8h-.8zM101.5 167.2h.8v.8h-.8zM101.3 166.9h.8v.8h-.8zM101.8 155.5h.8v.8h-.8zM102.4 164.0h.8v.8h-.8zM102.3 146.5h.8v.8h-.8zM102.4 139.5h.8v.8h-.8zM103.0 168.3h.8v.8h-.8zM102.9 161.9h.8v.8h-.8zM102.8 149.5h.8v.8h-.8zM103.3 166.3h.8v.8h-.8zM103.2 165.8h.8v.8h-.8zM103.5 165.3h.8v.8h-.8zM103.3 164.4h.8v.8h-.8zM103.5 163.5h.8v.8h-.8zM103.2 159.4h.8v.8h-.8zM103.3 153.0h.8v.8h-.8zM103.2 131.0h.8v.8h-.8zM103.9 167.8h.8v.8h-.8zM104.0 160.4h.8v.8h-.8zM103.7 153.7h.8v.8h-.8zM104.0 137.3h.8v.8h-.8zM104.4 168.3h.8v.8h-.8zM104.3 154.5h.8v.8h-.8zM104.3 152.3h.8v.8h-.8zM104.8 168.4h.8v.8h-.8zM105.4 168.2h.8v.8h-.8zM105.2 166.7h.8v.8h-.8zM105.3 165.8h.8v.8h-.8zM105.5 150.8h.8v.8h-.8zM105.5 148.0h.8v.8h-.8zM105.7 167.4h.8v.8h-.8zM105.9 166.8h.8v.8h-.8zM105.7 163.4h.8v.8h-.8zM105.7 149.0h.8v.8h-.8zM105.9 127.8h.8v.8h-.8zM106.2 165.5h.8v.8h-.8zM106.2 136.7h.8v.8h-.8zM106.3 134.8h.8v.8h-.8zM106.9 165.5h.8v.8h-.8zM106.8 164.8h.8v.8h-.8zM106.9 142.0h.8v.8h-.8zM106.7 126.9h.8v.8h-.8zM107.5 167.9h.8v.8h-.8zM107.4 166.2h.8v.8h-.8zM107.7 168.4h.8v.8h-.8zM107.9 167.4h.8v.8h-.8zM107.9 130.4h.8v.8h-.8zM108.4 165.5h.8v.8h-.8zM108.2 164.3h.8v.8h-.8zM108.4 155.4h.8v.8h-.8zM108.3 146.3h.8v.8h-.8zM108.5 118.7h.8v.8h-.8zM108.8 153.0h.8v.8h-.8zM108.9 139.0h.8v.8h-.8zM109.4 170.4h.8v.8h-.8zM109.5 168.8h.8v.8h-.8zM109.5 167.5h.8v.8h-.8zM109.3 164.7h.8v.8h-.8zM109.5 164.3h.8v.8h-.8zM109.5 154.3h.8v.8h-.8zM109.3 134.2h.8v.8h-.8zM109.7 170.2h.8v.8h-.8zM110.0 168.7h.8v.8h-.8zM109.7 163.0h.8v.8h-.8zM110.0 143.3h.8v.8h-.8zM110.4 169.9h.8v.8h-.8zM110.5 168.8h.8v.8h-.8zM110.4 163.5h.8v.8h-.8zM110.5 139.2h.8v.8h-.8zM110.9 168.4h.8v.8h-.8zM110.7 167.7h.8v.8h-.8zM111.0 162.8h.8v.8h-.8zM111.0 162.0h.8v.8h-.8zM111.0 159.5h.8v.8h-.8zM110.8 158.9h.8v.8h-.8zM111.2 167.8h.8v.8h-.8zM111.4 149.8h.8v.8h-.8zM111.9 167.9h.8v.8h-.8zM112.0 166.2h.8v.8h-.8zM111.9 147.5h.8v.8h-.8zM112.0 144.8h.8v.8h-.8zM111.7 139.4h.8v.8h-.8zM112.2 165.9h.8v.8h-.8zM112.3 161.0h.8v.8h-.8zM112.4 159.0h.8v.8h-.8zM112.2 142.7h.8v.8h-.8zM113.0 164.8h.8v.8h-.8zM113.0 143.3h.8v.8h-.8zM112.7 138.8h.8v.8h-.8zM113.7 163.0h.8v.8h-.8zM113.7 162.5h.8v.8h-.8zM113.8 160.4h.8v.8h-.8zM114.2 158.0h.8v.8h-.8zM114.3 156.7h.8v.8h-.8zM114.5 149.0h.8v.8h-.8zM114.4 139.8h.8v.8h-.8zM114.9 162.0h.8v.8h-.8zM115.0 158.2h.8v.8h-.8zM114.7 152.0h.8v.8h-.8zM115.4 160.3h.8v.8h-.8zM115.3 129.9h.8v.8h-.8zM115.9 131.5h.8v.8h-.8zM116.0 130.9h.8v.8h-.8zM116.5 160.4h.8v.8h-.8zM116.2 158.2h.8v.8h-.8zM117.8 159.4h.8v.8h-.8zM118.4 158.9h.8v.8h-.8zM118.9 158.0h.8v.8h-.8zM119.0 149.5h.8v.8h-.8zM120.0 158.9h.8v.8h-.8zM121.3 157.4h.8v.8h-.8zM124.0 159.2h.8v.8h-.8zM124.4 161.2h.8v.8h-.8zM125.3 164.0h.8v.8h-.8zM127.4 169.7h.8v.8h-.8zM127.3 168.7h.8v.8h-.8zM127.7 176.7h.8v.8h-.8zM127.9 175.2h.8v.8h-.8zM127.7 174.7h.8v.8h-.8zM128.0 173.5h.8v.8h-.8zM127.9 173.0h.8v.8h-.8zM128.2 172.9h.8v.8h-.8zM128.3 172.4h.8v.8h-.8zM128.4 169.4h.8v.8h-.8zM128.5 167.8h.8v.8h-.8zM128.2 165.2h.8v.8h-.8zM128.8 173.3h.8v.8h-.8zM129.5 166.8h.8v.8h-.8zM129.5 165.7h.8v.8h-.8zM130.0 160.9h.8v.8h-.8zM133.4 162.3h.8v.8h-.8z" fill="#444" filter="url(#bl)"/>
<line x1="96.3" y1="105.5" x2="96.3" y2="178" stroke="#777" stroke-width="0.8"/>
<line x1="66" y1="161.4" x2="142.5" y2="161.4" stroke="#999" stroke-width="0.9"/>
<rect x="66" y="105.5" width="76.5" height="72.5" fill="none" stroke="#000" stroke-width="1.5"/>
<text x="141.7" y="118.0" font-size="10.4" text-anchor="end" >2 ± 0.3%</text>
<text x="64.5" y="185" font-size="4" fill="#aaa" font-family="Liberation Sans, sans-serif">10<tspan dy="-1.5" font-size="2.8">0</tspan></text>
<text x="59" y="179.5" font-size="4" fill="#aaa" font-family="Liberation Sans, sans-serif">10<tspan dy="-1.5" font-size="2.8">0</tspan></text>
<text x="83.5" y="185" font-size="4" fill="#aaa" font-family="Liberation Sans, sans-serif">10<tspan dy="-1.5" font-size="2.8">1</tspan></text>
<text x="59" y="161.3" font-size="4" fill="#aaa" font-family="Liberation Sans, sans-serif">10<tspan dy="-1.5" font-size="2.8">1</tspan></text>
<text x="102.5" y="185" font-size="4" fill="#aaa" font-family="Liberation Sans, sans-serif">10<tspan dy="-1.5" font-size="2.8">2</tspan></text>
<text x="59" y="143.1" font-size="4" fill="#aaa" font-family="Liberation Sans, sans-serif">10<tspan dy="-1.5" font-size="2.8">2</tspan></text>
<text x="121.5" y="185" font-size="4" fill="#aaa" font-family="Liberation Sans, sans-serif">10<tspan dy="-1.5" font-size="2.8">3</tspan></text>
<text x="59" y="124.9" font-size="4" fill="#aaa" font-family="Liberation Sans, sans-serif">10<tspan dy="-1.5" font-size="2.8">3</tspan></text>
<path d="M167.0 177.0h1v1h-1zM167.0 176.0h1v1h-1zM167.0 175.0h1v1h-1zM167.0 174.0h1v1h-1zM167.0 173.0h1v1h-1zM167.0 172.0h1v1h-1zM167.0 171.0h1v1h-1zM167.0 170.0h1v1h-1zM168.0 177.0h1v1h-1zM168.0 176.0h1v1h-1zM168.0 175.0h1v1h-1zM168.0 174.0h1v1h-1zM168.0 173.0h1v1h-1zM168.0 172.0h1v1h-1zM168.0 171.0h1v1h-1zM168.0 170.0h1v1h-1zM168.0 169.0h1v1h-1zM169.0 177.0h1v1h-1zM169.0 176.0h1v1h-1zM169.0 175.0h1v1h-1zM169.0 174.0h1v1h-1zM169.0 173.0h1v1h-1zM169.0 172.0h1v1h-1zM169.0 171.0h1v1h-1zM169.0 170.0h1v1h-1zM169.0 169.0h1v1h-1zM169.0 168.0h1v1h-1zM170.0 177.0h1v1h-1zM170.0 176.0h1v1h-1zM170.0 175.0h1v1h-1zM170.0 174.0h1v1h-1zM170.0 173.0h1v1h-1zM170.0 172.0h1v1h-1zM170.0 171.0h1v1h-1zM170.0 170.0h1v1h-1zM170.0 169.0h1v1h-1zM170.0 168.0h1v1h-1zM170.0 167.0h1v1h-1zM171.0 177.0h1v1h-1zM171.0 176.0h1v1h-1zM171.0 175.0h1v1h-1zM171.0 174.0h1v1h-1zM171.0 173.0h1v1h-1zM171.0 172.0h1v1h-1zM171.0 171.0h1v1h-1zM171.0 170.0h1v1h-1zM171.0 169.0h1v1h-1zM171.0 168.0h1v1h-1zM171.0 167.0h1v1h-1zM172.0 177.0h1v1h-1zM172.0 176.0h1v1h-1zM172.0 175.0h1v1h-1zM172.0 174.0h1v1h-1zM172.0 173.0h1v1h-1zM172.0 172.0h1v1h-1zM172.0 171.0h1v1h-1zM172.0 170.0h1v1h-1zM172.0 169.0h1v1h-1zM172.0 168.0h1v1h-1zM172.0 167.0h1v1h-1zM172.0 166.0h1v1h-1zM173.0 177.0h1v1h-1zM173.0 176.0h1v1h-1zM173.0 175.0h1v1h-1zM173.0 174.0h1v1h-1zM173.0 173.0h1v1h-1zM173.0 172.0h1v1h-1zM173.0 171.0h1v1h-1zM173.0 170.0h1v1h-1zM173.0 169.0h1v1h-1zM173.0 168.0h1v1h-1zM173.0 167.0h1v1h-1zM173.0 166.0h1v1h-1zM174.0 177.0h1v1h-1zM174.0 176.0h1v1h-1zM174.0 175.0h1v1h-1zM174.0 174.0h1v1h-1zM174.0 173.0h1v1h-1zM174.0 172.0h1v1h-1zM174.0 171.0h1v1h-1zM174.0 170.0h1v1h-1zM174.0 169.0h1v1h-1zM174.0 168.0h1v1h-1zM174.0 167.0h1v1h-1zM174.0 166.0h1v1h-1zM174.0 165.0h1v1h-1zM175.0 177.0h1v1h-1zM175.0 176.0h1v1h-1zM175.0 175.0h1v1h-1zM175.0 174.0h1v1h-1zM175.0 173.0h1v1h-1zM175.0 172.0h1v1h-1zM175.0 171.0h1v1h-1zM175.0 170.0h1v1h-1zM175.0 169.0h1v1h-1zM175.0 168.0h1v1h-1zM175.0 167.0h1v1h-1zM175.0 166.0h1v1h-1zM175.0 165.0h1v1h-1zM176.0 177.0h1v1h-1zM176.0 176.0h1v1h-1zM176.0 175.0h1v1h-1zM176.0 174.0h1v1h-1zM176.0 173.0h1v1h-1zM176.0 172.0h1v1h-1zM176.0 171.0h1v1h-1zM176.0 170.0h1v1h-1zM176.0 169.0h1v1h-1zM176.0 168.0h1v1h-1zM176.0 167.0h1v1h-1zM176.0 166.0h1v1h-1zM176.0 165.0h1v1h-1zM177.0 177.0h1v1h-1zM177.0 176.0h1v1h-1zM177.0 175.0h1v1h-1zM177.0 174.0h1v1h-1zM177.0 173.0h1v1h-1zM177.0 172.0h1v1h-1zM177.0 171.0h1v1h-1zM177.0 170.0h1v1h-1zM177.0 169.0h1v1h-1zM177.0 168.0h1v1h-1zM177.0 167.0h1v1h-1zM177.0 166.0h1v1h-1zM177.0 165.0h1v1h-1zM178.0 177.0h1v1h-1zM178.0 176.0h1v1h-1zM178.0 175.0h1v1h-1zM178.0 174.0h1v1h-1zM178.0 173.0h1v1h-1zM178.0 172.0h1v1h-1zM178.0 171.0h1v1h-1zM178.0 170.0h1v1h-1zM178.0 169.0h1v1h-1zM178.0 168.0h1v1h-1zM178.0 167.0h1v1h-1zM178.0 166.0h1v1h-1zM178.0 165.0h1v1h-1zM179.0 177.0h1v1h-1zM179.0 176.0h1v1h-1zM179.0 175.0h1v1h-1zM179.0 174.0h1v1h-1zM179.0 173.0h1v1h-1zM179.0 172.0h1v1h-1zM179.0 171.0h1v1h-1zM179.0 170.0h1v1h-1zM179.0 169.0h1v1h-1zM179.0 168.0h1v1h-1zM179.0 167.0h1v1h-1zM179.0 166.0h1v1h-1zM179.0 165.0h1v1h-1zM179.0 164.0h1v1h-1zM180.0 177.0h1v1h-1zM180.0 176.0h1v1h-1zM180.0 175.0h1v1h-1zM180.0 174.0h1v1h-1zM180.0 173.0h1v1h-1zM180.0 172.0h1v1h-1zM180.0 171.0h1v1h-1zM180.0 170.0h1v1h-1zM180.0 169.0h1v1h-1zM180.0 168.0h1v1h-1zM180.0 167.0h1v1h-1zM180.0 166.0h1v1h-1zM180.0 165.0h1v1h-1zM180.0 164.0h1v1h-1zM181.0 177.0h1v1h-1zM181.0 176.0h1v1h-1zM181.0 175.0h1v1h-1zM181.0 174.0h1v1h-1zM181.0 173.0h1v1h-1zM181.0 172.0h1v1h-1zM181.0 171.0h1v1h-1zM181.0 170.0h1v1h-1zM181.0 169.0h1v1h-1zM181.0 168.0h1v1h-1zM181.0 167.0h1v1h-1zM181.0 166.0h1v1h-1zM181.0 165.0h1v1h-1zM182.0 177.0h1v1h-1zM182.0 176.0h1v1h-1zM182.0 175.0h1v1h-1zM182.0 174.0h1v1h-1zM182.0 173.0h1v1h-1zM182.0 172.0h1v1h-1zM182.0 171.0h1v1h-1zM182.0 170.0h1v1h-1zM182.0 169.0h1v1h-1zM182.0 168.0h1v1h-1zM182.0 167.0h1v1h-1zM182.0 166.0h1v1h-1zM182.0 165.0h1v1h-1zM183.0 177.0h1v1h-1zM183.0 176.0h1v1h-1zM183.0 175.0h1v1h-1zM183.0 174.0h1v1h-1zM183.0 173.0h1v1h-1zM183.0 172.0h1v1h-1zM183.0 171.0h1v1h-1zM183.0 170.0h1v1h-1zM183.0 169.0h1v1h-1zM183.0 168.0h1v1h-1zM183.0 167.0h1v1h-1zM183.0 166.0h1v1h-1zM183.0 165.0h1v1h-1zM184.0 177.0h1v1h-1zM184.0 176.0h1v1h-1zM184.0 175.0h1v1h-1zM184.0 174.0h1v1h-1zM184.0 173.0h1v1h-1zM184.0 172.0h1v1h-1zM184.0 171.0h1v1h-1zM184.0 170.0h1v1h-1zM184.0 169.0h1v1h-1zM184.0 168.0h1v1h-1zM184.0 167.0h1v1h-1zM184.0 166.0h1v1h-1zM184.0 165.0h1v1h-1zM185.0 177.0h1v1h-1zM185.0 176.0h1v1h-1zM185.0 175.0h1v1h-1zM185.0 174.0h1v1h-1zM185.0 173.0h1v1h-1zM185.0 172.0h1v1h-1zM185.0 171.0h1v1h-1zM185.0 170.0h1v1h-1zM185.0 169.0h1v1h-1zM185.0 168.0h1v1h-1zM185.0 167.0h1v1h-1zM185.0 166.0h1v1h-1zM185.0 165.0h1v1h-1zM186.0 177.0h1v1h-1zM186.0 176.0h1v1h-1zM186.0 175.0h1v1h-1zM186.0 174.0h1v1h-1zM186.0 173.0h1v1h-1zM186.0 172.0h1v1h-1zM186.0 171.0h1v1h-1zM186.0 170.0h1v1h-1zM186.0 169.0h1v1h-1zM186.0 168.0h1v1h-1zM186.0 167.0h1v1h-1zM186.0 166.0h1v1h-1zM187.0 177.0h1v1h-1zM187.0 176.0h1v1h-1zM187.0 175.0h1v1h-1zM187.0 174.0h1v1h-1zM187.0 173.0h1v1h-1zM187.0 172.0h1v1h-1zM187.0 171.0h1v1h-1zM187.0 170.0h1v1h-1zM187.0 169.0h1v1h-1zM187.0 168.0h1v1h-1zM187.0 167.0h1v1h-1zM187.0 166.0h1v1h-1zM188.0 177.0h1v1h-1zM188.0 176.0h1v1h-1zM188.0 175.0h1v1h-1zM188.0 174.0h1v1h-1zM188.0 173.0h1v1h-1zM188.0 172.0h1v1h-1zM188.0 171.0h1v1h-1zM188.0 170.0h1v1h-1zM188.0 169.0h1v1h-1zM188.0 168.0h1v1h-1zM188.0 167.0h1v1h-1zM189.0 177.0h1v1h-1zM189.0 176.0h1v1h-1zM189.0 175.0h1v1h-1zM189.0 174.0h1v1h-1zM189.0 173.0h1v1h-1zM189.0 172.0h1v1h-1zM189.0 171.0h1v1h-1zM189.0 170.0h1v1h-1zM189.0 169.0h1v1h-1zM189.0 168.0h1v1h-1zM189.0 167.0h1v1h-1zM190.0 177.0h1v1h-1zM190.0 176.0h1v1h-1zM190.0 175.0h1v1h-1zM190.0 174.0h1v1h-1zM190.0 173.0h1v1h-1zM190.0 172.0h1v1h-1zM190.0 171.0h1v1h-1zM190.0 170.0h1v1h-1zM190.0 169.0h1v1h-1zM190.0 168.0h1v1h-1zM191.0 177.0h1v1h-1zM191.0 176.0h1v1h-1zM191.0 175.0h1v1h-1zM191.0 174.0h1v1h-1zM191.0 173.0h1v1h-1zM191.0 172.0h1v1h-1zM191.0 171.0h1v1h-1zM191.0 170.0h1v1h-1zM191.0 169.0h1v1h-1zM192.0 177.0h1v1h-1zM192.0 176.0h1v1h-1zM192.0 175.0h1v1h-1zM192.0 174.0h1v1h-1zM192.0 173.0h1v1h-1zM192.0 172.0h1v1h-1zM192.0 171.0h1v1h-1zM192.0 170.0h1v1h-1zM193.0 177.0h1v1h-1zM193.0 176.0h1v1h-1zM193.0 175.0h1v1h-1zM193.0 174.0h1v1h-1zM193.0 173.0h1v1h-1zM193.0 172.0h1v1h-1zM193.0 171.0h1v1h-1zM194.0 177.0h1v1h-1zM194.0 176.0h1v1h-1zM194.0 175.0h1v1h-1zM194.0 174.0h1v1h-1zM194.0 173.0h1v1h-1zM194.0 172.0h1v1h-1zM195.0 177.0h1v1h-1zM195.0 176.0h1v1h-1zM195.0 175.0h1v1h-1zM195.0 174.0h1v1h-1zM195.0 173.0h1v1h-1zM196.0 177.0h1v1h-1zM196.0 176.0h1v1h-1zM196.0 175.0h1v1h-1zM212.0 177.0h1v1h-1zM212.0 176.0h1v1h-1zM212.0 175.0h1v1h-1zM212.0 174.0h1v1h-1zM212.0 173.0h1v1h-1zM213.0 177.0h1v1h-1zM213.0 176.0h1v1h-1zM213.0 175.0h1v1h-1zM213.0 174.0h1v1h-1zM213.0 173.0h1v1h-1zM213.0 172.0h1v1h-1zM213.0 171.0h1v1h-1zM213.0 170.0h1v1h-1zM214.0 177.0h1v1h-1zM214.0 176.0h1v1h-1zM214.0 175.0h1v1h-1zM214.0 174.0h1v1h-1zM214.0 173.0h1v1h-1zM214.0 172.0h1v1h-1zM214.0 171.0h1v1h-1zM214.0 170.0h1v1h-1zM214.0 169.0h1v1h-1zM215.0 177.0h1v1h-1zM215.0 176.0h1v1h-1zM215.0 175.0h1v1h-1zM215.0 174.0h1v1h-1zM215.0 173.0h1v1h-1zM215.0 172.0h1v1h-1zM215.0 171.0h1v1h-1zM215.0 170.0h1v1h-1zM215.0 169.0h1v1h-1zM215.0 168.0h1v1h-1zM216.0 177.0h1v1h-1zM216.0 176.0h1v1h-1zM216.0 175.0h1v1h-1zM216.0 174.0h1v1h-1zM216.0 173.0h1v1h-1zM216.0 172.0h1v1h-1zM216.0 171.0h1v1h-1zM216.0 170.0h1v1h-1zM216.0 169.0h1v1h-1zM216.0 168.0h1v1h-1zM216.0 167.0h1v1h-1zM217.0 177.0h1v1h-1zM217.0 176.0h1v1h-1zM217.0 175.0h1v1h-1zM217.0 174.0h1v1h-1zM217.0 173.0h1v1h-1zM217.0 172.0h1v1h-1zM217.0 171.0h1v1h-1zM217.0 170.0h1v1h-1zM217.0 169.0h1v1h-1zM217.0 168.0h1v1h-1zM217.0 167.0h1v1h-1zM218.0 177.0h1v1h-1zM218.0 176.0h1v1h-1zM218.0 175.0h1v1h-1zM218.0 174.0h1v1h-1zM218.0 173.0h1v1h-1zM218.0 172.0h1v1h-1zM218.0 171.0h1v1h-1zM218.0 170.0h1v1h-1zM218.0 169.0h1v1h-1zM218.0 168.0h1v1h-1zM218.0 167.0h1v1h-1zM219.0 177.0h1v1h-1zM219.0 176.0h1v1h-1zM219.0 175.0h1v1h-1zM219.0 174.0h1v1h-1zM219.0 173.0h1v1h-1zM219.0 172.0h1v1h-1zM219.0 171.0h1v1h-1zM219.0 170.0h1v1h-1zM219.0 169.0h1v1h-1zM219.0 168.0h1v1h-1zM219.0 167.0h1v1h-1zM220.0 177.0h1v1h-1zM220.0 176.0h1v1h-1zM220.0 175.0h1v1h-1zM220.0 174.0h1v1h-1zM220.0 173.0h1v1h-1zM220.0 172.0h1v1h-1zM220.0 171.0h1v1h-1zM220.0 170.0h1v1h-1zM220.0 169.0h1v1h-1zM220.0 168.0h1v1h-1zM221.0 177.0h1v1h-1zM221.0 176.0h1v1h-1zM221.0 175.0h1v1h-1zM221.0 174.0h1v1h-1zM221.0 173.0h1v1h-1zM221.0 172.0h1v1h-1zM221.0 171.0h1v1h-1zM221.0 170.0h1v1h-1zM221.0 169.0h1v1h-1zM222.0 177.0h1v1h-1zM222.0 176.0h1v1h-1zM222.0 175.0h1v1h-1zM222.0 174.0h1v1h-1zM222.0 173.0h1v1h-1zM222.0 172.0h1v1h-1zM222.0 171.0h1v1h-1zM223.0 177.0h1v1h-1zM223.0 176.0h1v1h-1z" fill="#000" filter="url(#bl)"/>
<path d="M166.8 169.2h.8v.8h-.8zM167.0 168.7h.8v.8h-.8zM166.7 168.4h.8v.8h-.8zM167.0 168.0h.8v.8h-.8zM166.9 164.5h.8v.8h-.8zM167.4 168.7h.8v.8h-.8zM167.4 168.2h.8v.8h-.8zM167.2 167.9h.8v.8h-.8zM167.5 167.3h.8v.8h-.8zM167.3 166.0h.8v.8h-.8zM167.5 165.4h.8v.8h-.8zM167.5 163.7h.8v.8h-.8zM167.4 163.2h.8v.8h-.8zM168.0 168.2h.8v.8h-.8zM167.8 167.7h.8v.8h-.8zM167.7 167.4h.8v.8h-.8zM167.8 166.9h.8v.8h-.8zM167.7 166.4h.8v.8h-.8zM167.9 163.7h.8v.8h-.8zM167.9 162.8h.8v.8h-.8zM168.5 167.8h.8v.8h-.8zM168.2 166.2h.8v.8h-.8zM168.4 164.7h.8v.8h-.8zM168.2 164.5h.8v.8h-.8zM168.9 167.3h.8v.8h-.8zM168.9 167.0h.8v.8h-.8zM168.8 165.0h.8v.8h-.8zM168.7 163.8h.8v.8h-.8zM168.7 163.4h.8v.8h-.8zM168.9 162.4h.8v.8h-.8zM169.3 167.0h.8v.8h-.8zM169.2 166.2h.8v.8h-.8zM169.2 165.7h.8v.8h-.8zM169.5 165.2h.8v.8h-.8zM169.2 165.0h.8v.8h-.8zM169.4 164.4h.8v.8h-.8zM170.0 166.5h.8v.8h-.8zM169.7 163.7h.8v.8h-.8zM170.0 163.2h.8v.8h-.8zM170.0 162.8h.8v.8h-.8zM170.2 166.4h.8v.8h-.8zM170.4 165.9h.8v.8h-.8zM170.4 165.2h.8v.8h-.8zM170.5 163.2h.8v.8h-.8zM170.5 162.8h.8v.8h-.8zM170.4 161.8h.8v.8h-.8zM170.8 164.3h.8v.8h-.8zM171.0 163.4h.8v.8h-.8zM170.8 162.8h.8v.8h-.8zM171.5 165.7h.8v.8h-.8zM171.4 165.2h.8v.8h-.8zM171.4 165.0h.8v.8h-.8zM171.3 164.3h.8v.8h-.8zM171.4 163.2h.8v.8h-.8zM171.3 162.8h.8v.8h-.8zM171.5 162.4h.8v.8h-.8zM171.7 165.2h.8v.8h-.8zM171.7 164.7h.8v.8h-.8zM171.7 164.4h.8v.8h-.8zM171.9 163.9h.8v.8h-.8zM171.9 163.5h.8v.8h-.8zM172.5 165.5h.8v.8h-.8zM172.5 164.7h.8v.8h-.8zM172.3 164.4h.8v.8h-.8zM172.2 163.9h.8v.8h-.8zM172.4 163.4h.8v.8h-.8zM172.3 162.5h.8v.8h-.8zM172.2 162.0h.8v.8h-.8zM172.2 161.4h.8v.8h-.8zM172.8 165.0h.8v.8h-.8zM173.0 164.5h.8v.8h-.8zM173.0 164.0h.8v.8h-.8zM172.7 163.4h.8v.8h-.8zM172.9 162.8h.8v.8h-.8zM172.8 161.2h.8v.8h-.8zM173.3 164.7h.8v.8h-.8zM173.2 164.5h.8v.8h-.8zM173.2 162.3h.8v.8h-.8zM173.3 161.4h.8v.8h-.8zM174.0 164.7h.8v.8h-.8zM174.0 163.9h.8v.8h-.8zM173.7 163.2h.8v.8h-.8zM173.7 162.7h.8v.8h-.8zM173.7 161.5h.8v.8h-.8zM174.5 164.5h.8v.8h-.8zM174.5 164.0h.8v.8h-.8zM174.4 163.5h.8v.8h-.8zM174.4 162.7h.8v.8h-.8zM174.5 162.5h.8v.8h-.8zM174.2 161.7h.8v.8h-.8zM174.5 160.9h.8v.8h-.8zM175.0 164.2h.8v.8h-.8zM174.7 163.7h.8v.8h-.8zM174.9 163.2h.8v.8h-.8zM174.9 163.0h.8v.8h-.8zM174.7 162.0h.8v.8h-.8zM175.3 164.4h.8v.8h-.8zM175.4 163.7h.8v.8h-.8zM175.2 161.2h.8v.8h-.8zM176.0 164.5h.8v.8h-.8zM176.0 164.0h.8v.8h-.8zM175.7 163.4h.8v.8h-.8zM175.7 161.9h.8v.8h-.8zM175.9 160.8h.8v.8h-.8zM176.3 164.0h.8v.8h-.8zM176.2 163.3h.8v.8h-.8zM176.8 163.8h.8v.8h-.8zM176.9 163.3h.8v.8h-.8zM176.8 162.9h.8v.8h-.8zM177.3 163.7h.8v.8h-.8zM177.2 163.4h.8v.8h-.8zM177.3 162.4h.8v.8h-.8zM177.4 160.5h.8v.8h-.8zM177.9 163.4h.8v.8h-.8zM177.7 163.0h.8v.8h-.8zM177.7 162.3h.8v.8h-.8zM177.7 162.0h.8v.8h-.8zM177.7 161.0h.8v.8h-.8zM178.3 163.8h.8v.8h-.8zM178.5 163.5h.8v.8h-.8zM178.2 162.9h.8v.8h-.8zM178.4 161.3h.8v.8h-.8zM178.2 160.5h.8v.8h-.8zM178.8 162.7h.8v.8h-.8zM179.0 162.3h.8v.8h-.8zM178.8 160.9h.8v.8h-.8zM179.4 164.0h.8v.8h-.8zM179.5 163.3h.8v.8h-.8zM179.3 162.5h.8v.8h-.8zM179.4 162.0h.8v.8h-.8zM179.9 163.2h.8v.8h-.8zM179.9 162.9h.8v.8h-.8zM180.0 162.3h.8v.8h-.8zM179.7 161.5h.8v.8h-.8zM180.0 160.4h.8v.8h-.8zM179.7 159.9h.8v.8h-.8zM180.5 164.0h.8v.8h-.8zM180.4 163.5h.8v.8h-.8zM180.5 162.8h.8v.8h-.8zM181.0 163.7h.8v.8h-.8zM180.7 163.4h.8v.8h-.8zM180.8 162.9h.8v.8h-.8zM180.7 162.2h.8v.8h-.8zM181.2 163.7h.8v.8h-.8zM181.4 163.3h.8v.8h-.8zM181.5 162.4h.8v.8h-.8zM181.5 161.2h.8v.8h-.8zM181.4 159.7h.8v.8h-.8zM182.0 164.0h.8v.8h-.8zM181.7 163.2h.8v.8h-.8zM181.7 161.9h.8v.8h-.8zM181.8 160.9h.8v.8h-.8zM182.4 164.0h.8v.8h-.8zM182.5 163.5h.8v.8h-.8zM182.4 162.7h.8v.8h-.8zM182.3 162.5h.8v.8h-.8zM183.0 164.2h.8v.8h-.8zM182.7 163.7h.8v.8h-.8zM182.9 163.3h.8v.8h-.8zM182.8 162.8h.8v.8h-.8zM182.9 161.4h.8v.8h-.8zM183.3 164.2h.8v.8h-.8zM183.4 163.7h.8v.8h-.8zM183.3 162.7h.8v.8h-.8zM183.4 162.4h.8v.8h-.8zM183.8 164.3h.8v.8h-.8zM183.8 162.9h.8v.8h-.8zM183.8 161.7h.8v.8h-.8zM184.0 161.4h.8v.8h-.8zM183.8 160.5h.8v.8h-.8zM184.5 163.8h.8v.8h-.8zM184.4 163.3h.8v.8h-.8zM184.3 162.9h.8v.8h-.8zM184.3 161.3h.8v.8h-.8zM184.3 160.8h.8v.8h-.8zM184.7 164.5h.8v.8h-.8zM184.8 163.8h.8v.8h-.8zM185.0 162.0h.8v.8h-.8zM185.2 165.0h.8v.8h-.8zM185.2 164.2h.8v.8h-.8zM185.3 163.3h.8v.8h-.8zM185.3 163.0h.8v.8h-.8zM185.3 161.5h.8v.8h-.8zM186.0 164.7h.8v.8h-.8zM186.0 164.2h.8v.8h-.8zM185.8 163.2h.8v.8h-.8zM185.8 162.9h.8v.8h-.8zM185.7 161.8h.8v.8h-.8zM185.9 161.2h.8v.8h-.8zM186.2 165.2h.8v.8h-.8zM186.5 164.7h.8v.8h-.8zM186.2 164.3h.8v.8h-.8zM186.4 163.9h.8v.8h-.8zM186.2 163.3h.8v.8h-.8zM186.2 162.2h.8v.8h-.8zM186.4 162.0h.8v.8h-.8zM186.2 161.2h.8v.8h-.8zM187.0 165.5h.8v.8h-.8zM187.0 164.8h.8v.8h-.8zM186.9 164.2h.8v.8h-.8zM186.7 164.0h.8v.8h-.8zM186.9 163.4h.8v.8h-.8zM186.9 161.3h.8v.8h-.8zM187.5 166.0h.8v.8h-.8zM187.2 164.2h.8v.8h-.8zM187.4 162.4h.8v.8h-.8zM187.7 165.9h.8v.8h-.8zM187.7 165.5h.8v.8h-.8zM187.9 164.8h.8v.8h-.8zM188.4 166.4h.8v.8h-.8zM188.2 165.8h.8v.8h-.8zM188.3 164.9h.8v.8h-.8zM188.5 163.4h.8v.8h-.8zM188.2 162.7h.8v.8h-.8zM188.7 166.3h.8v.8h-.8zM188.8 165.7h.8v.8h-.8zM188.7 164.9h.8v.8h-.8zM189.0 163.2h.8v.8h-.8zM189.3 165.7h.8v.8h-.8zM189.2 165.3h.8v.8h-.8zM189.5 164.9h.8v.8h-.8zM189.2 164.5h.8v.8h-.8zM189.3 163.8h.8v.8h-.8zM189.4 162.5h.8v.8h-.8zM189.8 166.3h.8v.8h-.8zM189.8 165.7h.8v.8h-.8zM189.7 165.5h.8v.8h-.8zM189.8 164.2h.8v.8h-.8zM189.9 163.4h.8v.8h-.8zM189.7 162.2h.8v.8h-.8zM190.3 168.0h.8v.8h-.8zM190.2 167.5h.8v.8h-.8zM190.3 166.7h.8v.8h-.8zM190.5 166.5h.8v.8h-.8zM190.2 165.7h.8v.8h-.8zM190.5 164.8h.8v.8h-.8zM190.4 163.8h.8v.8h-.8zM191.0 168.0h.8v.8h-.8zM191.0 166.7h.8v.8h-.8zM190.8 164.8h.8v.8h-.8zM190.8 163.8h.8v.8h-.8zM191.3 168.2h.8v.8h-.8zM191.4 167.8h.8v.8h-.8zM191.5 166.4h.8v.8h-.8zM191.2 165.8h.8v.8h-.8zM191.3 163.7h.8v.8h-.8zM191.7 168.7h.8v.8h-.8zM191.7 168.4h.8v.8h-.8zM191.9 167.9h.8v.8h-.8zM192.0 167.5h.8v.8h-.8zM192.0 166.7h.8v.8h-.8zM191.8 166.4h.8v.8h-.8zM191.9 165.9h.8v.8h-.8zM192.5 169.3h.8v.8h-.8zM192.2 168.8h.8v.8h-.8zM192.4 168.2h.8v.8h-.8zM192.5 167.7h.8v.8h-.8zM192.5 166.3h.8v.8h-.8zM192.4 164.5h.8v.8h-.8zM192.2 164.0h.8v.8h-.8zM192.7 170.0h.8v.8h-.8zM192.7 169.3h.8v.8h-.8zM192.7 169.0h.8v.8h-.8zM192.7 166.2h.8v.8h-.8zM192.8 165.7h.8v.8h-.8zM192.8 165.3h.8v.8h-.8zM193.2 170.2h.8v.8h-.8zM193.5 169.4h.8v.8h-.8zM193.4 168.7h.8v.8h-.8zM193.4 167.4h.8v.8h-.8zM193.2 166.3h.8v.8h-.8zM193.4 165.2h.8v.8h-.8zM193.2 164.8h.8v.8h-.8zM193.4 164.5h.8v.8h-.8zM193.8 170.8h.8v.8h-.8zM193.8 170.2h.8v.8h-.8zM193.9 169.7h.8v.8h-.8zM193.9 168.4h.8v.8h-.8zM193.9 167.8h.8v.8h-.8zM193.8 167.0h.8v.8h-.8zM193.7 166.0h.8v.8h-.8zM193.8 165.4h.8v.8h-.8zM194.3 170.8h.8v.8h-.8zM194.2 170.4h.8v.8h-.8zM194.2 169.7h.8v.8h-.8zM194.5 169.2h.8v.8h-.8zM194.3 168.7h.8v.8h-.8zM194.2 168.5h.8v.8h-.8zM194.5 166.7h.8v.8h-.8zM194.2 166.0h.8v.8h-.8zM194.5 165.2h.8v.8h-.8zM194.7 172.4h.8v.8h-.8zM194.9 171.8h.8v.8h-.8zM194.7 170.7h.8v.8h-.8zM194.9 170.4h.8v.8h-.8zM195.0 169.4h.8v.8h-.8zM195.0 168.0h.8v.8h-.8zM195.4 172.9h.8v.8h-.8zM195.5 172.3h.8v.8h-.8zM195.5 171.4h.8v.8h-.8zM195.5 170.3h.8v.8h-.8zM195.5 169.9h.8v.8h-.8zM195.3 169.0h.8v.8h-.8zM195.2 168.5h.8v.8h-.8zM195.2 168.0h.8v.8h-.8zM195.9 173.7h.8v.8h-.8zM195.9 173.2h.8v.8h-.8zM195.8 173.0h.8v.8h-.8zM195.7 171.0h.8v.8h-.8zM195.9 169.8h.8v.8h-.8zM195.9 169.2h.8v.8h-.8zM195.9 168.3h.8v.8h-.8zM196.5 177.3h.8v.8h-.8zM196.2 174.8h.8v.8h-.8zM196.2 173.7h.8v.8h-.8zM196.2 173.5h.8v.8h-.8zM196.3 172.9h.8v.8h-.8zM196.3 172.4h.8v.8h-.8zM196.4 171.2h.8v.8h-.8zM196.3 169.4h.8v.8h-.8zM196.5 167.4h.8v.8h-.8zM196.3 166.9h.8v.8h-.8zM196.9 177.2h.8v.8h-.8zM196.8 176.9h.8v.8h-.8zM196.7 176.4h.8v.8h-.8zM196.9 175.8h.8v.8h-.8zM196.8 175.5h.8v.8h-.8zM196.9 174.8h.8v.8h-.8zM196.9 174.3h.8v.8h-.8zM196.9 173.9h.8v.8h-.8zM197.0 172.9h.8v.8h-.8zM196.9 172.3h.8v.8h-.8zM197.0 171.0h.8v.8h-.8zM196.8 169.5h.8v.8h-.8zM196.7 169.0h.8v.8h-.8zM197.5 177.0h.8v.8h-.8zM197.3 176.4h.8v.8h-.8zM197.2 175.9h.8v.8h-.8zM197.2 174.2h.8v.8h-.8zM197.5 173.8h.8v.8h-.8zM197.4 173.3h.8v.8h-.8zM197.4 171.4h.8v.8h-.8zM197.4 167.8h.8v.8h-.8zM197.5 167.3h.8v.8h-.8zM197.7 177.2h.8v.8h-.8zM197.8 177.0h.8v.8h-.8zM197.9 176.4h.8v.8h-.8zM198.0 176.0h.8v.8h-.8zM197.9 174.9h.8v.8h-.8zM197.9 173.7h.8v.8h-.8zM197.7 173.3h.8v.8h-.8zM197.9 172.7h.8v.8h-.8zM198.0 172.5h.8v.8h-.8zM197.9 171.4h.8v.8h-.8zM197.9 170.3h.8v.8h-.8zM197.9 169.8h.8v.8h-.8zM197.8 168.7h.8v.8h-.8zM197.9 166.9h.8v.8h-.8zM198.2 177.5h.8v.8h-.8zM198.3 176.7h.8v.8h-.8zM198.3 176.5h.8v.8h-.8zM198.4 175.0h.8v.8h-.8zM198.3 174.3h.8v.8h-.8zM198.2 173.3h.8v.8h-.8zM198.4 172.3h.8v.8h-.8zM198.4 171.5h.8v.8h-.8zM198.2 170.5h.8v.8h-.8zM198.2 168.0h.8v.8h-.8zM198.4 166.9h.8v.8h-.8zM198.9 177.2h.8v.8h-.8zM198.9 176.8h.8v.8h-.8zM199.0 175.7h.8v.8h-.8zM198.9 175.5h.8v.8h-.8zM198.7 174.5h.8v.8h-.8zM198.8 173.9h.8v.8h-.8zM198.9 173.4h.8v.8h-.8zM199.0 173.0h.8v.8h-.8zM198.7 171.2h.8v.8h-.8zM198.7 167.3h.8v.8h-.8zM199.4 177.2h.8v.8h-.8zM199.5 175.4h.8v.8h-.8zM199.2 175.0h.8v.8h-.8zM199.5 173.2h.8v.8h-.8zM199.5 173.0h.8v.8h-.8zM199.4 172.2h.8v.8h-.8zM199.5 171.2h.8v.8h-.8zM199.5 171.0h.8v.8h-.8zM199.4 169.2h.8v.8h-.8zM199.3 168.8h.8v.8h-.8zM199.5 168.3h.8v.8h-.8zM199.3 167.7h.8v.8h-.8zM199.9 176.5h.8v.8h-.8zM200.0 175.3h.8v.8h-.8zM199.9 174.2h.8v.8h-.8zM199.8 173.9h.8v.8h-.8zM199.9 172.5h.8v.8h-.8zM199.8 171.8h.8v.8h-.8zM200.0 171.4h.8v.8h-.8zM199.9 169.7h.8v.8h-.8zM199.7 168.3h.8v.8h-.8zM200.0 168.0h.8v.8h-.8zM199.9 167.2h.8v.8h-.8zM200.5 177.5h.8v.8h-.8zM200.5 176.9h.8v.8h-.8zM200.5 176.3h.8v.8h-.8zM200.2 175.7h.8v.8h-.8zM200.5 175.5h.8v.8h-.8zM200.2 174.7h.8v.8h-.8zM200.4 174.5h.8v.8h-.8zM200.5 173.7h.8v.8h-.8zM200.2 173.2h.8v.8h-.8zM200.5 172.7h.8v.8h-.8zM200.5 171.3h.8v.8h-.8zM200.5 170.8h.8v.8h-.8zM200.4 167.3h.8v.8h-.8zM200.7 177.2h.8v.8h-.8zM200.7 175.9h.8v.8h-.8zM201.0 173.4h.8v.8h-.8zM200.8 172.3h.8v.8h-.8zM200.9 171.9h.8v.8h-.8zM200.9 169.9h.8v.8h-.8zM200.8 167.5h.8v.8h-.8zM201.4 177.4h.8v.8h-.8zM201.4 176.3h.8v.8h-.8zM201.4 175.2h.8v.8h-.8zM201.4 175.0h.8v.8h-.8zM201.3 174.2h.8v.8h-.8zM201.3 173.8h.8v.8h-.8zM201.5 172.3h.8v.8h-.8zM201.2 170.4h.8v.8h-.8zM201.5 170.0h.8v.8h-.8zM202.0 176.8h.8v.8h-.8zM202.0 175.7h.8v.8h-.8zM202.0 174.7h.8v.8h-.8zM202.0 174.4h.8v.8h-.8zM201.9 172.8h.8v.8h-.8zM201.7 171.8h.8v.8h-.8zM201.7 171.2h.8v.8h-.8zM201.7 170.3h.8v.8h-.8zM201.7 168.4h.8v.8h-.8zM202.0 167.7h.8v.8h-.8zM202.2 177.3h.8v.8h-.8zM202.2 176.4h.8v.8h-.8zM202.3 175.9h.8v.8h-.8zM202.2 174.4h.8v.8h-.8zM202.4 173.7h.8v.8h-.8zM202.4 173.2h.8v.8h-.8zM202.5 172.7h.8v.8h-.8zM202.2 171.4h.8v.8h-.8zM202.2 170.5h.8v.8h-.8zM202.4 169.7h.8v.8h-.8zM202.2 168.9h.8v.8h-.8zM202.2 168.3h.8v.8h-.8zM202.5 167.9h.8v.8h-.8zM202.5 166.5h.8v.8h-.8zM202.9 177.2h.8v.8h-.8zM202.9 176.9h.8v.8h-.8zM202.8 176.5h.8v.8h-.8zM203.0 175.5h.8v.8h-.8zM202.9 174.2h.8v.8h-.8zM202.7 173.9h.8v.8h-.8zM203.0 173.2h.8v.8h-.8zM202.7 171.2h.8v.8h-.8zM202.9 170.5h.8v.8h-.8zM202.8 170.0h.8v.8h-.8zM202.7 169.4h.8v.8h-.8zM202.9 166.9h.8v.8h-.8zM202.8 165.8h.8v.8h-.8zM203.4 176.8h.8v.8h-.8zM203.3 175.5h.8v.8h-.8zM203.4 174.4h.8v.8h-.8zM203.5 172.7h.8v.8h-.8zM203.3 170.8h.8v.8h-.8zM203.5 168.2h.8v.8h-.8zM203.7 176.0h.8v.8h-.8zM204.0 173.8h.8v.8h-.8zM203.8 173.5h.8v.8h-.8zM204.0 171.5h.8v.8h-.8zM203.9 170.0h.8v.8h-.8zM203.9 168.3h.8v.8h-.8zM203.7 166.2h.8v.8h-.8zM204.2 177.5h.8v.8h-.8zM204.3 176.8h.8v.8h-.8zM204.4 176.4h.8v.8h-.8zM204.3 174.8h.8v.8h-.8zM204.3 174.5h.8v.8h-.8zM204.5 173.4h.8v.8h-.8zM204.3 172.9h.8v.8h-.8zM204.3 171.2h.8v.8h-.8zM204.2 170.9h.8v.8h-.8zM204.4 167.2h.8v.8h-.8zM204.3 161.0h.8v.8h-.8zM204.3 159.4h.8v.8h-.8zM204.3 156.0h.8v.8h-.8zM204.4 155.3h.8v.8h-.8zM204.4 155.0h.8v.8h-.8zM204.8 177.0h.8v.8h-.8zM204.8 176.5h.8v.8h-.8zM204.7 175.8h.8v.8h-.8zM204.7 174.3h.8v.8h-.8zM205.0 173.0h.8v.8h-.8zM204.9 171.7h.8v.8h-.8zM204.7 166.2h.8v.8h-.8zM205.0 165.0h.8v.8h-.8zM205.0 161.3h.8v.8h-.8zM204.9 161.0h.8v.8h-.8zM204.9 160.5h.8v.8h-.8zM204.8 159.2h.8v.8h-.8zM204.8 154.2h.8v.8h-.8zM205.5 175.9h.8v.8h-.8zM205.3 175.4h.8v.8h-.8zM205.2 172.7h.8v.8h-.8zM205.4 172.5h.8v.8h-.8zM205.3 171.9h.8v.8h-.8zM205.4 170.2h.8v.8h-.8zM205.2 169.8h.8v.8h-.8zM205.3 169.5h.8v.8h-.8zM205.2 166.5h.8v.8h-.8zM205.4 163.8h.8v.8h-.8zM205.2 162.8h.8v.8h-.8zM205.4 159.8h.8v.8h-.8zM205.2 155.4h.8v.8h-.8zM205.5 154.7h.8v.8h-.8zM205.3 154.5h.8v.8h-.8zM205.5 151.5h.8v.8h-.8zM205.8 177.5h.8v.8h-.8zM205.8 176.9h.8v.8h-.8zM205.9 176.3h.8v.8h-.8zM205.8 175.9h.8v.8h-.8zM205.9 174.9h.8v.8h-.8zM206.0 174.4h.8v.8h-.8zM205.7 172.2h.8v.8h-.8zM205.9 170.8h.8v.8h-.8zM206.0 169.5h.8v.8h-.8zM206.0 168.5h.8v.8h-.8zM205.7 167.8h.8v.8h-.8zM205.7 165.7h.8v.8h-.8zM206.0 165.4h.8v.8h-.8zM206.0 163.9h.8v.8h-.8zM206.0 162.4h.8v.8h-.8zM205.9 160.7h.8v.8h-.8zM205.7 160.4h.8v.8h-.8zM206.0 159.8h.8v.8h-.8zM205.8 156.9h.8v.8h-.8zM206.0 155.4h.8v.8h-.8zM205.7 154.4h.8v.8h-.8zM205.9 153.2h.8v.8h-.8zM205.7 152.9h.8v.8h-.8zM206.0 152.5h.8v.8h-.8zM205.7 150.9h.8v.8h-.8zM206.0 149.9h.8v.8h-.8zM206.0 149.2h.8v.8h-.8zM205.7 148.7h.8v.8h-.8zM206.5 177.4h.8v.8h-.8zM206.5 176.3h.8v.8h-.8zM206.3 175.7h.8v.8h-.8zM206.3 174.5h.8v.8h-.8zM206.3 173.4h.8v.8h-.8zM206.3 172.9h.8v.8h-.8zM206.4 172.2h.8v.8h-.8zM206.4 172.0h.8v.8h-.8zM206.2 170.3h.8v.8h-.8zM206.4 168.9h.8v.8h-.8zM206.3 167.2h.8v.8h-.8zM206.3 165.7h.8v.8h-.8zM206.5 165.2h.8v.8h-.8zM206.3 164.5h.8v.8h-.8zM206.3 162.2h.8v.8h-.8zM206.5 158.3h.8v.8h-.8zM206.5 154.9h.8v.8h-.8zM206.2 151.7h.8v.8h-.8zM206.5 149.5h.8v.8h-.8zM206.3 148.0h.8v.8h-.8zM206.7 177.4h.8v.8h-.8zM207.0 175.0h.8v.8h-.8zM206.7 173.8h.8v.8h-.8zM206.7 173.5h.8v.8h-.8zM206.8 172.9h.8v.8h-.8zM206.8 172.3h.8v.8h-.8zM206.8 169.9h.8v.8h-.8zM206.7 167.7h.8v.8h-.8zM206.7 167.5h.8v.8h-.8zM206.9 166.0h.8v.8h-.8zM207.0 164.9h.8v.8h-.8zM206.9 162.8h.8v.8h-.8zM207.0 161.7h.8v.8h-.8zM206.8 161.3h.8v.8h-.8zM206.8 159.7h.8v.8h-.8zM206.8 157.2h.8v.8h-.8zM206.8 156.0h.8v.8h-.8zM206.7 154.4h.8v.8h-.8zM207.0 153.9h.8v.8h-.8zM206.8 152.7h.8v.8h-.8zM206.7 151.0h.8v.8h-.8zM207.4 177.4h.8v.8h-.8zM207.5 175.5h.8v.8h-.8zM207.5 174.0h.8v.8h-.8zM207.5 173.2h.8v.8h-.8zM207.5 172.9h.8v.8h-.8zM207.4 172.2h.8v.8h-.8zM207.4 171.3h.8v.8h-.8zM207.2 170.7h.8v.8h-.8zM207.4 169.9h.8v.8h-.8zM207.2 168.9h.8v.8h-.8zM207.4 166.2h.8v.8h-.8zM207.3 158.8h.8v.8h-.8zM207.4 156.3h.8v.8h-.8zM207.4 154.2h.8v.8h-.8zM207.3 152.3h.8v.8h-.8zM207.4 151.4h.8v.8h-.8zM207.5 150.3h.8v.8h-.8zM207.3 149.2h.8v.8h-.8zM207.9 177.0h.8v.8h-.8zM208.0 176.2h.8v.8h-.8zM208.0 174.3h.8v.8h-.8zM207.8 173.5h.8v.8h-.8zM207.7 172.9h.8v.8h-.8zM208.0 171.7h.8v.8h-.8zM207.8 170.4h.8v.8h-.8zM207.7 169.3h.8v.8h-.8zM208.0 169.0h.8v.8h-.8zM207.7 168.5h.8v.8h-.8zM208.0 163.9h.8v.8h-.8zM207.9 162.7h.8v.8h-.8zM207.9 162.5h.8v.8h-.8zM207.7 159.4h.8v.8h-.8zM208.0 157.8h.8v.8h-.8zM207.8 156.7h.8v.8h-.8zM207.9 155.8h.8v.8h-.8zM208.0 155.0h.8v.8h-.8zM207.8 152.9h.8v.8h-.8zM207.8 151.9h.8v.8h-.8zM208.5 177.3h.8v.8h-.8zM208.4 174.8h.8v.8h-.8zM208.5 173.3h.8v.8h-.8zM208.5 171.3h.8v.8h-.8zM208.5 170.7h.8v.8h-.8zM208.2 166.7h.8v.8h-.8zM208.3 165.5h.8v.8h-.8zM208.2 164.9h.8v.8h-.8zM208.5 160.5h.8v.8h-.8zM208.4 159.8h.8v.8h-.8zM208.2 158.5h.8v.8h-.8zM208.3 157.9h.8v.8h-.8zM208.4 155.7h.8v.8h-.8zM208.3 155.3h.8v.8h-.8zM208.3 153.3h.8v.8h-.8zM208.3 153.0h.8v.8h-.8zM208.2 151.0h.8v.8h-.8zM208.2 150.5h.8v.8h-.8zM208.4 150.0h.8v.8h-.8zM208.3 148.2h.8v.8h-.8zM209.0 176.5h.8v.8h-.8zM208.7 172.5h.8v.8h-.8zM208.9 171.3h.8v.8h-.8zM208.8 170.7h.8v.8h-.8zM208.8 169.4h.8v.8h-.8zM208.8 167.9h.8v.8h-.8zM208.8 166.2h.8v.8h-.8zM209.0 165.2h.8v.8h-.8zM208.7 163.9h.8v.8h-.8zM209.0 163.0h.8v.8h-.8zM209.0 161.9h.8v.8h-.8zM208.7 161.5h.8v.8h-.8zM208.9 160.7h.8v.8h-.8zM208.8 160.0h.8v.8h-.8zM208.8 158.0h.8v.8h-.8zM208.9 157.0h.8v.8h-.8zM208.9 154.7h.8v.8h-.8zM208.8 152.7h.8v.8h-.8zM208.8 151.4h.8v.8h-.8zM208.8 150.7h.8v.8h-.8zM209.4 176.9h.8v.8h-.8zM209.5 176.3h.8v.8h-.8zM209.5 175.8h.8v.8h-.8zM209.3 174.8h.8v.8h-.8zM209.3 172.4h.8v.8h-.8zM209.3 169.8h.8v.8h-.8zM209.3 169.0h.8v.8h-.8zM209.5 166.2h.8v.8h-.8zM209.5 164.9h.8v.8h-.8zM209.3 164.4h.8v.8h-.8zM209.3 163.8h.8v.8h-.8zM209.3 160.7h.8v.8h-.8zM209.3 157.2h.8v.8h-.8zM209.4 156.8h.8v.8h-.8zM209.5 156.5h.8v.8h-.8zM209.2 154.5h.8v.8h-.8zM209.5 151.2h.8v.8h-.8zM209.3 150.8h.8v.8h-.8zM209.3 149.5h.8v.8h-.8zM210.0 175.9h.8v.8h-.8zM209.9 175.4h.8v.8h-.8zM210.0 174.5h.8v.8h-.8zM209.9 172.7h.8v.8h-.8zM209.9 172.5h.8v.8h-.8zM209.9 171.8h.8v.8h-.8zM209.7 170.2h.8v.8h-.8zM209.9 169.2h.8v.8h-.8zM209.8 168.0h.8v.8h-.8zM210.0 160.7h.8v.8h-.8zM209.8 160.0h.8v.8h-.8zM210.0 158.7h.8v.8h-.8zM209.9 158.5h.8v.8h-.8zM209.8 156.5h.8v.8h-.8zM210.0 154.7h.8v.8h-.8zM209.9 154.2h.8v.8h-.8zM209.7 153.8h.8v.8h-.8zM209.8 152.2h.8v.8h-.8zM209.7 151.4h.8v.8h-.8zM210.5 177.0h.8v.8h-.8zM210.3 176.4h.8v.8h-.8zM210.4 175.0h.8v.8h-.8zM210.4 174.2h.8v.8h-.8zM210.4 173.4h.8v.8h-.8zM210.3 171.4h.8v.8h-.8zM210.4 169.4h.8v.8h-.8zM210.4 167.7h.8v.8h-.8zM210.4 165.4h.8v.8h-.8zM210.2 162.5h.8v.8h-.8zM210.5 161.5h.8v.8h-.8zM210.5 158.9h.8v.8h-.8zM210.2 158.0h.8v.8h-.8zM210.4 154.5h.8v.8h-.8zM210.5 151.9h.8v.8h-.8zM210.4 150.9h.8v.8h-.8zM210.7 176.9h.8v.8h-.8zM210.7 176.4h.8v.8h-.8zM210.7 175.4h.8v.8h-.8zM210.8 174.5h.8v.8h-.8zM210.7 173.3h.8v.8h-.8zM210.8 173.0h.8v.8h-.8zM210.9 171.2h.8v.8h-.8zM211.0 169.5h.8v.8h-.8zM210.7 167.3h.8v.8h-.8zM210.7 166.7h.8v.8h-.8zM211.0 164.7h.8v.8h-.8zM210.8 163.3h.8v.8h-.8zM210.8 161.7h.8v.8h-.8zM210.9 161.2h.8v.8h-.8zM210.8 160.2h.8v.8h-.8zM210.8 157.5h.8v.8h-.8zM210.9 155.7h.8v.8h-.8zM211.5 177.2h.8v.8h-.8zM211.2 176.3h.8v.8h-.8zM211.5 175.9h.8v.8h-.8zM211.3 175.2h.8v.8h-.8zM211.3 174.9h.8v.8h-.8zM211.3 174.4h.8v.8h-.8zM211.5 173.8h.8v.8h-.8zM211.5 173.5h.8v.8h-.8zM211.3 172.9h.8v.8h-.8zM211.3 172.5h.8v.8h-.8zM211.2 172.0h.8v.8h-.8zM211.2 168.5h.8v.8h-.8zM211.5 167.5h.8v.8h-.8zM211.2 165.8h.8v.8h-.8zM211.4 165.3h.8v.8h-.8zM211.3 163.3h.8v.8h-.8zM211.3 162.8h.8v.8h-.8zM211.3 161.2h.8v.8h-.8zM211.5 160.9h.8v.8h-.8zM211.5 159.5h.8v.8h-.8zM211.9 172.8h.8v.8h-.8zM211.7 172.3h.8v.8h-.8zM212.0 172.0h.8v.8h-.8zM211.7 171.3h.8v.8h-.8zM211.9 170.5h.8v.8h-.8zM211.9 169.3h.8v.8h-.8zM211.7 168.3h.8v.8h-.8zM211.9 167.2h.8v.8h-.8zM212.0 165.3h.8v.8h-.8zM212.0 164.0h.8v.8h-.8zM211.7 163.5h.8v.8h-.8zM211.7 162.3h.8v.8h-.8zM212.3 171.2h.8v.8h-.8zM212.5 170.4h.8v.8h-.8zM212.3 169.5h.8v.8h-.8zM212.3 168.4h.8v.8h-.8zM212.5 168.0h.8v.8h-.8zM212.4 165.8h.8v.8h-.8zM212.3 164.8h.8v.8h-.8zM213.0 170.2h.8v.8h-.8zM213.0 169.8h.8v.8h-.8zM213.0 169.4h.8v.8h-.8zM213.0 168.7h.8v.8h-.8zM213.0 167.5h.8v.8h-.8zM213.0 165.2h.8v.8h-.8zM212.7 164.8h.8v.8h-.8zM213.4 169.2h.8v.8h-.8zM213.5 168.9h.8v.8h-.8zM213.2 168.5h.8v.8h-.8zM213.4 167.3h.8v.8h-.8zM213.3 165.3h.8v.8h-.8zM213.2 162.8h.8v.8h-.8zM213.9 168.2h.8v.8h-.8zM213.8 167.4h.8v.8h-.8zM214.0 166.3h.8v.8h-.8zM213.9 166.0h.8v.8h-.8zM213.8 165.4h.8v.8h-.8zM213.9 164.4h.8v.8h-.8zM214.3 168.0h.8v.8h-.8zM214.3 167.2h.8v.8h-.8zM214.5 166.9h.8v.8h-.8zM214.2 164.8h.8v.8h-.8zM214.4 164.3h.8v.8h-.8zM215.0 167.5h.8v.8h-.8zM214.9 166.9h.8v.8h-.8zM215.0 165.9h.8v.8h-.8zM214.7 165.4h.8v.8h-.8zM214.7 164.9h.8v.8h-.8zM215.0 164.4h.8v.8h-.8zM214.9 164.0h.8v.8h-.8zM215.3 166.9h.8v.8h-.8zM215.4 166.5h.8v.8h-.8zM215.4 164.7h.8v.8h-.8zM215.4 164.4h.8v.8h-.8zM215.8 166.0h.8v.8h-.8zM215.9 165.4h.8v.8h-.8zM215.7 164.9h.8v.8h-.8zM215.8 164.0h.8v.8h-.8zM215.7 163.3h.8v.8h-.8zM216.0 162.7h.8v.8h-.8zM216.3 166.5h.8v.8h-.8zM216.4 165.8h.8v.8h-.8zM216.5 165.5h.8v.8h-.8zM216.4 164.7h.8v.8h-.8zM216.2 164.3h.8v.8h-.8zM216.3 163.9h.8v.8h-.8zM216.2 163.0h.8v.8h-.8zM216.7 166.5h.8v.8h-.8zM216.7 166.0h.8v.8h-.8zM216.9 165.5h.8v.8h-.8zM216.8 164.2h.8v.8h-.8zM216.9 163.9h.8v.8h-.8zM216.7 163.3h.8v.8h-.8zM217.2 166.4h.8v.8h-.8zM217.4 165.7h.8v.8h-.8zM217.4 164.4h.8v.8h-.8zM217.5 163.8h.8v.8h-.8zM217.4 162.7h.8v.8h-.8zM217.8 166.5h.8v.8h-.8zM217.7 165.9h.8v.8h-.8zM217.8 162.3h.8v.8h-.8zM218.4 166.5h.8v.8h-.8zM218.2 165.8h.8v.8h-.8zM218.4 165.0h.8v.8h-.8zM218.4 163.3h.8v.8h-.8zM218.4 162.7h.8v.8h-.8zM218.7 166.3h.8v.8h-.8zM218.9 166.0h.8v.8h-.8zM219.0 165.5h.8v.8h-.8zM219.3 166.8h.8v.8h-.8zM219.3 166.5h.8v.8h-.8zM219.3 165.9h.8v.8h-.8zM219.3 165.2h.8v.8h-.8zM219.2 164.0h.8v.8h-.8zM219.3 163.3h.8v.8h-.8zM219.9 167.2h.8v.8h-.8zM219.7 166.0h.8v.8h-.8zM219.9 164.7h.8v.8h-.8zM220.2 167.9h.8v.8h-.8zM220.4 167.3h.8v.8h-.8zM220.3 166.2h.8v.8h-.8zM220.3 165.9h.8v.8h-.8zM220.4 165.0h.8v.8h-.8zM220.3 164.2h.8v.8h-.8zM220.8 168.5h.8v.8h-.8zM220.8 167.9h.8v.8h-.8zM220.9 164.4h.8v.8h-.8zM221.4 167.3h.8v.8h-.8zM221.4 166.8h.8v.8h-.8zM221.7 169.4h.8v.8h-.8zM221.8 169.0h.8v.8h-.8zM221.7 168.2h.8v.8h-.8zM221.7 167.2h.8v.8h-.8zM222.5 170.8h.8v.8h-.8zM222.2 169.4h.8v.8h-.8zM222.3 168.2h.8v.8h-.8zM222.2 167.7h.8v.8h-.8zM222.4 166.8h.8v.8h-.8zM222.2 166.3h.8v.8h-.8zM223.0 173.3h.8v.8h-.8zM223.0 172.8h.8v.8h-.8zM223.0 171.8h.8v.8h-.8zM222.7 171.5h.8v.8h-.8zM223.0 169.8h.8v.8h-.8zM222.7 168.7h.8v.8h-.8zM223.0 167.8h.8v.8h-.8zM223.4 177.5h.8v.8h-.8zM223.3 176.2h.8v.8h-.8zM223.3 175.8h.8v.8h-.8zM223.5 174.7h.8v.8h-.8zM223.2 174.3h.8v.8h-.8zM223.5 173.7h.8v.8h-.8zM223.5 173.5h.8v.8h-.8zM223.2 172.9h.8v.8h-.8zM223.5 172.5h.8v.8h-.8zM223.4 170.7h.8v.8h-.8zM224.0 176.8h.8v.8h-.8zM223.8 175.2h.8v.8h-.8zM223.8 174.4h.8v.8h-.8zM223.9 173.2h.8v.8h-.8zM223.8 170.0h.8v.8h-.8zM224.5 176.7h.8v.8h-.8zM224.5 174.9h.8v.8h-.8zM224.2 173.7h.8v.8h-.8zM224.4 172.9h.8v.8h-.8zM224.9 175.3h.8v.8h-.8z" fill="#111" filter="url(#bl)"/>
<path d="M167.0 162.9h.8v.8h-.8zM167.4 162.8h.8v.8h-.8zM167.2 162.5h.8v.8h-.8zM169.2 161.7h.8v.8h-.8zM169.4 158.3h.8v.8h-.8zM170.4 161.0h.8v.8h-.8zM170.5 160.5h.8v.8h-.8zM171.0 159.5h.8v.8h-.8zM171.2 160.7h.8v.8h-.8zM171.4 160.2h.8v.8h-.8zM171.3 156.7h.8v.8h-.8zM172.0 160.8h.8v.8h-.8zM172.0 159.9h.8v.8h-.8zM171.7 158.4h.8v.8h-.8zM171.9 158.0h.8v.8h-.8zM172.4 158.0h.8v.8h-.8zM172.8 159.9h.8v.8h-.8zM172.7 153.3h.8v.8h-.8zM173.5 160.5h.8v.8h-.8zM173.7 160.2h.8v.8h-.8zM174.4 158.9h.8v.8h-.8zM174.8 158.0h.8v.8h-.8zM176.0 157.2h.8v.8h-.8zM175.9 156.3h.8v.8h-.8zM177.9 153.9h.8v.8h-.8zM178.5 159.0h.8v.8h-.8zM178.4 157.4h.8v.8h-.8zM178.8 158.2h.8v.8h-.8zM179.9 158.2h.8v.8h-.8zM179.9 156.3h.8v.8h-.8zM180.5 155.5h.8v.8h-.8zM180.7 157.8h.8v.8h-.8zM181.8 149.9h.8v.8h-.8zM182.8 159.9h.8v.8h-.8zM183.0 152.9h.8v.8h-.8zM183.5 159.7h.8v.8h-.8zM183.8 159.7h.8v.8h-.8zM183.9 158.5h.8v.8h-.8zM183.8 157.5h.8v.8h-.8zM183.7 153.2h.8v.8h-.8zM183.7 151.5h.8v.8h-.8zM183.9 150.4h.8v.8h-.8zM184.3 159.9h.8v.8h-.8zM185.2 160.3h.8v.8h-.8zM185.9 159.4h.8v.8h-.8zM186.0 157.9h.8v.8h-.8zM185.8 157.0h.8v.8h-.8zM186.0 156.0h.8v.8h-.8zM187.3 158.9h.8v.8h-.8zM187.7 158.5h.8v.8h-.8zM188.3 157.8h.8v.8h-.8zM189.0 160.7h.8v.8h-.8zM189.4 160.0h.8v.8h-.8zM189.4 158.5h.8v.8h-.8zM189.5 156.5h.8v.8h-.8zM189.9 161.4h.8v.8h-.8zM190.5 156.9h.8v.8h-.8zM190.5 154.7h.8v.8h-.8zM191.0 153.2h.8v.8h-.8zM192.0 154.8h.8v.8h-.8zM192.2 157.0h.8v.8h-.8zM192.9 162.0h.8v.8h-.8zM192.8 159.9h.8v.8h-.8zM193.4 164.0h.8v.8h-.8zM194.0 163.2h.8v.8h-.8zM193.9 162.4h.8v.8h-.8zM193.7 161.3h.8v.8h-.8zM194.3 163.9h.8v.8h-.8zM194.2 161.0h.8v.8h-.8zM194.3 158.4h.8v.8h-.8zM194.3 155.0h.8v.8h-.8zM194.8 161.0h.8v.8h-.8zM194.7 159.2h.8v.8h-.8zM195.2 164.3h.8v.8h-.8zM196.0 140.5h.8v.8h-.8zM196.4 165.5h.8v.8h-.8zM196.5 162.7h.8v.8h-.8zM196.5 151.2h.8v.8h-.8zM197.0 166.0h.8v.8h-.8zM196.9 161.4h.8v.8h-.8zM197.4 146.7h.8v.8h-.8zM197.7 160.4h.8v.8h-.8zM197.8 152.7h.8v.8h-.8zM197.9 146.3h.8v.8h-.8zM198.4 158.5h.8v.8h-.8zM198.5 156.3h.8v.8h-.8zM198.2 153.9h.8v.8h-.8zM198.4 146.3h.8v.8h-.8zM198.4 137.3h.8v.8h-.8zM198.9 164.2h.8v.8h-.8zM198.9 162.0h.8v.8h-.8zM198.8 160.8h.8v.8h-.8zM198.8 157.5h.8v.8h-.8zM198.9 156.2h.8v.8h-.8zM198.8 154.2h.8v.8h-.8zM198.9 135.7h.8v.8h-.8zM198.7 119.9h.8v.8h-.8zM199.2 162.7h.8v.8h-.8zM199.4 147.2h.8v.8h-.8zM199.9 166.3h.8v.8h-.8zM199.8 161.5h.8v.8h-.8zM199.9 160.5h.8v.8h-.8zM199.8 156.8h.8v.8h-.8zM199.8 149.5h.8v.8h-.8zM199.9 149.0h.8v.8h-.8zM200.3 160.5h.8v.8h-.8zM200.2 146.9h.8v.8h-.8zM201.0 166.8h.8v.8h-.8zM200.7 153.4h.8v.8h-.8zM201.0 141.8h.8v.8h-.8zM201.2 163.8h.8v.8h-.8zM201.4 162.2h.8v.8h-.8zM201.3 158.2h.8v.8h-.8zM201.3 157.2h.8v.8h-.8zM201.2 154.2h.8v.8h-.8zM201.5 154.0h.8v.8h-.8zM201.2 144.5h.8v.8h-.8zM201.4 138.7h.8v.8h-.8zM201.2 136.4h.8v.8h-.8zM201.7 160.8h.8v.8h-.8zM202.0 159.9h.8v.8h-.8zM201.9 158.0h.8v.8h-.8zM201.9 156.2h.8v.8h-.8zM201.8 155.3h.8v.8h-.8zM201.8 150.8h.8v.8h-.8zM201.9 149.7h.8v.8h-.8zM201.8 145.8h.8v.8h-.8zM201.7 144.7h.8v.8h-.8zM201.7 144.3h.8v.8h-.8zM201.7 139.8h.8v.8h-.8zM202.2 165.0h.8v.8h-.8zM202.3 163.4h.8v.8h-.8zM202.3 162.5h.8v.8h-.8zM202.5 159.8h.8v.8h-.8zM202.4 151.5h.8v.8h-.8zM202.5 149.3h.8v.8h-.8zM202.3 144.8h.8v.8h-.8zM202.9 159.9h.8v.8h-.8zM202.9 159.3h.8v.8h-.8zM203.0 157.8h.8v.8h-.8zM202.9 156.3h.8v.8h-.8zM202.9 152.9h.8v.8h-.8zM202.8 150.4h.8v.8h-.8zM203.0 149.3h.8v.8h-.8zM202.9 146.0h.8v.8h-.8zM203.0 143.5h.8v.8h-.8zM202.9 140.5h.8v.8h-.8zM203.3 164.2h.8v.8h-.8zM203.5 158.9h.8v.8h-.8zM203.4 154.9h.8v.8h-.8zM203.5 153.8h.8v.8h-.8zM203.4 150.5h.8v.8h-.8zM203.3 149.5h.8v.8h-.8zM203.3 147.8h.8v.8h-.8zM203.4 143.4h.8v.8h-.8zM203.4 142.5h.8v.8h-.8zM203.9 163.3h.8v.8h-.8zM203.8 159.3h.8v.8h-.8zM203.8 156.0h.8v.8h-.8zM203.9 152.5h.8v.8h-.8zM204.0 146.9h.8v.8h-.8zM203.7 144.3h.8v.8h-.8zM204.0 141.3h.8v.8h-.8zM203.7 140.0h.8v.8h-.8zM203.8 137.5h.8v.8h-.8zM204.4 150.2h.8v.8h-.8zM204.3 150.0h.8v.8h-.8zM204.3 143.9h.8v.8h-.8zM204.4 138.2h.8v.8h-.8zM204.8 148.9h.8v.8h-.8zM204.8 148.3h.8v.8h-.8zM204.8 146.8h.8v.8h-.8zM204.9 144.7h.8v.8h-.8zM205.0 143.8h.8v.8h-.8zM205.0 136.2h.8v.8h-.8zM204.7 129.5h.8v.8h-.8zM205.2 147.2h.8v.8h-.8zM205.5 146.8h.8v.8h-.8zM205.5 142.2h.8v.8h-.8zM205.3 136.5h.8v.8h-.8zM206.0 148.0h.8v.8h-.8zM205.9 144.7h.8v.8h-.8zM205.7 134.4h.8v.8h-.8zM206.5 142.5h.8v.8h-.8zM206.2 137.0h.8v.8h-.8zM206.4 131.3h.8v.8h-.8zM206.7 146.7h.8v.8h-.8zM206.8 144.2h.8v.8h-.8zM207.2 145.7h.8v.8h-.8zM207.2 144.8h.8v.8h-.8zM207.3 143.9h.8v.8h-.8zM207.4 143.0h.8v.8h-.8zM207.5 137.2h.8v.8h-.8zM207.9 142.9h.8v.8h-.8zM207.9 140.3h.8v.8h-.8zM208.0 138.4h.8v.8h-.8zM208.3 147.5h.8v.8h-.8zM208.2 146.5h.8v.8h-.8zM208.5 144.2h.8v.8h-.8zM208.2 143.4h.8v.8h-.8zM208.5 141.8h.8v.8h-.8zM208.5 137.0h.8v.8h-.8zM208.8 146.8h.8v.8h-.8zM208.7 144.9h.8v.8h-.8zM208.9 133.4h.8v.8h-.8zM208.8 132.9h.8v.8h-.8zM209.5 148.2h.8v.8h-.8zM209.2 147.0h.8v.8h-.8zM209.4 146.0h.8v.8h-.8zM209.4 144.2h.8v.8h-.8zM209.5 140.0h.8v.8h-.8zM209.7 147.8h.8v.8h-.8zM210.0 146.3h.8v.8h-.8zM210.0 145.9h.8v.8h-.8zM209.8 144.9h.8v.8h-.8zM209.9 138.2h.8v.8h-.8zM210.0 137.7h.8v.8h-.8zM209.7 129.8h.8v.8h-.8zM210.4 144.2h.8v.8h-.8zM210.3 141.0h.8v.8h-.8zM210.5 139.7h.8v.8h-.8zM210.3 138.0h.8v.8h-.8zM210.4 134.3h.8v.8h-.8zM210.7 152.8h.8v.8h-.8zM210.9 150.0h.8v.8h-.8zM211.2 156.7h.8v.8h-.8zM211.5 153.0h.8v.8h-.8zM211.2 151.9h.8v.8h-.8zM211.5 150.2h.8v.8h-.8zM211.3 149.3h.8v.8h-.8zM211.4 148.4h.8v.8h-.8zM211.4 146.2h.8v.8h-.8zM211.3 145.2h.8v.8h-.8zM211.5 142.9h.8v.8h-.8zM211.4 140.7h.8v.8h-.8zM211.2 140.4h.8v.8h-.8zM212.0 160.0h.8v.8h-.8zM211.8 156.9h.8v.8h-.8zM211.9 153.9h.8v.8h-.8zM212.0 152.8h.8v.8h-.8zM212.0 152.2h.8v.8h-.8zM211.9 149.8h.8v.8h-.8zM211.7 146.8h.8v.8h-.8zM212.0 139.2h.8v.8h-.8zM211.8 126.0h.8v.8h-.8zM212.3 159.8h.8v.8h-.8zM212.3 159.3h.8v.8h-.8zM212.3 150.3h.8v.8h-.8zM212.4 150.0h.8v.8h-.8zM212.2 146.9h.8v.8h-.8zM212.5 145.7h.8v.8h-.8zM212.2 145.0h.8v.8h-.8zM212.5 143.9h.8v.8h-.8zM212.7 157.7h.8v.8h-.8zM212.9 157.5h.8v.8h-.8zM212.7 155.4h.8v.8h-.8zM212.7 154.8h.8v.8h-.8zM212.8 153.7h.8v.8h-.8zM213.0 151.7h.8v.8h-.8zM212.8 151.0h.8v.8h-.8zM212.9 146.0h.8v.8h-.8zM213.0 145.2h.8v.8h-.8zM213.0 143.5h.8v.8h-.8zM212.9 134.0h.8v.8h-.8zM212.8 132.2h.8v.8h-.8zM213.4 161.4h.8v.8h-.8zM213.3 159.4h.8v.8h-.8zM213.5 159.0h.8v.8h-.8zM213.5 156.2h.8v.8h-.8zM213.4 150.5h.8v.8h-.8zM213.2 149.4h.8v.8h-.8zM213.5 147.7h.8v.8h-.8zM213.8 160.9h.8v.8h-.8zM213.8 159.5h.8v.8h-.8zM213.8 157.7h.8v.8h-.8zM214.0 154.3h.8v.8h-.8zM213.7 152.4h.8v.8h-.8zM213.7 150.2h.8v.8h-.8zM213.9 149.8h.8v.8h-.8zM213.8 148.4h.8v.8h-.8zM213.8 146.8h.8v.8h-.8zM213.8 145.3h.8v.8h-.8zM213.8 143.2h.8v.8h-.8zM214.3 155.3h.8v.8h-.8zM214.2 152.7h.8v.8h-.8zM214.2 151.4h.8v.8h-.8zM214.2 148.9h.8v.8h-.8zM214.4 146.4h.8v.8h-.8zM214.4 145.5h.8v.8h-.8zM214.4 144.7h.8v.8h-.8zM214.4 137.0h.8v.8h-.8zM214.7 162.2h.8v.8h-.8zM214.8 159.3h.8v.8h-.8zM214.8 157.5h.8v.8h-.8zM215.0 155.7h.8v.8h-.8zM214.8 154.0h.8v.8h-.8zM214.8 148.0h.8v.8h-.8zM214.8 130.2h.8v.8h-.8zM215.2 156.8h.8v.8h-.8zM215.4 155.0h.8v.8h-.8zM215.4 152.7h.8v.8h-.8zM215.3 152.0h.8v.8h-.8zM215.2 146.4h.8v.8h-.8zM215.4 142.2h.8v.8h-.8zM215.7 160.3h.8v.8h-.8zM215.9 156.0h.8v.8h-.8zM216.0 154.8h.8v.8h-.8zM216.0 146.0h.8v.8h-.8zM216.3 159.7h.8v.8h-.8zM216.7 162.0h.8v.8h-.8zM216.7 160.8h.8v.8h-.8zM216.9 159.2h.8v.8h-.8zM217.3 158.0h.8v.8h-.8zM217.4 151.8h.8v.8h-.8zM218.0 161.0h.8v.8h-.8zM217.8 157.2h.8v.8h-.8zM217.9 155.3h.8v.8h-.8zM217.7 154.4h.8v.8h-.8zM218.0 148.2h.8v.8h-.8zM217.7 143.4h.8v.8h-.8zM218.4 155.3h.8v.8h-.8zM218.5 143.3h.8v.8h-.8zM218.8 150.3h.8v.8h-.8zM218.9 134.2h.8v.8h-.8zM219.3 162.4h.8v.8h-.8zM219.3 152.4h.8v.8h-.8zM219.8 161.8h.8v.8h-.8zM219.9 159.5h.8v.8h-.8zM219.8 152.9h.8v.8h-.8zM219.8 148.2h.8v.8h-.8zM220.5 159.9h.8v.8h-.8zM220.3 158.4h.8v.8h-.8zM220.5 149.5h.8v.8h-.8zM221.0 163.7h.8v.8h-.8zM220.8 162.5h.8v.8h-.8zM221.2 163.2h.8v.8h-.8zM222.7 164.8h.8v.8h-.8zM223.8 164.8h.8v.8h-.8zM223.8 161.7h.8v.8h-.8zM224.2 171.3h.8v.8h-.8zM224.5 170.5h.8v.8h-.8zM224.5 168.8h.8v.8h-.8zM224.4 168.2h.8v.8h-.8zM224.4 163.5h.8v.8h-.8zM225.0 174.0h.8v.8h-.8zM224.8 171.4h.8v.8h-.8zM224.9 169.5h.8v.8h-.8zM225.3 175.5h.8v.8h-.8zM225.3 172.9h.8v.8h-.8zM225.5 165.0h.8v.8h-.8zM225.5 160.9h.8v.8h-.8zM225.8 176.5h.8v.8h-.8zM225.7 173.0h.8v.8h-.8zM225.8 170.7h.8v.8h-.8zM226.7 166.3h.8v.8h-.8zM227.9 164.5h.8v.8h-.8zM228.7 165.8h.8v.8h-.8zM229.3 165.8h.8v.8h-.8zM229.7 166.2h.8v.8h-.8zM230.4 161.5h.8v.8h-.8z" fill="#444" filter="url(#bl)"/>
<line x1="197.3" y1="105.5" x2="197.3" y2="178" stroke="#777" stroke-width="0.8"/>
<line x1="167" y1="161.4" x2="243.5" y2="161.4" stroke="#999" stroke-width="0.9"/>
<rect x="167" y="105.5" width="76.5" height="72.5" fill="none" stroke="#000" stroke-width="1.5"/>
<text x="242.7" y="118.0" font-size="10.4" text-anchor="end" >11 ± 1.2%</text>
<text x="165.5" y="185" font-size="4" fill="#aaa" font-family="Liberation Sans, sans-serif">10<tspan dy="-1.5" font-size="2.8">0</tspan></text>
<text x="160" y="179.5" font-size="4" fill="#aaa" font-family="Liberation Sans, sans-serif">10<tspan dy="-1.5" font-size="2.8">0</tspan></text>
<text x="184.5" y="185" font-size="4" fill="#aaa" font-family="Liberation Sans, sans-serif">10<tspan dy="-1.5" font-size="2.8">1</tspan></text>
<text x="160" y="161.3" font-size="4" fill="#aaa" font-family="Liberation Sans, sans-serif">10<tspan dy="-1.5" font-size="2.8">1</tspan></text>
<text x="203.5" y="185" font-size="4" fill="#aaa" font-family="Liberation Sans, sans-serif">10<tspan dy="-1.5" font-size="2.8">2</tspan></text>
<text x="160" y="143.1" font-size="4" fill="#aaa" font-family="Liberation Sans, sans-serif">10<tspan dy="-1.5" font-size="2.8">2</tspan></text>
<text x="222.5" y="185" font-size="4" fill="#aaa" font-family="Liberation Sans, sans-serif">10<tspan dy="-1.5" font-size="2.8">3</tspan></text>
<text x="160" y="124.9" font-size="4" fill="#aaa" font-family="Liberation Sans, sans-serif">10<tspan dy="-1.5" font-size="2.8">3</tspan></text>
<line x1="50.3" y1="146.5" x2="50.3" y2="22" stroke="#000" stroke-width="1.4"/>
<path d="M46.9 23.2 L50.3 17 L53.7 23.2 Z" fill="#000"/>
<line x1="94" y1="196.8" x2="232" y2="196.8" stroke="#000" stroke-width="1.4"/>
<path d="M231 193.8 L237.4 196.8 L231 199.9 Z" fill="#000"/>
<text x="66" y="200.8" font-size="10.4" text-anchor="start" >CD8</text>
<text x="0" y="0" font-size="10.2" transform="translate(54.5,177.2) rotate(-90)">IFN-γ</text>
<text x="0" y="228.3" font-size="12.5" text-anchor="start" >B</text>
<line x1="48.5" y1="221.5" x2="48.5" y2="358.3" stroke="#000" stroke-width="1.4"/>
<line x1="48.5" y1="358.3" x2="240.74" y2="358.3" stroke="#000" stroke-width="1.4"/>
<line x1="45.5" y1="358.3" x2="48.5" y2="358.3" stroke="#000" stroke-width="1.2"/>
<text x="43" y="361.7" font-size="9.4" text-anchor="end" >0</text>
<line x1="45.5" y1="324.1" x2="48.5" y2="324.1" stroke="#000" stroke-width="1.2"/>
<text x="43" y="327.5" font-size="9.4" text-anchor="end" >5</text>
<line x1="45.5" y1="289.9" x2="48.5" y2="289.9" stroke="#000" stroke-width="1.2"/>
<text x="43" y="293.29999999999995" font-size="9.4" text-anchor="end" >10</text>
<line x1="45.5" y1="255.7" x2="48.5" y2="255.7" stroke="#000" stroke-width="1.2"/>
<text x="43" y="259.1" font-size="9.4" text-anchor="end" >15</text>
<line x1="45.5" y1="221.5" x2="48.5" y2="221.5" stroke="#000" stroke-width="1.2"/>
<text x="43" y="224.9" font-size="9.4" text-anchor="end" >20</text>
<line x1="48.5" y1="358.3" x2="48.5" y2="361.3" stroke="#000" stroke-width="1.2"/>
<text x="48.5" y="373.6" font-size="9.4" text-anchor="middle" >0</text>
<line x1="80.5" y1="358.3" x2="80.5" y2="361.3" stroke="#000" stroke-width="1.2"/>
<text x="80.5" y="373.6" font-size="9.4" text-anchor="middle" >2</text>
<line x1="112.6" y1="358.3" x2="112.6" y2="361.3" stroke="#000" stroke-width="1.2"/>
<text x="112.6" y="373.6" font-size="9.4" text-anchor="middle" >4</text>
<line x1="144.6" y1="358.3" x2="144.6" y2="361.3" stroke="#000" stroke-width="1.2"/>
<text x="144.6" y="373.6" font-size="9.4" text-anchor="middle" >6</text>
<line x1="176.7" y1="358.3" x2="176.7" y2="361.3" stroke="#000" stroke-width="1.2"/>
<text x="176.7" y="373.6" font-size="9.4" text-anchor="middle" >8</text>
<line x1="208.7" y1="358.3" x2="208.7" y2="361.3" stroke="#000" stroke-width="1.2"/>
<text x="208.7" y="373.6" font-size="9.4" text-anchor="middle" >10</text>
<line x1="240.7" y1="358.3" x2="240.7" y2="361.3" stroke="#000" stroke-width="1.2"/>
<text x="240.7" y="373.6" font-size="9.4" text-anchor="middle" >12</text>
<text x="147.2" y="392.9" font-size="10.4" text-anchor="middle" >Day after DC transfer</text>
<text font-size="10.6" text-anchor="middle" transform="translate(22.6,289) rotate(-90)">Tetramer<tspan dy="-3" font-size="6.5">+</tspan><tspan dy="3"> of CD8</tspan><tspan dy="-3" font-size="6.5">+</tspan><tspan dy="3"> T cells (%)</tspan></text>
<line x1="112.6" y1="321.4" x2="112.6" y2="300.8" stroke="#000" stroke-width="1.0"/>
<line x1="110.6" y1="300.8" x2="114.6" y2="300.8" stroke="#000" stroke-width="1.0"/>
<line x1="112.6" y1="326.2" x2="112.6" y2="313.2" stroke="#000" stroke-width="1.0"/>
<line x1="110.6" y1="313.2" x2="114.6" y2="313.2" stroke="#000" stroke-width="1.0"/>
<line x1="144.6" y1="273.5" x2="144.6" y2="257.8" stroke="#000" stroke-width="1.0"/>
<line x1="142.6" y1="257.8" x2="146.6" y2="257.8" stroke="#000" stroke-width="1.0"/>
<line x1="144.6" y1="352.1" x2="144.6" y2="334.4" stroke="#000" stroke-width="1.0"/>
<line x1="142.6" y1="334.4" x2="146.6" y2="334.4" stroke="#000" stroke-width="1.0"/>
<line x1="176.7" y1="325.5" x2="176.7" y2="311.8" stroke="#000" stroke-width="1.0"/>
<line x1="174.7" y1="311.8" x2="178.7" y2="311.8" stroke="#000" stroke-width="1.0"/>
<line x1="176.7" y1="352.8" x2="176.7" y2="347.4" stroke="#000" stroke-width="1.0"/>
<line x1="174.7" y1="347.4" x2="178.7" y2="347.4" stroke="#000" stroke-width="1.0"/>
<polyline points="80.5,355.9 112.6,337.8 144.6,352.8 176.7,353.5 224.7,356.2" fill="none" stroke="#000" stroke-width="1.5"/>
<polyline points="80.5,355.9 112.6,327.5 144.6,352.1 176.7,352.8 224.7,352.8" fill="none" stroke="#000" stroke-width="1.5"/>
<polyline points="80.5,355.9 112.6,330.9 144.6,353.5 176.7,354.2 224.7,351.5" fill="none" stroke="#000" stroke-width="1.5"/>
<polyline points="80.5,356.2 112.6,355.6 144.6,355.6 176.7,357.6 224.7,357.6" fill="none" stroke="#000" stroke-width="1.5"/>
<polyline points="80.5,355.9 112.6,321.4 144.6,273.5 176.7,325.5 224.7,343.9" fill="none" stroke="#000" stroke-width="1.5"/>
<rect x="76.7" y="352.1" width="7.6" height="7.6" fill="#000"/>
<rect x="108.8" y="334.0" width="7.6" height="7.6" fill="#000"/>
<rect x="140.8" y="349.0" width="7.6" height="7.6" fill="#000"/>
<rect x="172.9" y="349.7" width="7.6" height="7.6" fill="#000"/>
<rect x="220.9" y="352.4" width="7.6" height="7.6" fill="#000"/>
<path d="M76.4 359.8L80.5 352.0L84.6 359.8Z" fill="#000"/>
<path d="M108.5 331.4L112.6 323.6L116.7 331.4Z" fill="#000"/>
<path d="M140.5 356.0L144.6 348.2L148.7 356.0Z" fill="#000"/>
<path d="M172.6 356.7L176.7 348.9L180.8 356.7Z" fill="#000"/>
<path d="M220.6 356.7L224.7 348.9L228.8 356.7Z" fill="#000"/>
<path d="M76.9 359.4L80.5 352.6L84.1 359.4Z" fill="#fff" stroke="#000" stroke-width="1.1"/>
<path d="M109.0 334.4L112.6 327.6L116.2 334.4Z" fill="#fff" stroke="#000" stroke-width="1.1"/>
<path d="M141.0 357.0L144.6 350.2L148.2 357.0Z" fill="#fff" stroke="#000" stroke-width="1.1"/>
<path d="M173.1 357.7L176.7 350.9L180.3 357.7Z" fill="#fff" stroke="#000" stroke-width="1.1"/>
<path d="M221.1 355.0L224.7 348.2L228.3 355.0Z" fill="#fff" stroke="#000" stroke-width="1.1"/>
<circle cx="80.5" cy="356.2" r="3.4999999999999996" fill="#fff" stroke="#000" stroke-width="1.2"/>
<circle cx="112.6" cy="355.6" r="3.4999999999999996" fill="#fff" stroke="#000" stroke-width="1.2"/>
<circle cx="144.6" cy="355.6" r="3.4999999999999996" fill="#fff" stroke="#000" stroke-width="1.2"/>
<circle cx="176.7" cy="357.6" r="3.4999999999999996" fill="#fff" stroke="#000" stroke-width="1.2"/>
<circle cx="224.7" cy="357.6" r="3.4999999999999996" fill="#fff" stroke="#000" stroke-width="1.2"/>
<circle cx="80.5" cy="355.9" r="4.1" fill="#000"/>
<circle cx="112.6" cy="321.4" r="4.1" fill="#000"/>
<circle cx="144.6" cy="273.5" r="4.1" fill="#000"/>
<circle cx="176.7" cy="325.5" r="4.1" fill="#000"/>
<circle cx="224.7" cy="343.9" r="4.1" fill="#000"/>
<text x="146.2" y="253.8" font-size="18" text-anchor="middle" >***</text>
<text x="178" y="309.7" font-size="18" text-anchor="middle" >**</text>
<text x="259.6" y="228.3" font-size="12.5" text-anchor="start" >C</text>
<line x1="306.0" y1="222.51" x2="306.0" y2="361.5" stroke="#000" stroke-width="1.4"/>
<line x1="306.0" y1="361.5" x2="495.5" y2="361.5" stroke="#000" stroke-width="1.4"/>
<line x1="303.0" y1="361.5" x2="306.0" y2="361.5" stroke="#000" stroke-width="1.2"/>
<text x="299.8" y="364.2" font-size="9.4" text-anchor="end" >0</text>
<line x1="303.0" y1="338.3" x2="306.0" y2="338.3" stroke="#000" stroke-width="1.2"/>
<text x="299.8" y="341.03499999999997" font-size="9.4" text-anchor="end" >50</text>
<line x1="303.0" y1="315.2" x2="306.0" y2="315.2" stroke="#000" stroke-width="1.2"/>
<text x="299.8" y="317.87" font-size="9.4" text-anchor="end" >100</text>
<line x1="303.0" y1="292.0" x2="306.0" y2="292.0" stroke="#000" stroke-width="1.2"/>
<text x="299.8" y="294.705" font-size="9.4" text-anchor="end" >150</text>
<line x1="303.0" y1="268.8" x2="306.0" y2="268.8" stroke="#000" stroke-width="1.2"/>
<text x="299.8" y="271.54" font-size="9.4" text-anchor="end" >200</text>
<line x1="303.0" y1="245.7" x2="306.0" y2="245.7" stroke="#000" stroke-width="1.2"/>
<text x="299.8" y="248.375" font-size="9.4" text-anchor="end" >250</text>
<line x1="303.0" y1="222.5" x2="306.0" y2="222.5" stroke="#000" stroke-width="1.2"/>
<text x="299.8" y="225.20999999999998" font-size="9.4" text-anchor="end" >300</text>
<line x1="306.0" y1="361.5" x2="306.0" y2="364.5" stroke="#000" stroke-width="1.2"/>
<text x="306.0" y="376.6" font-size="9.4" text-anchor="middle" >0</text>
<line x1="343.9" y1="361.5" x2="343.9" y2="364.5" stroke="#000" stroke-width="1.2"/>
<text x="343.9" y="376.6" font-size="9.4" text-anchor="middle" >5</text>
<line x1="381.8" y1="361.5" x2="381.8" y2="364.5" stroke="#000" stroke-width="1.2"/>
<text x="381.8" y="376.6" font-size="9.4" text-anchor="middle" >10</text>
<line x1="419.7" y1="361.5" x2="419.7" y2="364.5" stroke="#000" stroke-width="1.2"/>
<text x="419.7" y="376.6" font-size="9.4" text-anchor="middle" >15</text>
<line x1="457.6" y1="361.5" x2="457.6" y2="364.5" stroke="#000" stroke-width="1.2"/>
<text x="457.6" y="376.6" font-size="9.4" text-anchor="middle" >20</text>
<line x1="495.5" y1="361.5" x2="495.5" y2="364.5" stroke="#000" stroke-width="1.2"/>
<text x="495.5" y="376.6" font-size="9.4" text-anchor="middle" >25</text>
<text x="403.2" y="396.2" font-size="10.4" text-anchor="middle" >Day after DC transfer</text>
<text font-size="10.4" text-anchor="middle" transform="translate(267.6,285.5) rotate(-90)">Tumor size (mm<tspan dy="-3" font-size="6.5">2</tspan><tspan dy="3">)</tspan></text>
<line x1="366.6" y1="356.9" x2="366.6" y2="347.1" stroke="#000" stroke-width="1.0"/>
<line x1="364.6" y1="347.1" x2="368.6" y2="347.1" stroke="#000" stroke-width="1.0"/>
<line x1="381.8" y1="339.3" x2="381.8" y2="328.1" stroke="#000" stroke-width="1.0"/>
<line x1="379.8" y1="328.1" x2="383.8" y2="328.1" stroke="#000" stroke-width="1.0"/>
<line x1="397.0" y1="334.6" x2="397.0" y2="324.4" stroke="#000" stroke-width="1.0"/>
<line x1="395.0" y1="324.4" x2="399.0" y2="324.4" stroke="#000" stroke-width="1.0"/>
<line x1="427.3" y1="309.1" x2="427.3" y2="297.6" stroke="#000" stroke-width="1.0"/>
<line x1="425.3" y1="297.6" x2="429.3" y2="297.6" stroke="#000" stroke-width="1.0"/>
<line x1="465.2" y1="293.9" x2="465.2" y2="239.7" stroke="#000" stroke-width="1.0"/>
<line x1="463.2" y1="239.7" x2="467.2" y2="239.7" stroke="#000" stroke-width="1.0"/>
<line x1="465.2" y1="356.9" x2="465.2" y2="350.8" stroke="#000" stroke-width="1.0"/>
<line x1="463.2" y1="350.8" x2="467.2" y2="350.8" stroke="#000" stroke-width="1.0"/>
<line x1="427.3" y1="314.7" x2="427.3" y2="303.6" stroke="#000" stroke-width="0.9"/>
<line x1="425.7" y1="303.6" x2="428.9" y2="303.6" stroke="#000" stroke-width="0.9"/>
<line x1="465.2" y1="267.0" x2="465.2" y2="247.1" stroke="#000" stroke-width="0.9"/>
<line x1="463.6" y1="247.1" x2="466.8" y2="247.1" stroke="#000" stroke-width="0.9"/>
<polyline points="328.7,361.5 366.6,359.2 381.8,356.9 397.0,343.0 427.3,333.7 465.2,302.7" fill="none" stroke="#000" stroke-width="1.5"/>
<polyline points="328.7,361.5 366.6,358.7 381.8,355.9 397.0,342.0 427.3,325.8 465.2,293.9" fill="none" stroke="#000" stroke-width="1.5"/>
<polyline points="328.7,361.5 366.6,357.8 381.8,348.5 397.0,340.2 427.3,314.7 465.2,267.0" fill="none" stroke="#000" stroke-width="1.5"/>
<polyline points="328.7,361.5 366.6,356.9 381.8,339.3 397.0,334.6 427.3,309.1 465.2,263.7" fill="none" stroke="#000" stroke-width="1.5"/>
<polyline points="328.7,361.5 366.6,360.6 381.8,360.1 397.0,361.5 427.3,361.5 465.2,356.9" fill="none" stroke="#000" stroke-width="1.5"/>
<rect x="324.9" y="357.7" width="7.6" height="7.6" fill="#000"/>
<rect x="362.8" y="355.4" width="7.6" height="7.6" fill="#000"/>
<rect x="378.0" y="353.1" width="7.6" height="7.6" fill="#000"/>
<rect x="393.2" y="339.2" width="7.6" height="7.6" fill="#000"/>
<rect x="423.5" y="329.9" width="7.6" height="7.6" fill="#000"/>
<rect x="461.4" y="298.9" width="7.6" height="7.6" fill="#000"/>
<path d="M324.6 365.4L328.7 357.6L332.8 365.4Z" fill="#000"/>
<path d="M362.5 362.6L366.6 354.8L370.7 362.6Z" fill="#000"/>
<path d="M377.7 359.8L381.8 352.0L385.9 359.8Z" fill="#000"/>
<path d="M392.9 345.9L397.0 338.1L401.1 345.9Z" fill="#000"/>
<path d="M423.2 329.7L427.3 321.9L431.4 329.7Z" fill="#000"/>
<path d="M461.1 297.8L465.2 290.0L469.3 297.8Z" fill="#000"/>
<path d="M325.1 365.0L328.7 358.2L332.3 365.0Z" fill="#fff" stroke="#000" stroke-width="1.1"/>
<path d="M363.0 360.4L366.6 353.6L370.2 360.4Z" fill="#fff" stroke="#000" stroke-width="1.1"/>
<path d="M378.2 342.8L381.8 336.0L385.4 342.8Z" fill="#fff" stroke="#000" stroke-width="1.1"/>
<path d="M393.4 338.1L397.0 331.3L400.6 338.1Z" fill="#fff" stroke="#000" stroke-width="1.1"/>
<path d="M423.7 312.6L427.3 305.9L430.9 312.6Z" fill="#fff" stroke="#000" stroke-width="1.1"/>
<path d="M461.6 267.2L465.2 260.4L468.8 267.2Z" fill="#fff" stroke="#000" stroke-width="1.1"/>
<circle cx="328.7" cy="361.5" r="3.4999999999999996" fill="#fff" stroke="#000" stroke-width="1.2"/>
<circle cx="366.6" cy="357.8" r="3.4999999999999996" fill="#fff" stroke="#000" stroke-width="1.2"/>
<circle cx="381.8" cy="348.5" r="3.4999999999999996" fill="#fff" stroke="#000" stroke-width="1.2"/>
<circle cx="397.0" cy="340.2" r="3.4999999999999996" fill="#fff" stroke="#000" stroke-width="1.2"/>
<circle cx="427.3" cy="314.7" r="3.4999999999999996" fill="#fff" stroke="#000" stroke-width="1.2"/>
<circle cx="465.2" cy="267.0" r="3.4999999999999996" fill="#fff" stroke="#000" stroke-width="1.2"/>
<circle cx="328.7" cy="361.5" r="4.1" fill="#000"/>
<circle cx="366.6" cy="360.6" r="4.1" fill="#000"/>
<circle cx="381.8" cy="360.1" r="4.1" fill="#000"/>
<circle cx="397.0" cy="361.5" r="4.1" fill="#000"/>
<circle cx="427.3" cy="361.5" r="4.1" fill="#000"/>
<circle cx="465.2" cy="356.9" r="4.1" fill="#000"/>
<text x="397.1" y="358.9" font-size="18" text-anchor="middle" >*</text>
<text x="427" y="358.9" font-size="18" text-anchor="middle" >*</text>
<text x="466" y="351.1" font-size="18" text-anchor="middle" >*</text>
<text x="0" y="424.2" font-size="12.5" text-anchor="start" >D</text>
<line x1="40.4" y1="417.69999999999993" x2="40.4" y2="556.3" stroke="#000" stroke-width="1.4"/>
<line x1="40.4" y1="556.3" x2="347.5" y2="556.3" stroke="#000" stroke-width="1.4"/>
<line x1="37.4" y1="556.3" x2="40.4" y2="556.3" stroke="#000" stroke-width="1.2"/>
<text x="34.3" y="559.6999999999999" font-size="9.4" text-anchor="end" >0</text>
<line x1="37.4" y1="533.2" x2="40.4" y2="533.2" stroke="#000" stroke-width="1.2"/>
<text x="34.3" y="536.5999999999999" font-size="9.4" text-anchor="end" >20</text>
<line x1="37.4" y1="510.1" x2="40.4" y2="510.1" stroke="#000" stroke-width="1.2"/>
<text x="34.3" y="513.5" font-size="9.4" text-anchor="end" >40</text>
<line x1="37.4" y1="487.0" x2="40.4" y2="487.0" stroke="#000" stroke-width="1.2"/>
<text x="34.3" y="490.3999999999999" font-size="9.4" text-anchor="end" >60</text>
<line x1="37.4" y1="463.9" x2="40.4" y2="463.9" stroke="#000" stroke-width="1.2"/>
<text x="34.3" y="467.29999999999995" font-size="9.4" text-anchor="end" >80</text>
<line x1="37.4" y1="440.8" x2="40.4" y2="440.8" stroke="#000" stroke-width="1.2"/>
<text x="34.3" y="444.19999999999993" font-size="9.4" text-anchor="end" >100</text>
<line x1="37.4" y1="417.7" x2="40.4" y2="417.7" stroke="#000" stroke-width="1.2"/>
<text x="34.3" y="421.0999999999999" font-size="9.4" text-anchor="end" >120</text>
<line x1="40.4" y1="556.3" x2="40.4" y2="559.3" stroke="#000" stroke-width="1.2"/>
<text x="40.4" y="571.8" font-size="9.4" text-anchor="middle" >0</text>
<line x1="77.9" y1="556.3" x2="77.9" y2="559.3" stroke="#000" stroke-width="1.2"/>
<text x="77.9" y="571.8" font-size="9.4" text-anchor="middle" >5</text>
<line x1="115.4" y1="556.3" x2="115.4" y2="559.3" stroke="#000" stroke-width="1.2"/>
<text x="115.4" y="571.8" font-size="9.4" text-anchor="middle" >10</text>
<line x1="152.9" y1="556.3" x2="152.9" y2="559.3" stroke="#000" stroke-width="1.2"/>
<text x="152.9" y="571.8" font-size="9.4" text-anchor="middle" >15</text>
<line x1="190.4" y1="556.3" x2="190.4" y2="559.3" stroke="#000" stroke-width="1.2"/>
<text x="190.4" y="571.8" font-size="9.4" text-anchor="middle" >20</text>
<line x1="227.9" y1="556.3" x2="227.9" y2="559.3" stroke="#000" stroke-width="1.2"/>
<text x="227.9" y="571.8" font-size="9.4" text-anchor="middle" >25</text>
<line x1="265.4" y1="556.3" x2="265.4" y2="559.3" stroke="#000" stroke-width="1.2"/>
<text x="265.4" y="571.8" font-size="9.4" text-anchor="middle" >30</text>
<line x1="311.1" y1="556.3" x2="311.1" y2="559.3" stroke="#000" stroke-width="1.2"/>
<text x="311.1" y="571.8" font-size="9.4" text-anchor="middle" >60</text>
<line x1="347.5" y1="556.3" x2="347.5" y2="559.3" stroke="#000" stroke-width="1.2"/>
<text x="347.5" y="571.8" font-size="9.4" text-anchor="middle" >65</text>
<rect x="292.5" y="551" width="8" height="10" fill="#fff"/>
<line x1="292" y1="560" x2="296.5" y2="551.5" stroke="#000" stroke-width="1.2"/>
<line x1="296" y1="560" x2="300.5" y2="551.5" stroke="#000" stroke-width="1.2"/>
<text x="192.6" y="588.1" font-size="10.4" text-anchor="middle" >Day after DC transfer</text>
<text font-size="10.4" text-anchor="middle" transform="translate(10,495) rotate(-90)">Survival (%)</text>
<polyline points="40.4,440.8 265.4,440.8" fill="none" stroke="#000" stroke-width="1.5"/>
<polyline points="265.4,440.8 289.2,440.8 289.2,461.8 311.1,461.8 311.1,487.0" fill="none" stroke="#000" stroke-width="1.5" stroke-dasharray="3.5,2.2"/>
<polyline points="311.1,487.0 347.5,487.0" fill="none" stroke="#000" stroke-width="1.5"/>
<polyline points="130.4,440.8 130.4,487.0 197.9,487.0 197.9,556.3" fill="none" stroke="#000" stroke-width="1.5"/>
<polyline points="130.4,463.9 160.4,463.9 160.4,533.2 197.9,533.2" fill="none" stroke="#000" stroke-width="1.5"/>
<polyline points="160.4,487.0 160.4,463.9" fill="none" stroke="#000" stroke-width="1.5"/>
<rect x="36.4" y="436.8" width="8.0" height="8.0" fill="#000"/>
<rect x="58.9" y="436.8" width="8.0" height="8.0" fill="#000"/>
<rect x="96.4" y="436.8" width="8.0" height="8.0" fill="#000"/>
<rect x="111.4" y="436.8" width="8.0" height="8.0" fill="#000"/>
<rect x="126.4" y="436.8" width="8.0" height="8.0" fill="#000"/>
<circle cx="160.4" cy="440.8" r="4.0" fill="#000"/>
<circle cx="197.9" cy="440.8" r="4.0" fill="#000"/>
<circle cx="227.9" cy="440.8" r="4.0" fill="#000"/>
<circle cx="265.4" cy="440.8" r="4.0" fill="#000"/>
<circle cx="311.1" cy="487.0" r="4.0" fill="#000"/>
<circle cx="347.5" cy="487.0" r="4.0" fill="#000"/>
<rect x="126.5" y="483.1" width="7.8" height="7.8" fill="#000"/>
<rect x="156.5" y="483.1" width="7.8" height="7.8" fill="#000"/>
<path d="M193.9 490.8L197.9 483.2L201.9 490.8Z" fill="#000"/>
<path d="M126.3 467.4L130.4 459.6L134.5 467.4Z" fill="#fff" stroke="#000" stroke-width="1.1"/>
<circle cx="130.4" cy="463.4" r="3.6" fill="#fff" stroke="#000" stroke-width="1.2"/>
<path d="M156.3 467.4L160.4 459.6L164.5 467.4Z" fill="#fff" stroke="#000" stroke-width="1.1"/>
<circle cx="160.4" cy="463.4" r="3.6" fill="#fff" stroke="#000" stroke-width="1.2"/>
<rect x="156.4" y="529.1" width="8" height="8.2" fill="#000"/>
<circle cx="160.4" cy="533.2" r="3.1" fill="#fff"/>
<rect x="193.9" y="529.1" width="8" height="8.2" fill="#000"/>
<circle cx="197.9" cy="533.2" r="3.1" fill="#fff"/>
<rect x="193.9" y="552.2" width="8" height="8.2" fill="#000"/>
<circle cx="197.9" cy="556.3" r="3.1" fill="#fff"/>
<rect x="360" y="412.8" width="158.5" height="104.2" fill="none" stroke="#000" stroke-width="1.2"/>
<text x="380.1" y="427.3" font-size="9.2" text-anchor="start" >T cells</text>
<text x="433.3" y="427.3" font-size="9.2" text-anchor="start" >DC</text>
<text x="481" y="427.3" font-size="9.2" text-anchor="start" >peptide</text>
<circle cx="369.8" cy="443.7" r="3.4" fill="#000"/>
<text x="385.2" y="448" font-size="9.2" text-anchor="start" >WT</text>
<text x="424.6" y="448" font-size="9.2" text-anchor="start" >CD70tg</text>
<text x="498.6" y="448" font-size="9.2" text-anchor="middle" >+</text>
<circle cx="369.8" cy="458.6" r="2.8" fill="#fff" stroke="#000" stroke-width="1.2"/>
<text x="385.2" y="462.9" font-size="9.2" text-anchor="start" >WT</text>
<text x="424.6" y="462.9" font-size="9.2" text-anchor="start" >CD70tg</text>
<text x="498.6" y="462.9" font-size="9.2" text-anchor="middle" >-</text>
<path d="M366.7 476.5L369.8 470.7L372.9 476.5Z" fill="#fff" stroke="#000" stroke-width="1.1"/>
<text x="385.2" y="477.8" font-size="9.2" text-anchor="start" >CD27<tspan dy="-3.2" font-size="6.2" style="font-weight:normal">-/-</tspan></text>
<text x="424.6" y="477.8" font-size="9.2" text-anchor="start" >CD70tg</text>
<text x="498.6" y="477.8" font-size="9.2" text-anchor="middle" >+</text>
<path d="M366.2 491.9L369.8 485.1L373.4 491.9Z" fill="#000"/>
<text x="385.2" y="492.8" font-size="9.2" text-anchor="start" >WT</text>
<text x="424.6" y="492.8" font-size="9.2" text-anchor="start" >control</text>
<text x="498.6" y="492.8" font-size="9.2" text-anchor="middle" >+</text>
<rect x="366.7" y="500.2" width="6.2" height="6.2" fill="#000"/>
<text x="385.2" y="507.6" font-size="9.2" text-anchor="start" >CD27<tspan dy="-3.2" font-size="6.2" style="font-weight:normal">-/-</tspan></text>
<text x="424.6" y="507.6" font-size="9.2" text-anchor="start" >control</text>
<text x="498.6" y="507.6" font-size="9.2" text-anchor="middle" >+</text>
</svg>
</body></html>
